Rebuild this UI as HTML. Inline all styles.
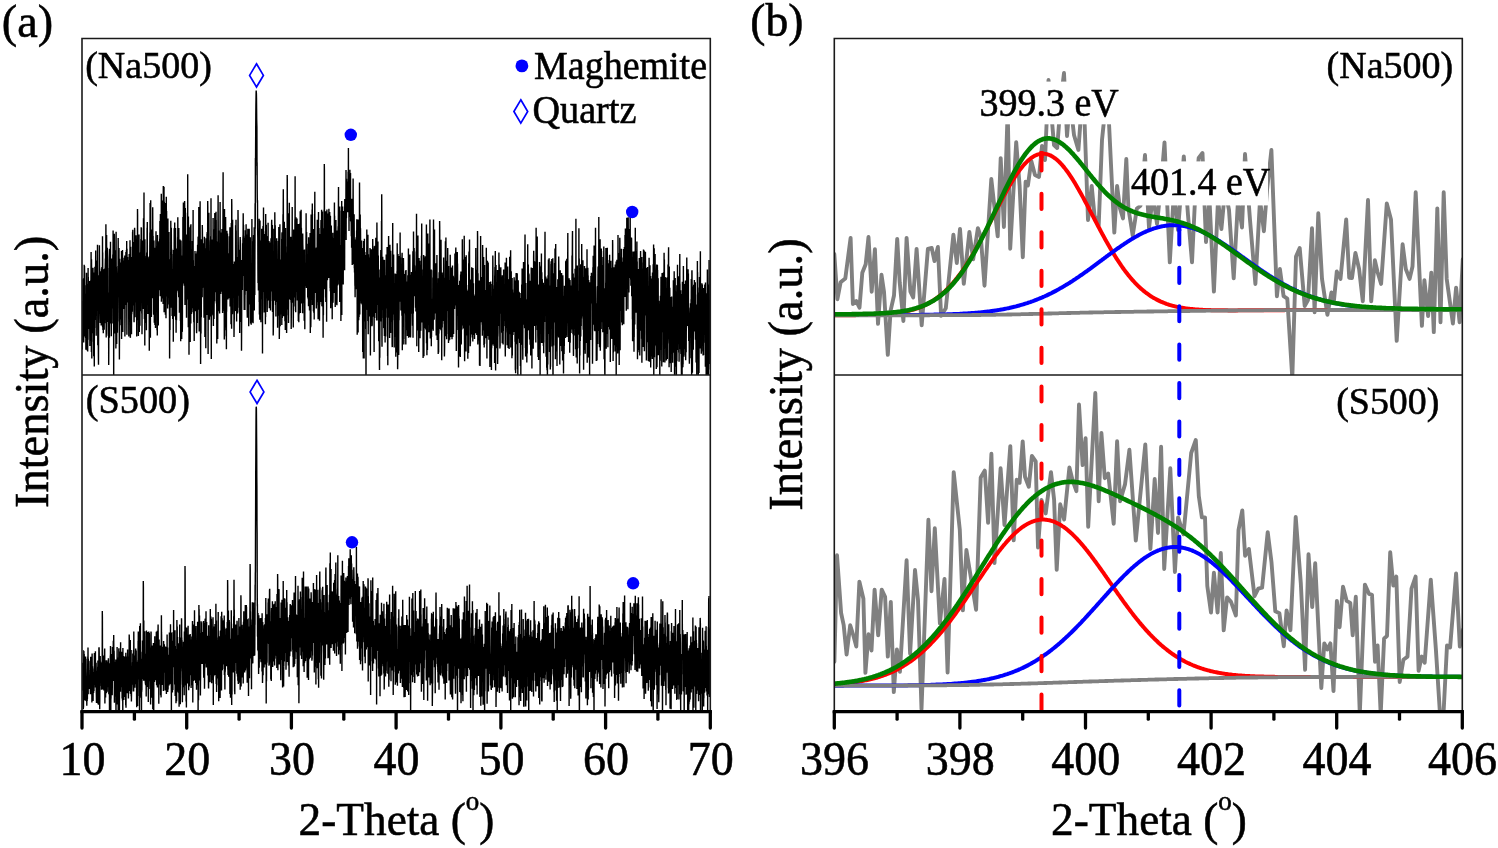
<!DOCTYPE html><html><head><meta charset="utf-8"><title>XRD and XPS</title><style>html,body{margin:0;padding:0;background:#fff;overflow:hidden}svg{display:block;will-change:transform}text{font-family:"Liberation Serif",serif;fill:#000;stroke:#000;stroke-width:0.55px}</style></head><body>
<svg width="1498" height="848" viewBox="0 0 1498 848">
<defs>
<clipPath id="ca1"><rect x="82.0" y="38.5" width="628.3" height="336.5"/></clipPath>
<clipPath id="ca2"><rect x="82.0" y="375.0" width="628.3" height="336.6"/></clipPath>
<clipPath id="cb1"><rect x="834.3" y="38.5" width="628.0" height="336.5"/></clipPath>
<clipPath id="cb2"><rect x="834.3" y="375.0" width="628.0" height="336.6"/></clipPath>
</defs>
<rect width="1498" height="848" fill="#fff"/>
<path clip-path="url(#ca1)" d="M82 301.8l0.1 46.8 0.1 1 0.1-18.1 0.1-5 0.1-25.4 0.1 3.4 0.1 8.8 0.1 0.1 0.1-34.2 0.1 63 0.2-18 0.1-3.4 0.1-20.3 0.1-22.2 0.1 54.8 0.1 9.5 0.1-27.6 0.1 6.1 0.1-16 0.1-2 0.1-38.3 0.1 56.9 0.1-32.4 0.1-23.3 0.1 7.1 0.1 13.6 0.1 11.4 0.1-3.9 0.1-8.9 0.1 51.2 0.1-6.6 0.2-36.1 0.1 21.3 0.1 22.8 0.1-24.2 0.1 5.1 0.1 31 0.1-37.1 0.1-6.4 0.1 23.5 0.1-27 0.1 43.2 0.1-73.3 0.1 17.5 0.1 2.2 0.1-8.1 0.1 2.9 0.1 49.9 0.1-30.6 0.1 43.9 0.1-34.2 0.1 10.9 0.1-10.4 0.2 34.8 0.1-49.2 0.1-7.8 0.1 45.2 0.1-71.7 0.1 33.5 0.1-24.6 0.1 42.2 0.1 2 0.1-19.8 0.1-14.2 0.1 20 0.1 3.1 0.1-25.9 0.1 39.9 0.1-43.1 0.1 47.9 0.1-11.3 0.1-24.6 0.1 20.5 0.1 8.6 0.2 23.8 0.1-55.4 0.1 25.4 0.1-22.3 0.1 15.6 0.1-1.9 0.1 33.2 0.1-60.1 0.1 42.3 0.1-9.3 0.1-22.7 0.1-17.1 0.1-21.8 0.1 55.4 0.1 16.8 0.1 28 0.1-92.9 0.1 12 0.1 18.2 0.1 69 0.1-57.3 0.2 13.9 0.1-31.8 0.1 4.3 0.1 21.8 0.1-15.9 0.1-11.6 0.1 18.5 0.1-17.3 0.1 6.1 0.1-21.4 0.1 18.4 0.1 47.1 0.1-54.1 0.1 3.6 0.1 59.1 0.1-33.1 0.1 47.6 0.1-42.6 0.1-27.8 0.1-13.3 0.1 22.7 0.2 71.3 0.1-63.2 0.1-27.6 0.1 8.5 0.1 24.7 0.1-10 0.1-32.2 0.1 49.6 0.1-14.4 0.1 3.1 0.1-4.3 0.1 19.1 0.1-6.6 0.1-44.6 0.1-18.3 0.1 43.8 0.1-28.1 0.1 61.9 0.1-34.3 0.1 42.1 0.1-26.3 0.2-3.5 0.1-24.4 0.1-3.6 0.1-17.4 0.1 41.1 0.1-24.2 0.1-14.5 0.1 3.3 0.1 33.7 0.1 10.9 0.1-66.2 0.1 44.4 0.1-3.8 0.1 60 0.1-42 0.1-28 0.1 12.1 0.1 35.1 0.1 20.8 0.1 13.6 0.1 7.8 0.1-42.3 0.2-20.4 0.1-17 0.1 17.6 0.1-2.8 0.1-10.8 0.1 9.2 0.1-52.9 0.1 13.5 0.1 21 0.1-4.5 0.1 28.6 0.1-18.2 0.1 9.1 0.1 18.8 0.1 9.5 0.1-6.5 0.1-8.3 0.1-19.4 0.1-17.7 0.1 4.1 0.1 46.3 0.2-8.3 0.1-16.9 0.1 29 0.1-33 0.1-1 0.1-22.9 0.1 34.4 0.1 13.4 0.1-33.2 0.1-16.2 0.1 3.3 0.1 48.4 0.1-34.5 0.1 13.4 0.1-16.7 0.1-44.6 0.1 90.8 0.1-74.6 0.1 72.3 0.1 5.4 0.1-47.8 0.2-12.7 0.1 63.6 0.1-40.1 0.1 18.6 0.1-12.4 0.1 16.8 0.1-0.7 0.1-29.1 0.1 6.9 0.1 3.9 0.1 32.6 0.1-60.7 0.1 27 0.1 1.6 0.1 21.6 0.1 4 0.1-54.8 0.1 39.6 0.1-14.3 0.1-3.6 0.1-21.7 0.2-10 0.1 23.8 0.1-31.6 0.1 38.7 0.1-26.9 0.1-38.1 0.1 32.6 0.1 57.6 0.1 23.1 0.1-40.8 0.1 37.8 0.1-41.3 0.1-58.2 0.1 29.1 0.1 56.6 0.1-48.3 0.1 28.9 0.1-9.6 0.1-23.2 0.1-20.8 0.1 2.9 0.2 5.9 0.1 3.1 0.1 62.3 0.1-0.9 0.1-28.6 0.1 21.6 0.1 2.7 0.1 18.7 0.1 0.1 0.1-22.6 0.1-16.4 0.1 68.5 0.1-17.9 0.1-50.5 0.1 23 0.1-15.7 0.1 30 0.1-66.1 0.1 69.8 0.1-88.9 0.1 62.7 0.1-14.9 0.2-35.2 0.1 35.3 0.1 5.7 0.1-43.3 0.1 30.8 0.1 21 0.1-69.1 0.1 42.5 0.1 1.2 0.1 38 0.1-14 0.1 4.1 0.1 0.2 0.1-17.7 0.1 40.2 0.1-26.1 0.1 7.9 0.1-3.8 0.1-43.9 0.1-12 0.1 48.3 0.2 16.9 0.1-48 0.1 9.8 0.1 23 0.1-5.2 0.1-35 0.1 34.5 0.1-48.3 0.1 29.9 0.1 22.7 0.1-76.6 0.1 68.8 0.1-26.4 0.1 18.9 0.1-26.9 0.1 23.9 0.1 96.5 0.1-108.6 0.1 45.9 0.1-33.3 0.1 21.2 0.2-76.7 0.1 3 0.1 41.3 0.1 30.8 0.1 9.5 0.1-17.1 0.1 0.3 0.1 32.1 0.1-42.2 0.1-41.2 0.1 32.9 0.1-15.4 0.1 47.6 0.1-20.9 0.1-14.1 0.1 6 0.1 62.3 0.1-20.7 0.1-96.1 0.1 65.3 0.1-30.4 0.2 8.5 0.1 3.3 0.1 65.6 0.1-21.3 0.1-7.1 0.1-10.8 0.1-1.3 0.1 19.3 0.1-24.7 0.1 34.5 0.1-48 0.1 36.7 0.1-25.5 0.1-8.2 0.1-21.8 0.1 19.9 0.1-17.3 0.1-30.4 0.1 29.8 0.1 6.1 0.1-1.5 0.2 22.3 0.1-4.9 0.1 7.2 0.1-49.1 0.1 42.4 0.1 29.8 0.1 11.2 0.1 28.1 0.1-25.9 0.1-43.7 0.1-31.1 0.1 36.2 0.1-13.4 0.1 43.6 0.1-19.5 0.1 13.7 0.1-44.9 0.1 17.6 0.1-29.6 0.1 1.6 0.1 18.9 0.1 16.2 0.2-25 0.1 25.8 0.1-9.9 0.1-6.5 0.1 16.3 0.1-48.9 0.1 88.1 0.1-39 0.1-3.3 0.1-9.8 0.1-3.2 0.1-29.2 0.1 34.4 0.1 8.3 0.1-23.2 0.1-24.1 0.1 29.5 0.1-21.7 0.1 74.1 0.1-71.4 0.1 40.4 0.2-5.9 0.1-11.4 0.1 18.4 0.1-36.7 0.1 30.7 0.1 12.9 0.1-33.2 0.1 23.5 0.1-36.8 0.1 41.4 0.1-24.3 0.1-21.8 0.1 30.3 0.1 16.9 0.1-20.5 0.1-20.2 0.1-8.6 0.1 81 0.1-8.8 0.1-34.6 0.1-0.6 0.2 12.3 0.1-47.7 0.1 18.6 0.1 9.4 0.1-4.9 0.1-28.2 0.1 21.8 0.1-2.2 0.1 5.5 0.1 5 0.1-32.3 0.1 24.4 0.1-5.9 0.1-27.5 0.1 75.2 0.1 18.6 0.1-85.9 0.1 48.6 0.1-10 0.1-12.7 0.1 2.2 0.2-19.8 0.1 20.8 0.1-2.6 0.1-15.3 0.1 2 0.1-1.7 0.1 26.3 0.1 16 0.1-35.2 0.1 13.7 0.1-5.9 0.1 34.2 0.1 27.2 0.1-26.7 0.1-24.8 0.1-1.5 0.1-29.6 0.1 6.3 0.1 45.5 0.1 3.8 0.1 5.8 0.2-44.1 0.1 21 0.1-52 0.1 58.8 0.1-47.2 0.1 85 0.1 0.9 0.1-29.2 0.1-14 0.1-47.8 0.1 29.6 0.1 26.7 0.1-41.1 0.1 11.3 0.1 5 0.1-2.5 0.1 43 0.1 15.5 0.1-52.5 0.1-22.4 0.1 54.8 0.1-57.1 0.2 23.8 0.1 16.9 0.1-30.6 0.1 44.5 0.1-34.7 0.1-45.2 0.1 30.7 0.1-32.7 0.1 44.2 0.1-24.2 0.1 33.4 0.1-1.5 0.1 22 0.1-39.3 0.1 20.5 0.1 20.7 0.1-23.1 0.1-32.7 0.1-7.7 0.1 78.5 0.1 1.6 0.2-15.8 0.1-3 0.1-34.7 0.1-41 0.1 2.8 0.1 70.4 0.1-33.7 0.1-21.5 0.1 71.5 0.1-19.8 0.1-29.5 0.1 23.6 0.1-23.7 0.1 11.1 0.1-12 0.1 17.3 0.1 4.8 0.1-53.8 0.1 67.3 0.1-25.9 0.1-13.1 0.2-24.3 0.1 36 0.1 61.2 0.1-1.9 0.1-35.6 0.1-30 0.1 7.1 0.1-2.7 0.1-6.8 0.1 7.1 0.1-64.6 0.1 6 0.1 105.2 0.1-74.1 0.1-6.7 0.1 12.3 0.1 25.2 0.1-9.8 0.1 9.4 0.1 59.4 0.1-93.9 0.2-7.3 0.1 32.8 0.1-19 0.1-13.9 0.1 72.4 0.1 0.9 0.1 24 0.1-55.8 0.1-23.6 0.1 54.1 0.1 1.2 0.1-47.4 0.1 65.3 0.1-47.8 0.1 1.1 0.1-11.5 0.1 43.8 0.1-13.7 0.1-20.3 0.1 7.5 0.1-27.2 0.2-18.7 0.1 25.2 0.1 19.1 0.1-56 0.1 25.7 0.1-24.8 0.1 20.4 0.1 15.5 0.1 5.8 0.1 43.8 0.1-42 0.1 62.7 0.1-26.6 0.1-63.2 0.1 14.9 0.1-19 0.1 65.3 0.1-42.3 0.1 28.1 0.1 9.5 0.1-45 0.1 14 0.2 39.1 0.1-42.2 0.1 35.4 0.1-84 0.1 46.2 0.1-41 0.1 33.4 0.1-27.2 0.1-37.3 0.1 83.3 0.1 27.2 0.1-4 0.1 20.1 0.1-5.9 0.1-62 0.1 14.6 0.1 79.9 0.1-106.3 0.1 25.2 0.1 6.5 0.1-14.9 0.2 67 0.1-18.3 0.1-40.6 0.1 44.2 0.1 8.3 0.1-31.6 0.1 24.4 0.1-23.3 0.1-4.7 0.1 19.7 0.1 29.1 0.1-40.2 0.1-31.1 0.1-6.5 0.1 38.7 0.1-33.7 0.1 26.4 0.1-56.1 0.1 14.1 0.1-20 0.1 70.4 0.2-34.9 0.1 2.2 0.1 2.6 0.1 51.9 0.1-43.3 0.1 12.1 0.1-0.5 0.1-21.8 0.1 20.6 0.1-16 0.1 22.9 0.1-22.1 0.1 25.1 0.1 3.3 0.1-27.4 0.1-10.5 0.1 51.4 0.1 42.8 0.1-70.1 0.1 19.2 0.1-12.8 0.2-40.1 0.1-14.3 0.1 28.2 0.1-57.8 0.1 6 0.1 91.3 0.1 37.4 0.1-77.2 0.1-28.2 0.1-32 0.1 73.6 0.1 31.9 0.1-37.6 0.1 16.4 0.1-27.6 0.1 22.6 0.1 37.5 0.1-65.4 0.1 14.5 0.1-0.4 0.1-36.4 0.2 31.3 0.1 11.6 0.1 26 0.1-7.3 0.1 1.1 0.1-26.9 0.1-18.1 0.1-39.9 0.1 22.8 0.1 7.6 0.1 25.7 0.1-27.3 0.1 59.7 0.1-14.9 0.1-32.6 0.1 64.7 0.1 1.8 0.1-1.4 0.1-42.6 0.1-30.1 0.1 12.4 0.1-2.2 0.2 71.9 0.1-55.7 0.1 38.6 0.1-13.6 0.1 6.5 0.1-14.5 0.1 41 0.1-77.3 0.1 41.6 0.1 16.9 0.1 17.8 0.1-57.8 0.1 61.8 0.1-51.5 0.1-15 0.1 18.5 0.1-38.9 0.1-9.8 0.1 68.9 0.1-31.2 0.1-22.8 0.2 24.5 0.1-4.9 0.1 46.4 0.1-34.5 0.1 1.1 0.1 51.4 0.1-50.5 0.1 42.1 0.1 13.8 0.1-75.5 0.1-25.1 0.1 35.1 0.1 27 0.1-16.8 0.1 2.8 0.1 10.2 0.1-3 0.1-49.1 0.1 84.2 0.1-60.1 0.1-22.2 0.2 7.6 0.1 32.6 0.1 7 0.1-28.6 0.1-7.7 0.1 11.5 0.1-3.4 0.1 11.4 0.1-31.1 0.1 43.3 0.1-46.9 0.1 13.3 0.1-31.2 0.1 0.8 0.1 55.9 0.1 18.7 0.1-49.1 0.1-33.2 0.1 45.6 0.1 12.1 0.1-9.7 0.2 33.7 0.1-35.7 0.1 22.5 0.1 12.7 0.1-101.5 0.1 108 0.1-47.7 0.1-34.7 0.1 79.2 0.1-29.6 0.1 5.8 0.1-48 0.1-26.2 0.1 64.7 0.1 24.7 0.1-63 0.1 68.6 0.1-42 0.1-11.9 0.1 36.3 0.1-38.1 0.2 64.1 0.1-76.3 0.1-41.6 0.1 6 0.1 45.3 0.1 6.8 0.1-30.7 0.1 34.1 0.1 7.9 0.1-68.6 0.1 125.4 0.1-86 0.1-24.5 0.1 83.4 0.1 12.3 0.1-59.7 0.1-30.1 0.1 39.3 0.1 38 0.1-39.6 0.1-24.1 0.1 45.8 0.2 47.8 0.1-59.9 0.1-25.5 0.1-26.4 0.1 105.1 0.1-16.6 0.1 26.7 0.1-71.3 0.1 22.7 0.1-72.8 0.1 32.5 0.1-13.6 0.1-4.8 0.1 38.5 0.1-1.2 0.1 48.3 0.1-19.3 0.1 0 0.1-20.3 0.1 18.6 0.1-16.3 0.2 49.3 0.1-36.4 0.1-50.2 0.1-3.3 0.1 86 0.1-17.5 0.1 2.5 0.1-16.2 0.1-1.6 0.1 25.8 0.1-14.7 0.1 5.1 0.1-40.7 0.1 6.2 0.1-21.5 0.1 49 0.1 6.2 0.1-12.7 0.1-15.3 0.1 55.3 0.1 44 0.2-58.2 0.1 12 0.1 17.6 0.1-48.7 0.1-9.4 0.1 28.6 0.1 7.4 0.1-9.9 0.1-11.3 0.1-10.4 0.1-55.4 0.1 86.9 0.1-20.6 0.1-33.2 0.1-14.1 0.1-12.1 0.1 17.6 0.1 32 0.1-28.5 0.1 40.4 0.1-14 0.2-6.3 0.1 47.2 0.1-5.2 0.1-17.5 0.1-10.8 0.1 14 0.1-20.3 0.1 42.6 0.1-35.3 0.1 3.8 0.1 5.4 0.1-24.8 0.1-13.9 0.1 87.6 0.1-91.8 0.1 6.2 0.1 4.5 0.1 25.5 0.1-18.2 0.1 4.2 0.1 44.3 0.2-88.1 0.1 38.6 0.1-15.6 0.1 48.8 0.1-61.6 0.1-15.9 0.1 62.7 0.1 2.2 0.1 28.5 0.1-46.8 0.1 15.4 0.1 4 0.1-53.1 0.1-7.6 0.1 21 0.1 70.9 0.1-9.1 0.1-23.6 0.1 20.4 0.1 25.2 0.1-38.9 0.1 6.1 0.2 20.4 0.1-45.2 0.1-10.2 0.1 27.6 0.1-44.1 0.1 34.5 0.1-6.2 0.1 12.7 0.1-22.5 0.1-13.3 0.1 23.5 0.1-39.5 0.1 39.9 0.1-60.3 0.1 38.8 0.1-3.2 0.1-8.5 0.1 46.4 0.1-44.9 0.1 3.7 0.1 3 0.2 44.8 0.1-69.3 0.1 21.6 0.1 3.9 0.1 2.9 0.1-0.2 0.1-9.3 0.1 65.8 0.1-0.4 0.1-32.8 0.1-40.1 0.1 54.5 0.1-33.4 0.1-21 0.1 55.7 0.1-24.3 0.1 13.2 0.1 37 0.1-41.7 0.1 32.4 0.1 29.4 0.2-25.2 0.1-75.6 0.1 8.8 0.1 70 0.1-35.9 0.1-22 0.1 25.9 0.1 17.8 0.1 34.1 0.1-53.6 0.1-30.1 0.1 76.7 0.1-50.8 0.1-17 0.1 67.5 0.1-7.9 0.1-50.7 0.1 12.3 0.1-20.7 0.1 9 0.1-56.9 0.2 22.9 0.1 10.4 0.1 3.1 0.1-50.7 0.1 80.8 0.1-17.2 0.1-4.1 0.1 19.2 0.1-11.9 0.1 8.4 0.1-50.6 0.1 24.2 0.1-12.1 0.1 46.4 0.1-26.7 0.1-58 0.1 6 0.1 14.3 0.1 45.7 0.1 37.9 0.1-10.4 0.2-86.5 0.1 21.5 0.1-16.7 0.1 50.3 0.1-22.5 0.1 56.4 0.1-43.2 0.1-1.8 0.1-4 0.1 20.2 0.1 8.6 0.1-3.1 0.1 44.1 0.1-31.7 0.1-23.7 0.1-27.9 0.1 33.7 0.1 16.3 0.1 15 0.1-18 0.1 13.1 0.1-25.6 0.2-3.4 0.1-91.3 0.1 116.5 0.1 2 0.1-35.6 0.1 13.1 0.1-11.6 0.1 68.5 0.1-110.7 0.1 57.1 0.1 36.1 0.1-41.3 0.1 32.8 0.1-46.5 0.1 100.1 0.1-92.1 0.1 2.4 0.1 17.2 0.1 33.1 0.1-41.9 0.1 50.2 0.2-66.8 0.1-29.7 0.1 64.7 0.1 41.9 0.1 8.3 0.1-84.4 0.1 21.4 0.1-53.7 0.1 61.3 0.1 4.6 0.1 32.2 0.1-99.3 0.1 56 0.1-3.1 0.1-15.2 0.1 32.6 0.1-22 0.1 41.6 0.1-7.4 0.1-36.6 0.1-15.5 0.2 14.7 0.1 23.6 0.1-43.4 0.1 44.3 0.1-52.7 0.1 64.2 0.1-52.8 0.1 55.3 0.1 0.2 0.1-36.2 0.1-12 0.1-49.9 0.1 102.3 0.1-52 0.1 16.8 0.1-9.3 0.1 26.7 0.1 14.3 0.1 13.5 0.1-35.9 0.1 10.2 0.2 44.4 0.1-60.3 0.1 6.1 0.1-20.8 0.1 26.9 0.1-3 0.1 13.4 0.1-2.7 0.1-49.4 0.1 57.4 0.1 2.6 0.1-3 0.1 1.6 0.1-29.2 0.1 24.5 0.1-25.3 0.1 20.6 0.1-46.8 0.1 32.9 0.1-30.5 0.1 8.6 0.2 22.6 0.1 41.5 0.1 4.6 0.1-6.1 0.1-42.2 0.1-20.2 0.1-13.4 0.1 7.7 0.1 18.6 0.1 1 0.1 44.5 0.1-45.4 0.1-32.9 0.1 45.3 0.1-31.8 0.1 18.7 0.1-16.1 0.1-24.2 0.1 36.1 0.1 37 0.1-73.3 0.1 49.1 0.2 17.1 0.1-95.7 0.1 6 0.1 57.9 0.1-10.8 0.1 71.3 0.1-49 0.1-10.9 0.1 46.8 0.1-42.6 0.1-17.8 0.1 45.7 0.1 2.9 0.1-42.1 0.1-63.2 0.1 66.7 0.1 0.8 0.1 51 0.1-33.9 0.1 78.3 0.1-48.8 0.2 2.4 0.1 15.8 0.1-94.2 0.1 51.2 0.1 26.8 0.1-35.8 0.1-16 0.1 3 0.1 21.1 0.1-42.6 0.1 3.6 0.1 5 0.1-4.2 0.1 45.8 0.1-72.2 0.1 5.7 0.1 12.6 0.1 16.3 0.1 27.4 0.1 0.7 0.1-1.9 0.2-24.3 0.1 25.3 0.1-28.9 0.1 8 0.1-22.6 0.1 36 0.1-26.5 0.1 17.1 0.1 14.8 0.1 33 0.1-60.1 0.1 24.3 0.1 2.1 0.1-47.3 0.1 5 0.1 39.5 0.1 20.8 0.1-53.8 0.1 88.7 0.1-51.7 0.1 31.4 0.2 3.7 0.1-24.5 0.1 17.7 0.1 17.6 0.1-40.1 0.1 57.3 0.1-35.5 0.1-40.9 0.1-33.7 0.1 5.3 0.1 27.9 0.1 10.2 0.1-25.6 0.1 25.6 0.1-43 0.1 50.7 0.1 25.7 0.1-81.2 0.1 65.6 0.1-67.4 0.1 63.5 0.2-9.9 0.1-11.3 0.1-73.3 0.1 6 0.1 84.6 0.1-74.8 0.1 137.1 0.1-72 0.1 12.8 0.1-40.5 0.1-16.6 0.1-18.6 0.1 47.4 0.1 16.2 0.1-69.8 0.1 34.2 0.1-6.8 0.1 16.5 0.1 36 0.1 27.1 0.1-19.8 0.1-29.7 0.2-2.7 0.1-8 0.1 43.9 0.1 13.1 0.1-61.5 0.1 3.8 0.1 46.1 0.1-25.7 0.1-32.7 0.1-10.3 0.1 24 0.1 3 0.1-65.1 0.1 83 0.1 28.4 0.1 49.5 0.1-98.2 0.1-8.3 0.1 63.1 0.1-6.5 0.1-17 0.2-29 0.1-2.8 0.1 8.1 0.1-28.9 0.1 17.1 0.1 22.1 0.1 13.1 0.1 3.4 0.1 3.6 0.1 15.8 0.1-31.3 0.1-65.3 0.1 64.4 0.1 21 0.1 22.5 0.1-51.2 0.1 18.8 0.1 1.4 0.1 3.6 0.1 9.6 0.1 10.9 0.2-27.8 0.1-21.2 0.1-40.9 0.1 41.3 0.1 30.8 0.1-54.1 0.1-34.2 0.1 52.4 0.1 18.2 0.1-2.8 0.1 0.1 0.1-18.3 0.1 29.7 0.1-7.9 0.1-13 0.1 11.2 0.1-13.9 0.1-0.2 0.1-56.8 0.1 47.3 0.1-38.9 0.2 83.5 0.1-41.7 0.1-0.5 0.1 29.8 0.1 52.2 0.1-90.5 0.1 19.6 0.1-31.1 0.1 9.4 0.1 20.4 0.1 57.1 0.1-53.1 0.1 16.8 0.1 46.9 0.1-42.3 0.1-47.2 0.1-26.4 0.1-27.7 0.1 29.6 0.1 55.2 0.1-28.6 0.2-21.1 0.1 65 0.1-8.5 0.1 24.4 0.1-9 0.1-2.3 0.1-3.7 0.1-31.2 0.1-2.8 0.1 12.4 0.1 38.7 0.1-14.2 0.1-27.9 0.1-6.5 0.1 8.9 0.1-71.7 0.1 68 0.1-15.5 0.1 2.2 0.1 32.3 0.1-28.1 0.1 33 0.2-54.9 0.1-6.4 0.1 59.1 0.1-15.3 0.1-15.5 0.1-10.4 0.1-13.7 0.1 36 0.1-4.7 0.1-19.1 0.1 3.8 0.1-23.7 0.1 57.3 0.1-21.5 0.1 11.1 0.1-43.4 0.1 62.4 0.1 17.9 0.1-41.2 0.1 39.2 0.1-70.6 0.2-68 0.1 80.1 0.1 28.1 0.1 11.7 0.1-22.6 0.1 25.7 0.1 13.9 0.1-76.4 0.1-2.7 0.1 24.1 0.1 41.6 0.1-6.3 0.1 49.9 0.1-83.8 0.1-46.5 0.1 121.1 0.1-36.4 0.1-21.8 0.1 55.5 0.1-82.3 0.1 15.8 0.2 30.2 0.1 20.4 0.1-36.4 0.1-58.3 0.1 19.9 0.1 63 0.1-48.8 0.1 45.7 0.1 39.5 0.1-15.6 0.1-1.7 0.1 30.4 0.1-76.6 0.1 39 0.1-13.1 0.1-43.4 0.1-24.5 0.1 7.4 0.1 11.3 0.1 1.9 0.1-5.8 0.2-12 0.1 41.2 0.1 7.3 0.1-25.3 0.1 33.6 0.1 9.1 0.1-7.6 0.1-18.4 0.1-14 0.1 9.2 0.1-10 0.1 31.9 0.1-9.7 0.1-27.5 0.1 3.6 0.1 17 0.1-3.7 0.1 2.6 0.1-36.5 0.1 61.9 0.1-29.7 0.2 2.3 0.1 6 0.1-49.5 0.1 50.5 0.1 28.8 0.1-27.1 0.1-27 0.1-20.2 0.1 11.6 0.1-6.3 0.1 26 0.1 31.2 0.1-3.1 0.1 32.5 0.1-15.9 0.1-44.7 0.1-40.7 0.1 49.6 0.1 38.1 0.1 18.2 0.1-129.8 0.1 6 0.2 98.2 0.1-11.4 0.1-21.9 0.1 16.4 0.1 28 0.1-2.7 0.1-91.9 0.1 72.6 0.1-8.7 0.1 7.3 0.1-20.9 0.1 24.9 0.1-6.9 0.1-12.2 0.1-11.8 0.1 33.6 0.1-25 0.1 11.7 0.1-1.1 0.1-15.1 0.1 68.8 0.2-16 0.1-2.4 0.1-56.9 0.1 20.3 0.1-11.4 0.1-5.5 0.1 8.9 0.1 31.6 0.1-34.8 0.1-4.1 0.1-1.2 0.1 12.3 0.1 24 0.1 9.4 0.1-85.8 0.1 72.2 0.1-8.3 0.1 17.4 0.1-86.8 0.1 48.6 0.1-37.8 0.2 80.8 0.1-16.8 0.1 27 0.1-41.6 0.1-20.7 0.1 7.9 0.1 20.4 0.1-30.6 0.1 4.3 0.1 45.2 0.1-38.3 0.1 16.7 0.1 28.5 0.1-13.4 0.1 11.9 0.1-61.3 0.1-40.5 0.1 9.5 0.1 17.9 0.1 9.5 0.1 42.5 0.2-11.9 0.1-16 0.1-11.9 0.1 16.9 0.1 23.9 0.1 5.3 0.1-36 0.1 22.7 0.1 24.4 0.1 1.1 0.1-40.8 0.1 65.8 0.1-33.6 0.1-27.5 0.1-18.2 0.1-13.5 0.1-3.2 0.1 25.5 0.1-22.8 0.1 33.5 0.1-9.3 0.2 57.3 0.1-56.1 0.1 57 0.1-9.7 0.1-16.4 0.1-36 0.1 16.3 0.1 74.4 0.1-19.7 0.1-17 0.1-43.3 0.1-2.2 0.1 4.5 0.1-7.8 0.1 0.4 0.1 13.6 0.1 10.8 0.1-29.7 0.1-17 0.1 31.3 0.1-2 0.1-33.2 0.2-5.4 0.1-20.8 0.1 15 0.1 47.7 0.1-50.8 0.1 32.2 0.1-21.6 0.1 20.8 0.1 12.7 0.1-31.5 0.1 53.1 0.1 19.3 0.1-66.2 0.1 20.6 0.1 6.7 0.1-21.1 0.1 32.1 0.1 16.4 0.1 11.5 0.1-28.7 0.1 13.3 0.2-64.4 0.1 43.8 0.1 16.4 0.1-26.5 0.1 19.3 0.1-4.2 0.1 0.7 0.1 11.1 0.1-66.6 0.1 40.1 0.1-29 0.1 19.3 0.1 29.7 0.1-17.1 0.1-32.7 0.1 25.2 0.1-5.7 0.1 33.7 0.1-3.1 0.1 25.9 0.1 7.1 0.2-12.5 0.1-46.8 0.1 7.7 0.1-37.3 0.1 19.4 0.1 25.1 0.1 23.7 0.1-23.7 0.1-9.3 0.1 32 0.1-30.2 0.1-33.5 0.1 93.9 0.1-7.6 0.1-84.4 0.1 45.5 0.1-21.7 0.1-29.3 0.1 43.8 0.1 17.2 0.1 14.9 0.2-14.8 0.1-15.9 0.1 11.3 0.1-5.6 0.1-40.3 0.1 55.5 0.1-57.5 0.1 26.1 0.1 20.1 0.1 39.9 0.1-53.9 0.1 6.1 0.1 39.3 0.1-28 0.1-6.7 0.1 44.5 0.1-57.1 0.1-2.4 0.1 17.2 0.1 15.8 0.1 24.2 0.2-103.4 0.1 32.1 0.1 63.7 0.1-2.7 0.1-46.9 0.1 32.8 0.1-9 0.1-47.7 0.1 26.6 0.1-6.9 0.1-16.4 0.1 51.6 0.1 27.1 0.1-46.1 0.1-16.4 0.1 17.9 0.1-39.3 0.1-4.3 0.1 15.9 0.1 35.6 0.1-27.5 0.1 30 0.2-61.8 0.1 83.2 0.1-31.1 0.1-11.3 0.1-32.1 0.1 4.7 0.1 54.4 0.1-40.4 0.1-20.1 0.1-31.3 0.1 25.5 0.1-13.2 0.1-57.7 0.1 17.3 0.1-25.1 0.1-19.7 0.1-15.5 0.1-9.6 0.1-6.2 0.1-7.1 0.1-1.4 0.2 3.2 0.1 4.4 0.1 10.2 0.1 11.1 0.1 4.2 0.1 3.1 0.1 37.5 0.1-0.1 0.1 25.8 0.1 11 0.1 1.9 0.1-2.7 0.1 27.4 0.1 6.4 0.1 4.4 0.1 30.1 0.1 14.6 0.1-8.9 0.1 5.1 0.1 0.4 0.1 10.8 0.2-4.4 0.1-6.8 0.1 7.6 0.1-35.7 0.1 1.2 0.1-33.7 0.1 83.3 0.1-41.8 0.1 54.3 0.1-14.6 0.1-64.4 0.1 47 0.1 37.2 0.1-48.3 0.1-50.8 0.1 53.9 0.1 30.7 0.1-21.7 0.1-18.1 0.1 10.8 0.1-11 0.2 21.2 0.1 35.9 0.1-56.3 0.1 28.5 0.1-25.3 0.1 3 0.1-31.6 0.1 6.1 0.1 38.2 0.1-56.2 0.1 48.1 0.1-24.3 0.1 24.7 0.1-29.6 0.1-4.4 0.1 55.5 0.1 0.7 0.1 54 0.1-103.4 0.1 0.7 0.1-3.8 0.2-20.9 0.1 39.2 0.1-26.3 0.1 53 0.1-20.3 0.1-64.1 0.1 35.9 0.1 9.4 0.1 0.9 0.1 19.6 0.1-2 0.1 23.5 0.1 17.6 0.1-78.3 0.1 23.4 0.1 35 0.1-23.2 0.1-31.8 0.1 44.2 0.1 12.4 0.1-33.4 0.1 12.6 0.2-24.5 0.1 75.5 0.1-93.1 0.1 85.8 0.1-102.9 0.1 66.2 0.1-12.6 0.1 20.5 0.1-3.5 0.1-45.6 0.1-14.4 0.1 73.7 0.1-23.9 0.1-38.6 0.1 31 0.1-19.3 0.1 28.7 0.1-39.9 0.1 63.8 0.1 11.7 0.1-26.8 0.2-0.2 0.1-3.5 0.1 19.3 0.1-48.9 0.1-5.6 0.1 53.8 0.1-77.2 0.1 68.2 0.1-2.3 0.1-17.1 0.1-9.5 0.1 26.7 0.1-45.9 0.1 22.4 0.1-4.6 0.1-19.6 0.1 24.8 0.1 17.2 0.1 25.2 0.1-24.8 0.1-30 0.2 32.4 0.1 3.1 0.1-14.3 0.1 7.1 0.1-10.6 0.1 1 0.1 22.6 0.1-52.2 0.1 68 0.1-23.8 0.1-16.3 0.1-18.3 0.1-8.6 0.1-5.4 0.1 38.3 0.1 15.1 0.1-4.9 0.1 3 0.1-23.9 0.1-41.8 0.1-4.3 0.2 16 0.1 12 0.1 13.3 0.1 18.8 0.1 21.1 0.1-75.8 0.1 86.8 0.1-9.8 0.1-42.2 0.1 7.4 0.1-7 0.1 31.6 0.1-18.2 0.1 61.7 0.1-4.6 0.1-8.8 0.1-28.1 0.1-22 0.1 21.8 0.1-19.1 0.1-45.9 0.2 29.1 0.1-3.8 0.1 34.6 0.1-23.4 0.1-7.9 0.1 3.6 0.1 39.8 0.1-88.4 0.1 17.7 0.1 17.7 0.1-11.9 0.1-10.6 0.1 30.7 0.1 5.6 0.1 8.5 0.1 35 0.1-63.8 0.1 29.4 0.1 46 0.1-48.9 0.1 13.9 0.1 4 0.2-11.1 0.1 7.3 0.1 19.6 0.1-63.2 0.1 15.3 0.1 18.7 0.1 4.9 0.1-11.7 0.1 31.9 0.1 4.6 0.1-33.7 0.1 12.7 0.1 46.8 0.1-50.4 0.1-14.5 0.1 20.2 0.1 32.8 0.1-10.8 0.1-21.3 0.1-42.7 0.1 39.9 0.2 4.1 0.1-6.4 0.1-51.6 0.1 2.9 0.1 61.1 0.1-17.5 0.1 12.7 0.1 52.9 0.1-9 0.1-33.4 0.1-11 0.1 2.7 0.1 4.3 0.1-68.4 0.1 55.2 0.1-4.2 0.1 51 0.1-66.8 0.1 53.5 0.1-37 0.1 38.6 0.2-25.4 0.1 5.1 0.1-18.6 0.1 24.4 0.1 3.5 0.1-26.3 0.1 4.3 0.1 6.8 0.1-10 0.1-39.3 0.1 85.9 0.1-89.9 0.1-2.7 0.1 52.2 0.1 5.7 0.1 27.7 0.1-14.4 0.1-10.1 0.1-3.5 0.1 2 0.1-55 0.2-22.7 0.1 44.9 0.1-46.4 0.1-23.6 0.1 35.9 0.1 58 0.1 33.2 0.1-6.2 0.1 5 0.1-72 0.1-1.6 0.1 3.9 0.1 63.9 0.1-87.5 0.1 11.8 0.1 32 0.1 7.5 0.1-1.5 0.1-8.5 0.1 58.1 0.1-17.3 0.2-25.7 0.1 51.8 0.1-74.9 0.1-27.1 0.1 76.1 0.1 16.9 0.1-55 0.1 34.1 0.1-39.4 0.1 63.6 0.1-71.8 0.1 33 0.1-9.1 0.1-13.5 0.1 70.2 0.1-11.4 0.1-25.7 0.1 19.3 0.1-68.7 0.1 45.1 0.1-116.7 0.1 6 0.2 128.4 0.1-49.7 0.1 41.4 0.1-18.6 0.1-15.9 0.1-22.1 0.1 14.1 0.1 32 0.1-29.1 0.1-48.3 0.1 109.7 0.1-20.4 0.1-76.5 0.1 42.5 0.1 5.9 0.1-13.6 0.1 2.1 0.1 16.2 0.1-76.4 0.1 28 0.1 29.5 0.2 26.1 0.1-26.9 0.1 31.9 0.1 8.2 0.1-54.7 0.1 34.7 0.1-4.5 0.1-38.2 0.1 41.1 0.1-8.7 0.1 30.7 0.1-63.2 0.1 43.4 0.1 22.3 0.1-13.4 0.1 40 0.1-16.3 0.1-29.6 0.1 17.7 0.1-36.1 0.1 24 0.2-21 0.1 22.6 0.1-13.9 0.1-69.4 0.1 95.8 0.1-15.5 0.1-29.5 0.1-16.1 0.1 20.6 0.1 34.2 0.1-31.1 0.1 27.6 0.1 5.5 0.1 12.8 0.1 16.2 0.1-29.6 0.1-33.1 0.1-15.3 0.1-20.1 0.1 77.1 0.1-47.1 0.2-0.8 0.1 2.9 0.1 22.2 0.1-13 0.1 2.9 0.1 9.7 0.1-37.3 0.1 51.4 0.1-77.9 0.1 17.3 0.1-60.5 0.1 82.2 0.1 6 0.1-5.1 0.1 51.5 0.1-54.1 0.1 55.4 0.1-45.1 0.1 17.7 0.1-67.6 0.1 33.8 0.2 27.9 0.1-7 0.1-5.3 0.1-12.9 0.1-3 0.1 28.3 0.1-34 0.1-26.6 0.1 73.5 0.1-1 0.1 9.7 0.1-50.1 0.1 12.3 0.1 3.4 0.1-14.7 0.1-1.4 0.1-26 0.1 5.9 0.1 24.2 0.1 1.4 0.1 65.3 0.1-69 0.2 6.3 0.1 20.7 0.1 43.3 0.1-33.1 0.1-65 0.1 90.2 0.1-72.3 0.1-5.7 0.1 72.7 0.1-26.6 0.1-32.7 0.1 6.1 0.1-2 0.1 46.1 0.1-77 0.1 49 0.1-60.6 0.1 20.5 0.1 81.3 0.1-21.3 0.1-27.6 0.2-37.5 0.1 34.7 0.1 15.1 0.1-66.8 0.1 52.4 0.1 16.4 0.1-50.8 0.1 30.2 0.1 1.6 0.1 9.4 0.1 34.5 0.1-24.7 0.1-14.9 0.1-3.9 0.1-12.8 0.1 54 0.1-26 0.1-14.8 0.1 53 0.1-79.7 0.1 10.8 0.2 6.9 0.1-1.3 0.1 40.8 0.1-31.3 0.1 22.3 0.1-16.5 0.1-13.1 0.1 45.8 0.1-8.3 0.1 13.5 0.1-11.4 0.1-8.7 0.1 37.7 0.1-34 0.1-27.6 0.1-9.6 0.1 45 0.1 3 0.1 31.7 0.1-50.3 0.1 3.1 0.2-13.5 0.1 11.8 0.1-16.5 0.1 22.1 0.1-20.2 0.1-3 0.1 17 0.1 0.4 0.1-27.9 0.1-39 0.1 60.5 0.1 5.7 0.1 7.6 0.1 0.8 0.1-55.8 0.1 55.6 0.1-30.6 0.1-3.6 0.1-8.5 0.1-1.2 0.1 17.9 0.2 9.9 0.1-5 0.1 4.2 0.1 26.6 0.1-26.5 0.1-6.4 0.1 23.3 0.1 7.2 0.1 4.2 0.1-11.1 0.1-23.8 0.1 41.9 0.1-69 0.1 9.6 0.1 23.8 0.1-16.1 0.1-1.2 0.1 26.4 0.1-13.2 0.1 33.4 0.1-11.6 0.1 22.1 0.2-50.7 0.1 13.7 0.1-28.9 0.1 53.5 0.1-64.9 0.1 18 0.1 81.9 0.1-83.8 0.1 54.7 0.1-43.2 0.1 10.8 0.1 55.8 0.1-9.8 0.1-53.3 0.1-49.7 0.1 21.4 0.1 64.1 0.1-57.7 0.1 40.6 0.1-4.7 0.1-26 0.2 13.9 0.1 6.8 0.1-63.3 0.1 54.5 0.1-60.7 0.1 101.5 0.1-63.4 0.1 44.8 0.1-53.5 0.1 14.4 0.1 36.2 0.1-31.1 0.1 8.2 0.1 20.1 0.1-19.8 0.1 50.5 0.1-24.7 0.1-57.7 0.1 44.8 0.1 39 0.1-73.6 0.2-5.1 0.1 85.4 0.1-58.8 0.1-2 0.1 11.4 0.1-56.1 0.1 11.2 0.1-33.3 0.1 84.9 0.1 0.4 0.1-2.9 0.1-11.4 0.1 2.5 0.1 27.7 0.1-20.6 0.1 13.3 0.1-19.7 0.1 23.8 0.1-14.3 0.1-0.5 0.1-26.7 0.2 60.3 0.1-61 0.1 32.3 0.1-5.6 0.1-7.6 0.1 23.7 0.1-14.1 0.1 26 0.1-16.5 0.1-45.2 0.1-20.9 0.1 28.3 0.1-21.2 0.1 16 0.1-21 0.1 45.6 0.1 37.8 0.1-17.5 0.1 31.6 0.1-64 0.1-9.8 0.2-33.4 0.1 87.6 0.1-29.8 0.1-29.5 0.1 33.9 0.1-46.3 0.1 46.6 0.1 17.2 0.1 24.1 0.1-6.2 0.1 11.1 0.1-40.1 0.1-46.8 0.1 70.5 0.1-54.4 0.1-3.9 0.1 30.6 0.1 12.6 0.1-45.7 0.1 28.9 0.1-19.8 0.1-15.9 0.2 57.2 0.1-65.9 0.1-8 0.1 81.6 0.1-31.9 0.1 32.1 0.1-71.7 0.1 44.6 0.1-65 0.1 12.7 0.1 12.4 0.1 71.3 0.1-70 0.1 6.4 0.1 20.5 0.1 0.2 0.1-51.8 0.1 82.6 0.1 12.4 0.1-52.8 0.1 4.5 0.2 51.3 0.1 28.2 0.1-49.1 0.1-6.2 0.1 32.9 0.1-87.1 0.1 34.8 0.1 7 0.1-8.5 0.1 9.8 0.1-31 0.1-30.6 0.1 79.6 0.1-125.3 0.1 6 0.1 95.6 0.1 21.9 0.1-32.4 0.1 19 0.1-2.2 0.1-22.2 0.2-9 0.1 7.6 0.1 35.5 0.1-4 0.1 17.7 0.1-86.2 0.1 90.6 0.1-57 0.1-29.4 0.1 45.8 0.1-18.5 0.1-1.7 0.1 44.8 0.1-25.4 0.1 61.2 0.1-51.7 0.1 2.7 0.1-63.1 0.1 32.1 0.1-10.2 0.1 19 0.2 29.7 0.1-1.7 0.1-65.1 0.1 34.4 0.1-33.3 0.1 38.2 0.1-30.7 0.1 24.8 0.1 24.2 0.1-39.4 0.1 37.6 0.1 8.4 0.1-16.1 0.1 16.6 0.1-63.7 0.1-5.7 0.1 57.1 0.1-24.9 0.1 30.6 0.1-5.1 0.1-2 0.2-38 0.1-14.3 0.1 23.4 0.1 26.3 0.1-30.3 0.1 56.6 0.1-44.9 0.1 48.1 0.1-75.5 0.1 49.9 0.1-12.7 0.1 55.2 0.1-22.4 0.1-29.3 0.1 7.1 0.1-13.8 0.1 17.9 0.1-42.3 0.1 18.2 0.1 37.2 0.1-28.6 0.1-14.9 0.2 10.6 0.1 21.6 0.1 16.1 0.1 33.6 0.1-47.4 0.1 2 0.1 19.9 0.1 7 0.1-13.3 0.1-54.6 0.1 24.4 0.1 45.6 0.1-5.4 0.1-59.4 0.1 51.8 0.1-25.8 0.1-5.3 0.1 30.8 0.1-47.4 0.1 51 0.1-14.7 0.2-5.5 0.1-29.3 0.1 6 0.1-47.2 0.1 62.8 0.1-49.5 0.1 31.9 0.1 44 0.1-38.1 0.1 38.1 0.1-69.4 0.1 84.8 0.1-19.4 0.1-63.7 0.1 31.4 0.1-15 0.1 22 0.1 16.9 0.1-59.1 0.1 63.2 0.1-12.4 0.2-13.8 0.1-4.2 0.1-22.4 0.1 74 0.1-30.9 0.1 3.3 0.1 28.3 0.1-8.9 0.1-45.1 0.1-19.3 0.1 6.1 0.1 39.1 0.1-46.7 0.1 55.1 0.1-8.2 0.1-2.9 0.1-15 0.1-27.7 0.1-5.5 0.1 37.4 0.1-39.1 0.2-37.4 0.1 57.1 0.1-18.7 0.1 37.3 0.1-31.6 0.1-4 0.1 57.2 0.1-4.2 0.1-58.5 0.1 40.4 0.1 12.1 0.1-33.3 0.1 61 0.1-95.3 0.1 42 0.1-37.9 0.1 41 0.1 3.4 0.1 4.1 0.1 24.7 0.1-10.6 0.2-28.2 0.1 33.9 0.1 42.1 0.1-48.3 0.1-4.7 0.1-3.3 0.1-16.6 0.1 33.7 0.1-17.9 0.1-14.6 0.1-48.5 0.1 114.1 0.1-87.4 0.1 33.1 0.1-14 0.1-26.8 0.1 22.8 0.1-33.2 0.1 8.2 0.1-11.2 0.1 32 0.1 32.2 0.2-26.4 0.1 10.6 0.1 29.6 0.1-38.2 0.1-15.7 0.1 14 0.1-8.6 0.1 0.2 0.1 31.3 0.1-56.5 0.1 27.5 0.1-9.3 0.1 1 0.1 7.3 0.1-13.2 0.1 36.6 0.1 9.4 0.1-60.3 0.1-11 0.1 34.4 0.1 0.6 0.2-8.5 0.1-20.2 0.1 19.1 0.1-17.3 0.1 13.2 0.1-13.1 0.1 1.8 0.1-5.9 0.1-33.2 0.1 70.2 0.1-41.6 0.1-4.9 0.1 24.6 0.1-39.4 0.1 15.4 0.1 10.1 0.1-17.4 0.1 24 0.1-18 0.1-6.7 0.1 2.4 0.2 1.2 0.1-8.3 0.1 12.9 0.1 17.8 0.1-19.1 0.1 10.8 0.1 8.3 0.1-40.4 0.1 6.1 0.1 15.9 0.1-45.9 0.1 50.5 0.1-23.8 0.1 10.8 0.1-1.3 0.1 14.9 0.1 32 0.1-31.1 0.1 15.4 0.1-14.7 0.1 2.8 0.2-18.6 0.1-9.4 0.1 14.6 0.1-20.3 0.1 26.6 0.1 15.2 0.1-20.4 0.1 4.3 0.1 21.7 0.1-44.2 0.1 48 0.1-6.7 0.1-11.5 0.1 19.1 0.1-11 0.1 9.5 0.1 3.3 0.1 12.6 0.1-37.4 0.1 0.6 0.1 48.3 0.2-25.6 0.1 0.5 0.1-16.1 0.1 33.9 0.1 24.5 0.1-23.5 0.1-38.9 0.1 15.8 0.1-19.6 0.1 14.7 0.1 29.1 0.1-31.7 0.1-0.2 0.1-32.2 0.1 30.1 0.1 26.1 0.1 29.6 0.1-14.9 0.1-27.2 0.1 18.5 0.1-7.1 0.1 24.1 0.2-43.3 0.1 18.6 0.1 35.3 0.1-18.4 0.1 22.6 0.1-4.7 0.1-17.9 0.1 27.2 0.1 8.7 0.1-1.6 0.1 13.1 0.1-19.1 0.1-38 0.1 26 0.1-26.5 0.1 7.5 0.1-7.2 0.1 5.4 0.1 43.9 0.1-37.4 0.1-14.6 0.2 10.1 0.1 6.1 0.1 0.6 0.1-23.4 0.1 17.6 0.1-29 0.1 47.5 0.1 17.9 0.1-6.5 0.1 56.7 0.1-51.7 0.1-25.5 0.1-26.3 0.1 17 0.1 51.3 0.1-55.1 0.1 30 0.1-9.8 0.1 67.7 0.1-112.9 0.1 52.1 0.2 8.6 0.1 12.2 0.1 27.9 0.1-31.8 0.1-31.9 0.1 32.5 0.1 27.8 0.1-22.2 0.1-9.9 0.1-46 0.1-56.2 0.1 18.8 0.1 42.7 0.1 70.5 0.1-62.1 0.1-38.1 0.1 63.3 0.1-63.1 0.1 26.7 0.1 34 0.1-47.1 0.2 28.4 0.1-0.7 0.1 45.3 0.1-22.2 0.1-20.7 0.1-9.8 0.1 55 0.1-10.5 0.1-17.7 0.1-34.9 0.1 27.4 0.1 32.9 0.1-2.4 0.1-32.6 0.1 38.9 0.1-56.7 0.1 29.8 0.1-9.5 0.1 5.8 0.1 49.6 0.1 28.5 0.2-88.6 0.1 10.2 0.1-5.2 0.1 22.9 0.1 67.1 0.1-41.6 0.1-19.3 0.1-56.5 0.1 16.5 0.1 31.2 0.1 22.5 0.1-41 0.1 88.2 0.1-56.6 0.1-48 0.1-15.2 0.1 51.5 0.1 23.4 0.1-20.2 0.1-34 0.1-7.3 0.1 67.3 0.2-34.8 0.1 29.1 0.1 7.7 0.1-66.4 0.1 16 0.1 58.1 0.1-70.6 0.1 50.6 0.1 90 0.1-121.3 0.1 11.3 0.1-1.8 0.1-10.1 0.1 17.5 0.1 9.7 0.1-10.7 0.1-64.1 0.1 45.5 0.1 22.7 0.1-23.1 0.1-8.5 0.2 5.4 0.1 38.4 0.1-49.9 0.1 13 0.1 47.8 0.1-86.1 0.1 54.3 0.1-32.6 0.1 77.8 0.1-19.7 0.1-60.4 0.1 8.5 0.1 10.3 0.1-15.6 0.1 17.7 0.1 23.6 0.1 0.1 0.1-16.7 0.1 0.1 0.1 34.4 0.1-34.3 0.2-1.2 0.1 22.7 0.1-19.1 0.1 14 0.1-50.6 0.1 23.6 0.1 12.2 0.1 46.5 0.1 25.1 0.1-76.1 0.1 29.4 0.1-20.4 0.1-8.9 0.1 15.7 0.1-17.2 0.1 17.7 0.1 6.2 0.1-52.7 0.1 65.5 0.1-33.2 0.1 4 0.2 31.3 0.1 9.4 0.1-31.4 0.1-6 0.1 36.6 0.1-54.8 0.1 11.3 0.1-8.3 0.1 7 0.1-41.5 0.1 7.2 0.1 27.9 0.1 42.6 0.1-59.9 0.1 24.3 0.1-13.9 0.1-2.4 0.1 11.7 0.1-9.2 0.1 13.7 0.1-32.6 0.2 47.3 0.1 56.1 0.1-53.4 0.1-15.2 0.1-37 0.1 30.2 0.1-10 0.1 51.6 0.1-35.1 0.1-22.8 0.1-14.5 0.1 7.5 0.1 13.4 0.1 37.8 0.1-6.4 0.1-12.5 0.1-34 0.1 61.5 0.1-75.3 0.1 20.4 0.1 36.4 0.1-30.7 0.2 21.1 0.1-16.8 0.1 25.8 0.1 26.5 0.1-58.5 0.1 1.6 0.1-40.9 0.1 20.1 0.1 62.3 0.1-4.5 0.1-55 0.1 25.5 0.1 9.7 0.1-37 0.1 23.2 0.1 0.3 0.1-25.6 0.1 63 0.1-48.2 0.1 64.2 0.1-65 0.2 50.2 0.1 15.1 0.1 20.4 0.1-28.2 0.1-22.9 0.1 38.9 0.1-33.4 0.1 2.5 0.1-20.7 0.1 85.2 0.1 7.3 0.1-74.3 0.1 19.4 0.1 42.6 0.1-40.6 0.1-47.5 0.1 1.8 0.1 38.1 0.1-18.2 0.1-4.3 0.1 20.4 0.2-49.6 0.1-7.9 0.1 67.1 0.1-12.2 0.1-6.8 0.1-8.2 0.1 31.6 0.1-23.7 0.1-76.8 0.1 44.8 0.1-71.5 0.1 25.8 0.1 115.3 0.1 11.4 0.1-61.6 0.1 33 0.1-40.2 0.1 31.5 0.1-3.8 0.1-35.9 0.1-12.9 0.2 39.8 0.1-17.4 0.1 10.4 0.1 10.3 0.1-39.9 0.1 5.1 0.1 13 0.1 0.4 0.1 49.4 0.1-53.1 0.1-15.1 0.1 11.7 0.1 9.1 0.1 48.1 0.1-4.3 0.1 11.6 0.1-75.8 0.1 21.5 0.1 46 0.1-12 0.1-18.7 0.2 45.6 0.1-67.2 0.1 52.6 0.1 2.8 0.1-30.5 0.1 36 0.1 0.2 0.1-39.4 0.1-15.1 0.1 35.7 0.1-30.2 0.1-32.9 0.1 43.6 0.1 10.4 0.1-15.8 0.1-14.8 0.1 24.7 0.1-20 0.1 12.2 0.1-9.7 0.1-38.2 0.1 46.1 0.2-18.4 0.1-25.1 0.1 106.5 0.1-45.8 0.1 55 0.1-82.8 0.1 7.5 0.1-2.7 0.1 4.5 0.1-0.5 0.1-36.2 0.1-6.8 0.1-12.1 0.1 74.9 0.1-44.8 0.1 49 0.1 2.4 0.1-47.2 0.1 26.3 0.1-25.6 0.1-3 0.2 70 0.1-75.9 0.1 29.4 0.1-46.9 0.1 8.5 0.1 35.9 0.1 0 0.1-34.8 0.1 61.7 0.1-22.2 0.1 39.3 0.1-82.3 0.1 41.9 0.1-10.8 0.1 7.9 0.1 4.2 0.1 0.5 0.1-27.5 0.1 25.1 0.1-1.6 0.1 31.3 0.2-7.4 0.1-9.4 0.1-30.1 0.1 69.1 0.1 2.8 0.1 0.2 0.1-36.6 0.1-55.6 0.1-1.7 0.1-30.2 0.1 55.2 0.1-22.8 0.1 9.8 0.1 39.6 0.1-24.5 0.1 8.9 0.1 20.2 0.1-25.8 0.1-29.1 0.1 60.2 0.1-22.9 0.2 28.5 0.1-29 0.1 56.3 0.1-40.4 0.1 15 0.1-20.8 0.1-17.9 0.1 0.3 0.1 13.9 0.1 4.8 0.1 21.9 0.1-50.7 0.1 25.9 0.1-17.3 0.1 47.8 0.1 7 0.1-36.7 0.1 1.3 0.1 55.1 0.1-28.3 0.1-28.6 0.1-14 0.2-7.7 0.1-4.1 0.1 25.5 0.1-14.3 0.1 67.2 0.1-26.7 0.1-34.9 0.1-19.5 0.1 43.2 0.1-71.2 0.1 69.4 0.1-25.5 0.1 3.6 0.1 78.4 0.1-4.5 0.1-39.3 0.1-35.5 0.1-35.8 0.1 53.6 0.1-12.1 0.1 0.8 0.2-26.9 0.1 8 0.1 77.6 0.1-68.8 0.1 29.4 0.1 4.6 0.1-13.3 0.1-51.1 0.1 5.4 0.1 11 0.1 9.1 0.1 8 0.1-32.7 0.1 17.3 0.1 27.7 0.1-25.1 0.1-44.2 0.1 47.3 0.1 4.3 0.1-13 0.1-13.5 0.2 20 0.1 3.2 0.1 29.8 0.1-20.6 0.1 5.7 0.1-20.8 0.1 2.1 0.1 9.6 0.1 17.2 0.1-14.1 0.1-16.2 0.1 30.3 0.1 12.1 0.1-59.8 0.1-3.2 0.1 53.1 0.1 44.4 0.1-60.9 0.1 18.7 0.1-3.5 0.1-4.5 0.2-40.1 0.1-0.2 0.1 49.1 0.1 0.2 0.1 13.1 0.1-64.2 0.1 5.8 0.1 37.4 0.1 5 0.1 38.4 0.1-6.9 0.1 1.4 0.1-64.2 0.1 35.9 0.1-16.8 0.1 10.2 0.1-29.6 0.1 17.8 0.1 5.9 0.1-21 0.1-3.3 0.2 34.8 0.1-11.7 0.1 16.3 0.1-2.9 0.1-36.7 0.1-3.1 0.1 37.5 0.1 36.3 0.1-44.5 0.1-30.1 0.1 36.4 0.1-2.3 0.1 12 0.1 14.3 0.1-3.7 0.1-44.2 0.1 18 0.1-12.4 0.1-4.2 0.1 1.6 0.1 43.5 0.1-47.3 0.2 54.4 0.1-37.9 0.1 7.1 0.1-5.8 0.1-24.2 0.1 6.7 0.1 23.1 0.1-28.9 0.1 8.3 0.1-0.6 0.1-35.4 0.1 24.4 0.1 65 0.1-37.4 0.1 29.6 0.1-27 0.1 4.1 0.1 29.9 0.1-1.4 0.1-4.2 0.1-7.7 0.2-3 0.1 15.2 0.1-81.4 0.1 24.1 0.1 47.1 0.1-16.3 0.1 9.2 0.1-19.4 0.1 17 0.1 21.2 0.1-1.9 0.1-15.1 0.1-25.9 0.1 10 0.1 0.2 0.1 1.6 0.1-31.5 0.1 35.2 0.1-23.7 0.1-14.3 0.1 41.7 0.2-2.4 0.1-9.5 0.1-22.5 0.1 25.9 0.1-4.8 0.1-15.2 0.1 31.8 0.1 8.8 0.1-44.2 0.1-8.3 0.1-10 0.1-12.1 0.1 86.5 0.1-54.8 0.1-4.1 0.1 34.6 0.1-8.6 0.1-73.3 0.1 62.6 0.1 1.9 0.1-38.8 0.2 16.4 0.1-25.7 0.1 7.6 0.1 32.3 0.1 8.4 0.1-2.6 0.1-28 0.1 5.8 0.1 12.9 0.1-3.2 0.1-4.1 0.1 2 0.1 0.3 0.1 6.2 0.1 13.8 0.1 8.4 0.1-27 0.1 23.1 0.1-24.1 0.1 31.7 0.1-17.4 0.2-42.5 0.1 23.6 0.1-7 0.1-54.3 0.1 57 0.1-6.2 0.1 81.6 0.1-52.2 0.1 2.6 0.1-21.8 0.1 54.5 0.1-16.6 0.1 17.8 0.1-45.4 0.1 1.4 0.1 8.1 0.1-28.5 0.1-30.5 0.1 69.4 0.1-1.2 0.1-13.8 0.1-5 0.2 18.1 0.1-15.1 0.1 64.1 0.1-27.9 0.1-39.4 0.1-26.9 0.1 76.3 0.1-3.5 0.1-46.6 0.1 51.8 0.1-51.6 0.1 8.8 0.1 15.1 0.1-47.4 0.1 20 0.1 57.4 0.1-15.6 0.1-31.3 0.1 16.7 0.1-41.5 0.1-1.4 0.2 42 0.1 23.6 0.1-25.6 0.1 4.8 0.1-43.9 0.1 36.6 0.1-46.9 0.1 49.9 0.1-3.2 0.1-52.2 0.1-26.6 0.1 48.6 0.1 20.9 0.1 29.5 0.1-53.2 0.1 19.3 0.1-7.3 0.1 17.7 0.1-18.8 0.1 1.1 0.1-0.9 0.2 29.5 0.1 17.5 0.1 30.5 0.1-30.9 0.1 15.7 0.1-62.9 0.1 15.9 0.1-40.8 0.1 67.7 0.1-8.5 0.1 42 0.1-78.1 0.1 15.5 0.1-0.6 0.1-19.5 0.1-8.7 0.1-6.6 0.1 53.1 0.1 17 0.1-44.7 0.1 4.6 0.2-32 0.1 8.6 0.1-4.6 0.1 35.6 0.1 7.7 0.1-16.8 0.1 4.9 0.1 37.8 0.1-35.9 0.1-21.5 0.1 6.2 0.1 16 0.1-6.4 0.1-63.4 0.1 118.8 0.1-20.3 0.1-48.8 0.1 55.2 0.1 26 0.1-59.4 0.1-14.1 0.2 10.6 0.1 57.6 0.1-52.9 0.1-5.2 0.1 18.4 0.1-76.8 0.1 33.2 0.1 18.8 0.1 15.7 0.1-20.2 0.1 40.1 0.1-17.2 0.1-23.7 0.1 25.1 0.1-5.4 0.1-2.6 0.1 34.9 0.1-88.8 0.1 46 0.1 12.9 0.1-43 0.1 7.6 0.2 44.1 0.1-27.1 0.1-25.6 0.1-38.8 0.1 54.9 0.1 31.7 0.1 12.5 0.1 19.9 0.1-18.3 0.1-27.1 0.1-8 0.1 0.6 0.1-11.1 0.1 31.5 0.1 28.5 0.1-34.9 0.1-30.1 0.1 76.7 0.1-47.6 0.1 38.4 0.1-16 0.2 8.2 0.1-6.5 0.1-16.5 0.1 6.5 0.1 8.8 0.1-4.8 0.1-15.4 0.1 9.2 0.1 11.6 0.1-11.8 0.1-33 0.1 30.8 0.1 2.7 0.1-40.7 0.1 60.5 0.1-38.3 0.1 9.3 0.1-82.2 0.1 24.2 0.1 44.5 0.1 5.3 0.2-1.9 0.1 27.5 0.1-0.1 0.1-37.2 0.1-18.5 0.1-33.8 0.1 62.2 0.1 11.3 0.1 4.9 0.1-25.1 0.1 6.2 0.1 11.1 0.1-18 0.1-7 0.1 38.4 0.1-1.2 0.1-49.1 0.1 8.6 0.1 0 0.1 37.7 0.1-11.9 0.2 37.8 0.1-47.8 0.1 26.3 0.1 3.1 0.1-2.5 0.1-49.4 0.1 17.4 0.1-27.4 0.1 41.9 0.1 25.9 0.1 17 0.1-35.1 0.1 13 0.1-6.7 0.1-22.7 0.1 26.9 0.1-10.8 0.1 26.2 0.1-14.3 0.1-8.7 0.1 46.3 0.2-75.7 0.1 23.5 0.1 50.8 0.1-67.1 0.1 48.3 0.1-1.5 0.1-29.7 0.1-30.4 0.1 22.6 0.1 10.2 0.1-26.7 0.1 48.1 0.1-105.4 0.1 6 0.1 26.7 0.1 39.6 0.1 35.8 0.1-19.4 0.1-43.3 0.1 62.4 0.1-40.1 0.1 32.8 0.2-38.1 0.1 30.6 0.1 16.2 0.1-90.5 0.1 23.4 0.1 13.5 0.1 41.2 0.1 5.8 0.1-50.1 0.1 18.9 0.1 67.9 0.1-31.8 0.1-28.6 0.1-9.1 0.1-18.4 0.1 55.1 0.1-27 0.1-0.9 0.1 10.1 0.1-22.4 0.1 6.1 0.2-18.5 0.1 28.6 0.1-10 0.1 20.3 0.1 7.2 0.1-43.6 0.1 26.1 0.1-45.9 0.1 8.5 0.1 31.2 0.1 9.6 0.1 4.9 0.1 12.2 0.1-3 0.1 11.9 0.1 23.7 0.1-4.6 0.1-5.2 0.1-48.8 0.1 28.1 0.1-16.6 0.2-31.8 0.1 43.4 0.1-61.9 0.1-18 0.1 95.1 0.1-1.3 0.1-11.7 0.1-8.7 0.1-77.1 0.1 45.6 0.1 15.5 0.1 8.3 0.1-34.2 0.1-6 0.1-5.9 0.1 78.4 0.1-41.3 0.1-6.3 0.1-18.7 0.1 38.2 0.1-16.3 0.2 1.1 0.1 1.4 0.1-1.1 0.1-13.3 0.1-35 0.1 49.8 0.1-24.2 0.1 13.7 0.1 11.2 0.1 1.3 0.1 34.4 0.1-31.6 0.1 40.5 0.1-77.1 0.1 17.8 0.1 0.3 0.1 56.8 0.1-46.8 0.1 1.6 0.1 6.8 0.1 13.5 0.2 5.5 0.1 4.7 0.1 13.7 0.1-22.9 0.1 18 0.1-54.9 0.1 25.3 0.1-50.5 0.1 68.1 0.1 9 0.1-20.4 0.1 24 0.1 1.5 0.1-27.8 0.1 13.8 0.1-29.4 0.1 0.2 0.1-26.3 0.1 23.7 0.1-20.2 0.1 52.1 0.1-10.9 0.2-17.3 0.1-16.3 0.1 60.7 0.1-38.7 0.1 17.4 0.1 18.3 0.1-65 0.1-5.8 0.1 61.3 0.1 10.2 0.1-42.2 0.1 27 0.1-17.9 0.1-1 0.1-27.1 0.1 17.9 0.1-16.5 0.1 11.8 0.1 45 0.1-40.7 0.1-0.1 0.2-2.4 0.1 12.9 0.1-22.7 0.1 9.3 0.1-0.7 0.1 19.3 0.1-4.8 0.1-19.4 0.1 1.3 0.1-32.5 0.1 15.7 0.1 1.8 0.1 11.8 0.1 2.5 0.1 10.3 0.1-25.1 0.1 29.3 0.1-46.5 0.1-5.9 0.1 13.6 0.1 44.5 0.2-7.1 0.1 52.6 0.1-35.6 0.1 3.6 0.1-18.5 0.1 14.5 0.1 15.1 0.1-44.1 0.1 16.4 0.1-10.9 0.1-39.5 0.1 1.1 0.1 41 0.1-30.6 0.1 7.9 0.1 20.1 0.1 24.1 0.1-19.6 0.1 5 0.1-1.6 0.1 1 0.2 37.3 0.1 29.8 0.1-58.6 0.1-6.3 0.1 4.4 0.1-22 0.1 12 0.1 4.6 0.1 5.5 0.1 8.5 0.1 40.7 0.1-31.7 0.1-4 0.1-39.8 0.1 58.5 0.1-16.6 0.1-28.2 0.1 21.9 0.1 5.8 0.1 34.9 0.1-67.4 0.2-15.2 0.1 8.4 0.1 15.2 0.1-26.7 0.1 26.9 0.1 10 0.1 36.2 0.1-2.6 0.1-33 0.1 0.5 0.1-0.1 0.1 17.5 0.1-6.9 0.1 9.7 0.1-23.9 0.1 4.7 0.1 15.1 0.1-86.2 0.1 34.6 0.1 23.4 0.1-14.2 0.1 0.9 0.2 20.2 0.1-26.8 0.1-8.1 0.1 48.4 0.1-40.8 0.1 3.1 0.1 41 0.1 7.5 0.1-69 0.1 40.7 0.1-27.9 0.1 44.8 0.1-46.5 0.1-34.9 0.1 91.1 0.1-31.9 0.1 47.4 0.1 18.9 0.1-17.5 0.1-21.4 0.1-13.5 0.2-20.1 0.1-31.7 0.1 39.1 0.1 26.7 0.1-20.3 0.1 37.3 0.1 11.3 0.1-32.3 0.1 20.7 0.1 12 0.1-55.9 0.1-40.3 0.1 33 0.1 18.3 0.1 25.2 0.1-30.7 0.1 20.5 0.1-29.2 0.1 38.2 0.1 4.8 0.1-43.9 0.2 9.4 0.1-2.1 0.1-3.2 0.1 6.7 0.1-11.3 0.1 67.8 0.1-66.5 0.1-2.4 0.1 35.7 0.1-35.4 0.1 62.9 0.1-68.2 0.1 68.2 0.1-33.7 0.1-56.2 0.1 62.2 0.1-70 0.1-3.8 0.1 29.5 0.1 31.1 0.1-16.3 0.2-56.5 0.1 46.9 0.1 8.5 0.1-0.8 0.1-12.3 0.1 42.9 0.1-13.3 0.1 35 0.1-30.8 0.1 27.9 0.1-57.2 0.1 36 0.1-6.4 0.1-20.7 0.1-15.5 0.1 12.4 0.1 37.2 0.1-47.8 0.1 8.8 0.1 32.4 0.1 12 0.2-67.3 0.1 13.7 0.1 11.9 0.1 16.2 0.1 16.8 0.1-11 0.1 22.6 0.1-64 0.1 56.8 0.1-20.6 0.1 19.5 0.1 12.2 0.1-73.3 0.1 45.6 0.1-21.4 0.1 15.2 0.1 24.9 0.1-42.8 0.1-6.4 0.1 51.9 0.1-6.2 0.1-12.3 0.2-22.1 0.1 6.5 0.1 31.5 0.1-12.1 0.1-10.9 0.1 29.4 0.1-15.4 0.1-2.2 0.1-20.7 0.1 15.2 0.1 10 0.1-17 0.1 0.7 0.1-13.5 0.1 11.9 0.1 3 0.1 22.4 0.1-60.4 0.1-25 0.1 54.5 0.1 25.4 0.2-50.3 0.1 20.8 0.1 28 0.1-56.6 0.1 24.4 0.1 18.8 0.1 22.1 0.1-1.7 0.1-29.1 0.1 20 0.1-36.1 0.1 15.1 0.1-20.7 0.1-51.5 0.1 6 0.1 71.1 0.1 36.3 0.1-2.1 0.1-69.1 0.1 48.7 0.1-21.6 0.2 30.9 0.1-5.4 0.1-15.8 0.1-17.2 0.1 47.8 0.1-4.8 0.1-15.6 0.1-39.8 0.1 45.8 0.1 10.1 0.1-6.9 0.1 36 0.1-70.6 0.1 31.3 0.1-31.5 0.1 3.7 0.1 67.7 0.1-23 0.1-61.9 0.1 12 0.1 11.1 0.2-68.2 0.1 60.8 0.1-11.5 0.1 36.9 0.1-21.1 0.1-21.3 0.1 9.2 0.1 9 0.1 17.3 0.1-8 0.1-30.2 0.1 20.5 0.1 18.8 0.1-17.8 0.1-3.5 0.1 29.6 0.1-16.3 0.1 27.4 0.1-42.6 0.1 14.2 0.1-62.5 0.2 28.2 0.1 18.6 0.1 15.9 0.1-11.8 0.1-17.1 0.1 21.6 0.1-32.2 0.1 62.4 0.1-73.6 0.1 27.5 0.1-9.1 0.1 69.7 0.1-21.7 0.1 0.1 0.1 24.1 0.1-61.7 0.1 33.8 0.1-54.7 0.1 78.9 0.1-31 0.1-10.3 0.1 32.1 0.2-25.5 0.1 10.3 0.1 17.6 0.1-7.1 0.1-6.1 0.1-33.7 0.1 17.4 0.1-5.1 0.1 35.9 0.1-12.2 0.1-27.2 0.1 23.5 0.1-74.6 0.1 48.8 0.1-28.8 0.1-7.7 0.1 47.9 0.1 7.1 0.1 43.4 0.1-69.4 0.1 43.3 0.2-30.1 0.1-41.4 0.1 10.6 0.1 13.8 0.1 15.6 0.1-38.7 0.1 3.7 0.1 70.1 0.1-21.8 0.1-51.5 0.1 49.1 0.1-5.5 0.1 23 0.1-7.4 0.1-10.6 0.1-2.8 0.1 31.2 0.1-49.5 0.1 49.4 0.1-57.7 0.1 48.5 0.2-26.2 0.1-11.5 0.1 4.4 0.1 23.7 0.1 46.3 0.1-54.5 0.1 13.8 0.1-41.2 0.1 39.4 0.1 0.3 0.1 0.6 0.1-29 0.1-14.9 0.1 41.1 0.1 10.4 0.1-16.4 0.1 4.9 0.1 3.3 0.1 25.5 0.1 19.5 0.1-61.4 0.2 39.8 0.1-28.6 0.1 26.1 0.1-6.9 0.1-30.4 0.1-24.6 0.1 54.6 0.1-11.7 0.1-35.6 0.1 19.2 0.1-24.6 0.1-30.3 0.1 9.4 0.1 23.1 0.1 24.2 0.1 32.4 0.1-4.5 0.1-10.8 0.1 1.9 0.1-20 0.1-22.3 0.2 6 0.1 5.7 0.1 45.4 0.1-3.3 0.1-13.2 0.1-4.7 0.1-39.6 0.1 77.8 0.1-86.6 0.1-2.1 0.1-7.2 0.1 59 0.1-22.8 0.1-41 0.1-11.2 0.1 64.8 0.1 38.4 0.1 16.1 0.1-63.6 0.1 10.1 0.1-42.1 0.1-9.7 0.2 81.8 0.1 1.2 0.1-22.6 0.1-3.7 0.1 5.5 0.1-14.8 0.1-30.4 0.1 46.9 0.1-7.3 0.1-2.5 0.1-18.9 0.1 48 0.1-21.7 0.1-56.7 0.1 94.1 0.1-9 0.1-22.9 0.1 4.4 0.1-4.2 0.1-42.3 0.1 16.9 0.2 15 0.1-9.1 0.1-17.5 0.1 0.2 0.1 30.5 0.1-73.5 0.1 31.8 0.1 29.8 0.1-49.6 0.1 5 0.1 28.6 0.1-22 0.1 26.9 0.1 21.6 0.1 9.2 0.1 14.8 0.1-66.7 0.1 64.7 0.1-78.9 0.1 23.2 0.1-1.5 0.2 24.4 0.1-13.5 0.1-33 0.1 27.7 0.1-5 0.1 5.1 0.1 1.9 0.1-1.3 0.1 13.3 0.1-13.3 0.1-18.4 0.1 55.5 0.1-16.5 0.1 14.5 0.1-17.3 0.1-4.1 0.1 33.8 0.1-67.9 0.1 34.3 0.1-9.6 0.1-17.5 0.2 35.6 0.1-10.6 0.1-6.9 0.1 43.9 0.1-33.9 0.1 20.5 0.1-38.2 0.1 33.3 0.1-56.8 0.1 33.9 0.1-6.4 0.1 3.4 0.1-2.9 0.1 7.6 0.1 15.5 0.1-11.3 0.1 4.4 0.1 6 0.1-8.4 0.1 9.6 0.1-31.8 0.2 37.1 0.1-63.5 0.1 85.5 0.1 8.5 0.1-38.5 0.1 14.3 0.1-2.7 0.1-14.1 0.1-50.4 0.1 37.8 0.1-3.2 0.1 19.2 0.1-14 0.1 12.8 0.1-60.1 0.1 38.9 0.1-8.2 0.1 29.8 0.1-35.2 0.1 44.9 0.1-28.4 0.1 45.7 0.2-34.8 0.1 20.7 0.1 9.2 0.1-70.9 0.1-2.9 0.1 57.6 0.1-45.1 0.1 44 0.1 25 0.1-56.6 0.1-8.3 0.1 22.9 0.1-3.7 0.1 21.7 0.1-11.3 0.1 2.5 0.1 15.9 0.1-51.9 0.1 69.7 0.1-45.9 0.1 4.6 0.2-23.6 0.1 34.7 0.1-62 0.1 63.4 0.1 4.6 0.1-11.7 0.1 12.2 0.1 2 0.1 7.1 0.1-63.3 0.1 6.7 0.1-27.4 0.1 48.9 0.1 48.4 0.1-48.1 0.1 4.6 0.1 19.5 0.1-52.3 0.1 17.6 0.1-9.3 0.1 64 0.2-39 0.1 9.6 0.1 44 0.1-17.3 0.1-62.8 0.1 68.5 0.1 9 0.1-66.2 0.1 39.8 0.1-32.3 0.1 24.6 0.1-27.2 0.1-1.7 0.1 42.4 0.1-35.5 0.1 25.9 0.1-17.6 0.1 9.3 0.1-16.3 0.1 11.9 0.1 19.4 0.2-9.4 0.1-29.8 0.1-15.7 0.1 3.6 0.1-0.2 0.1 7.4 0.1 23.7 0.1 13.2 0.1-44.3 0.1 41.5 0.1-14.4 0.1 34 0.1-30.5 0.1 6.6 0.1 52.4 0.1-20.1 0.1-53.2 0.1 76.4 0.1-47.6 0.1-7.1 0.1-0.1 0.2-44.9 0.1-0.6 0.1 38.6 0.1-16.4 0.1-12.1 0.1 61.2 0.1-50.8 0.1 18.2 0.1 10 0.1-12.5 0.1 5.6 0.1-41.6 0.1 36.1 0.1-9.6 0.1 69.6 0.1-59.9 0.1 1.3 0.1 67.5 0.1-62.5 0.1-29.6 0.1 13.5 0.1-19.3 0.2 42.8 0.1 7.9 0.1-6.4 0.1-0.3 0.1-19.1 0.1 33.5 0.1-12.2 0.1-34.7 0.1 26.1 0.1 3.3 0.1-10.6 0.1-10.5 0.1 42.9 0.1-21.4 0.1-15.8 0.1-1.2 0.1-11.5 0.1 38.4 0.1-20.5 0.1 9 0.1 45.9 0.2-47.7 0.1-6.4 0.1 65.5 0.1-43.4 0.1-24.4 0.1-11.6 0.1 14.6 0.1-6.7 0.1 29 0.1-18.9 0.1 28.9 0.1-60.3 0.1 34.2 0.1 8.9 0.1-14.5 0.1-44.7 0.1 19.8 0.1-17.5 0.1 19 0.1 55.2 0.1-11.2 0.2 26 0.1-41.6 0.1-17.7 0.1-9.3 0.1 25.1 0.1-2 0.1-25.8 0.1-26.4 0.1 60.6 0.1 2.2 0.1-16.3 0.1-33.9 0.1 21 0.1 10.6 0.1-2.9 0.1 8 0.1 6.4 0.1-3.6 0.1 14.1 0.1-9.9 0.1-51.8 0.2-31.9 0.1 46 0.1 24.8 0.1 4.4 0.1 38.1 0.1-53.3 0.1 62 0.1-13.4 0.1-60.2 0.1 17.2 0.1 34.5 0.1-27.7 0.1-4.1 0.1-2.9 0.1 32.4 0.1-14.8 0.1 1.2 0.1 6.7 0.1 37 0.1-21.9 0.1-33.8 0.2 46.7 0.1-54.3 0.1 31.8 0.1-15.2 0.1-19.5 0.1-52 0.1 61.9 0.1-24.3 0.1-6.1 0.1 54.5 0.1-56.2 0.1-9.7 0.1 25 0.1 36.5 0.1-36.6 0.1 19 0.1-34.8 0.1 39.2 0.1-38.1 0.1 20.3 0.1 6.5 0.1-18.4 0.2 52.1 0.1 4.4 0.1-36.3 0.1 28.8 0.1-1.2 0.1 0.8 0.1 13.2 0.1-40.1 0.1-23.9 0.1 38.2 0.1-4.2 0.1 17.9 0.1 22.7 0.1-41.9 0.1-5.2 0.1-25.2 0.1 19.8 0.1-35.5 0.1 39.1 0.1 22.3 0.1-12.6 0.2 10.2 0.1-27.3 0.1 69.4 0.1-39.7 0.1 11.4 0.1-19.8 0.1-21.2 0.1 25.6 0.1-17.3 0.1-39.6 0.1 61.2 0.1-59.4 0.1 27.9 0.1 32.1 0.1-40.3 0.1 59.4 0.1-41.1 0.1 32.5 0.1-31 0.1-51.8 0.1-6.7 0.2 27.1 0.1-9.4 0.1-7.4 0.1 57.1 0.1-34.4 0.1 39.9 0.1 2.3 0.1-48.8 0.1 10.1 0.1 37 0.1 1.4 0.1-17.3 0.1 8.4 0.1-40.5 0.1 41.7 0.1-56.3 0.1 33.6 0.1 24.4 0.1-43.8 0.1 66.6 0.1-43.6 0.2-71 0.1 52.2 0.1 45.4 0.1-16.8 0.1-29.6 0.1-19.3 0.1 47.2 0.1-9.3 0.1-10.5 0.1-5.4 0.1 18.2 0.1-63.3 0.1 33.9 0.1 59.5 0.1-28.7 0.1-2.3 0.1 3.1 0.1 33.3 0.1 4.3 0.1 17.3 0.1-30.8 0.2 0.5 0.1 7.3 0.1-49.5 0.1 75.5 0.1-46.5 0.1-18.2 0.1 41.9 0.1-14 0.1 2.5 0.1 2.6 0.1-9.1 0.1-24.8 0.1-32.5 0.1 24.2 0.1-20.7 0.1 13.4 0.1 40.6 0.1 3.2 0.1 55.4 0.1-93.6 0.1-6.4 0.1-11.5 0.2 33.1 0.1 11.5 0.1-8.8 0.1 10.2 0.1-17.5 0.1 7.9 0.1-6.1 0.1-15.8 0.1-27.4 0.1 63.5 0.1 26 0.1-17.5 0.1-53.4 0.1 30.2 0.1 11.5 0.1 29.2 0.1-64.1 0.1 3.5 0.1 39.3 0.1-15.5 0.1-11.7 0.2 13.2 0.1 10.7 0.1 21.9 0.1-21.5 0.1 8.8 0.1-44.9 0.1 63.1 0.1-1.8 0.1-12.5 0.1 21.6 0.1-39 0.1 28.4 0.1-18.9 0.1-35.8 0.1 19.8 0.1-5.5 0.1-10.3 0.1 30.2 0.1-36.8 0.1 16.3 0.1-31.9 0.2-37.9 0.1 70.7 0.1-4.4 0.1 12.5 0.1-32.1 0.1 33.3 0.1-35.3 0.1 27.5 0.1-27.2 0.1 26.6 0.1 43.4 0.1 9.9 0.1-68.7 0.1 23.9 0.1-20.6 0.1 3.2 0.1 16.3 0.1 56.9 0.1-51.9 0.1 19 0.1 35.5 0.2-91.9 0.1 57.4 0.1 43.6 0.1-24.5 0.1-12.3 0.1 2.6 0.1 19.2 0.1-40.9 0.1-48.2 0.1 21.7 0.1 36.9 0.1-18.4 0.1-56 0.1 45.4 0.1-41.8 0.1 48.5 0.1-29.6 0.1 4.7 0.1 3.8 0.1-32.3 0.1 43.6 0.2-16.3 0.1 66.5 0.1-56.5 0.1-4.4 0.1 43 0.1-25.9 0.1 18.9 0.1-25.9 0.1 14.5 0.1 53.7 0.1-59.1 0.1 56.5 0.1-66.4 0.1 1.3 0.1-26.6 0.1-11.2 0.1 26 0.1-28.7 0.1 53 0.1-2.5 0.1 12.3 0.1-23.8 0.2-21.4 0.1-19.9 0.1 15 0.1 65.4 0.1 7.3 0.1-72.4 0.1 67.5 0.1 3.5 0.1-48.9 0.1-8.9 0.1-20.9 0.1-8.3 0.1 89.7 0.1 49.1 0.1-77.1 0.1-46.6 0.1 38.3 0.1 9.9 0.1-15.4 0.1 39.4 0.1-31.6 0.2-16.5 0.1 9.5 0.1-12.4 0.1 27.9 0.1-2.3 0.1 1.3 0.1-14.3 0.1-44.2 0.1 52.8 0.1-38.4 0.1 14.9 0.1-43.7 0.1 53.7 0.1-10.9 0.1-7.9 0.1 75.9 0.1-37.6 0.1 8.6 0.1-86.3 0.1 43 0.1 37.5 0.2-2.1 0.1 12.1 0.1-27.8 0.1-19.8 0.1 46.5 0.1-22.5 0.1-4.8 0.1 45.5 0.1-29.5 0.1 43.8 0.1-30.3 0.1-27.7 0.1 15.1 0.1 5.6 0.1-1.9 0.1 9.6 0.1-24.3 0.1-32.7 0.1 26 0.1-20.9 0.1-0.6 0.2-1.4 0.1 37.5 0.1-0.5 0.1 18.2 0.1-81 0.1 9 0.1 38.5 0.1 26.7 0.1-7.1 0.1-15.1 0.1 11 0.1-17.1 0.1 33.5 0.1-55.1 0.1 0.5 0.1 83.2 0.1-43.6 0.1 23.8 0.1-44 0.1-30.5 0.1 16.6 0.2-5.2 0.1 64.3 0.1-19.2 0.1-6.1 0.1-10.1 0.1 26.2 0.1-42.9 0.1 24.6 0.1 20.1 0.1-4.3 0.1-7.1 0.1-54.1 0.1 24.2 0.1 54 0.1-53.3 0.1 16.2 0.1 11 0.1-49.2 0.1 33.3 0.1 10.4 0.1 24.4 0.1 16.4 0.2-85.3 0.1 7.7 0.1 17.7 0.1 3.2 0.1 41.8 0.1 10.7 0.1-38 0.1 55.1 0.1-29.1 0.1-48.4 0.1 10 0.1 0.4 0.1 18.8 0.1 28.9 0.1-29.2 0.1 21.3 0.1-36.6 0.1-23.7 0.1 2.4 0.1 39.7 0.1-38.8 0.2 43.6 0.1-45.6 0.1 19.6 0.1 17 0.1-24.3 0.1 38.6 0.1-30.5 0.1-46.3 0.1 72.7 0.1-20.8 0.1-45.8 0.1-6.7 0.1 74.7 0.1-13.6 0.1-21 0.1-5.6 0.1 8.7 0.1-22.3 0.1-22.7 0.1 25.1 0.1 53 0.2-24.3 0.1-4.9 0.1-10.7 0.1-12.7 0.1 34.2 0.1-59.7 0.1-25.8 0.1 90 0.1-0.4 0.1-8.4 0.1 0.2 0.1-16.4 0.1-3.4 0.1-8.9 0.1 56.4 0.1-7.7 0.1-37.1 0.1-1.2 0.1-15.8 0.1-2 0.1 19.2 0.2 25.8 0.1 2 0.1-1.3 0.1 28.8 0.1-36.1 0.1-17.7 0.1-19 0.1 2.3 0.1 60.4 0.1-14.2 0.1-10.8 0.1-17 0.1 7.8 0.1 12.3 0.1-35.3 0.1 23 0.1 24.4 0.1-36.2 0.1-6 0.1 4.2 0.1 5.3 0.2 16.2 0.1 8.7 0.1-28.7 0.1 14.4 0.1-55.4 0.1 74.1 0.1-26.9 0.1-44.2 0.1-20.7 0.1-6.6 0.1 61.2 0.1 28.6 0.1 9 0.1 4.4 0.1-5.7 0.1-54 0.1-1.1 0.1 43.2 0.1 36.8 0.1 2.4 0.1-31.4 0.1-17.9 0.2-29 0.1 55.1 0.1 2.9 0.1-32.3 0.1 10.7 0.1-13.3 0.1-22.7 0.1 50.7 0.1-4.2 0.1-17.9 0.1 14.9 0.1-22.1 0.1-30.7 0.1 21.3 0.1 16.1 0.1-20.4 0.1 12.3 0.1 51.2 0.1-33.4 0.1-18.1 0.1-78.9 0.2 100.1 0.1 38.7 0.1-23.3 0.1-24.8 0.1 14.1 0.1-18.8 0.1 32.3 0.1-13.4 0.1 5.1 0.1 24.2 0.1-17.7 0.1 28.2 0.1-98.1 0.1 83.7 0.1-13.2 0.1 6.8 0.1 5.2 0.1-57.1 0.1 34.7 0.1-16.6 0.1 11.7 0.2-23 0.1 29.3 0.1 6.7 0.1 1.1 0.1-25.2 0.1-20.6 0.1-60.6 0.1 92.5 0.1 12.2 0.1-74.5 0.1 42.9 0.1 3.5 0.1-16.3 0.1 84.9 0.1-65.7 0.1 13.2 0.1 34.6 0.1-57.7 0.1-29.9 0.1 27.1 0.1 46 0.2-23.3 0.1-22.5 0.1-31.1 0.1 72.4 0.1-66 0.1 5 0.1 0.4 0.1 50 0.1-34.2 0.1 23.6 0.1 3.2 0.1-32.2 0.1-42.4 0.1 20.1 0.1 20.5 0.1 3.8 0.1 16.7 0.1-3.3 0.1-10.9 0.1-8.7 0.1 13.9 0.2 0.9 0.1 19.6 0.1-56.4 0.1 40.5 0.1 19.8 0.1 9.3 0.1-18.5 0.1-10.9 0.1-3 0.1 72.3 0.1-37.1 0.1-45.2 0.1-10.2 0.1 7.3 0.1 0.1 0.1-5 0.1 7.8 0.1 2.9 0.1-24.4 0.1 21.4 0.1 33.7 0.1-30.6 0.2 59.7 0.1-44.1 0.1 47.8 0.1-40.5 0.1-16.9 0.1 1.6 0.1 27.6 0.1 12.1 0.1-69.5 0.1 74.7 0.1-39.3 0.1 10.5 0.1 23 0.1-30.6 0.1 4.5 0.1-1.5 0.1-4.8 0.1-20.4 0.1 43.9 0.1-30.8 0.1-48.2 0.2 113.6 0.1-80.7 0.1 4.7 0.1 36.5 0.1-17.2 0.1 17.1 0.1-55.5 0.1 7.1 0.1 37.1 0.1-36.4 0.1 82.1 0.1-41.2 0.1-32.3 0.1 3.2 0.1 43.9 0.1-51.2 0.1 57.4 0.1-34.3 0.1 2.3 0.1 24.4 0.1-1.1 0.2 4.8 0.1-1.2 0.1 44.4 0.1-54.3 0.1-40.2 0.1 16 0.1 38.4 0.1-39.3 0.1 35.9 0.1-22.1 0.1-19.6 0.1 34.8 0.1-14.2 0.1 28 0.1-43.2 0.1-20.8 0.1 15.1 0.1 8.6 0.1 3.6 0.1-11.2 0.1-19.4 0.2 30.6 0.1-17.9 0.1 13.4 0.1-16.8 0.1 21.4 0.1-7.6 0.1-10.1 0.1 1.3 0.1 22.8 0.1 53.9 0.1-25.7 0.1-60.6 0.1 5.2 0.1-15.4 0.1 48.1 0.1-25.6 0.1-34.1 0.1 69 0.1-10.9 0.1 10.4 0.1-15.9 0.2-33.7 0.1 1.2 0.1 9.9 0.1-40.3 0.1 56.8 0.1-39.1 0.1 40.7 0.1 26.7 0.1-24.3 0.1 23.4 0.1-1.2 0.1 2.7 0.1-14.4 0.1-1.6 0.1-50.3 0.1-7.6 0.1 21.6 0.1-51 0.1 71.3 0.1 16.1 0.1 15.6 0.1-20 0.2 20.5 0.1-4.5 0.1 34.3 0.1-57.9 0.1 34.6 0.1-11.2 0.1 1.7 0.1-19.8 0.1 25.1 0.1 26.8 0.1-40.5 0.1-18.3 0.1-9.8 0.1-4.9 0.1-0.1 0.1 36.1 0.1 15.2 0.1 5.8 0.1-30.1 0.1-41.4 0.1-5.8 0.2 64.3 0.1-15.3 0.1-0.4 0.1-3.4 0.1 2.3 0.1-97.2 0.1 67.7 0.1 39.3 0.1-10.2 0.1-21.3 0.1 34 0.1-38 0.1 58.8 0.1-11.2 0.1-24.9 0.1-17.7 0.1-38.2 0.1 17.9 0.1-33.8 0.1 63.4 0.1 48 0.2-18.3 0.1-15.7 0.1-9.6 0.1 13.1 0.1-27.6 0.1-9.9 0.1 35.2 0.1 11 0.1-80.5 0.1 50.3 0.1-47.7 0.1 51.3 0.1 3.5 0.1-27.3 0.1 43.8 0.1-32.5 0.1 21.8 0.1-44 0.1 25.8 0.1 28.2 0.1-56.6 0.2 26.8 0.1 40.4 0.1-53.4 0.1 34 0.1-55.7 0.1 14.2 0.1 21.6 0.1-29.8 0.1 16.2 0.1-3.2 0.1-5.2 0.1-24.5 0.1 19.2 0.1 59.7 0.1 33.9 0.1-54.2 0.1 28.9 0.1-28.8 0.1-9.4 0.1 23.8 0.1 47.2 0.2 11.4 0.1-40.2 0.1-26.7 0.1 12 0.1-35 0.1 14.6 0.1 7.5 0.1 20 0.1-47.5 0.1 4.4 0.1-39.1 0.1 96.9 0.1-9.8 0.1 13.6 0.1-40.7 0.1 22.6 0.1-1.6 0.1-22 0.1-6.8 0.1-6.7 0.1 26.2 0.1 8.1 0.2 6 0.1-86.2 0.1 65 0.1-35.4 0.1 0.7 0.1-1.9 0.1 42.8 0.1 28.4 0.1-81.2 0.1-2.8 0.1 52.9 0.1 5 0.1 3 0.1-7.9 0.1 10.7 0.1-31.2 0.1 15.9 0.1-5.5 0.1 10.9 0.1-13.4 0.1-43.6 0.2 12.8 0.1 8.4 0.1-26.6 0.1 74.7 0.1-44.7 0.1 22 0.1 5.5 0.1-1.6 0.1-24.3 0.1 75.6 0.1-34.5 0.1-59.2 0.1 60.6 0.1-58.7 0.1 21.5 0.1-30.8 0.1 58.4 0.1-6.1 0.1-44.4 0.1 11.1 0.1 44.1 0.2-5.4 0.1 12.2 0.1 7.6 0.1 0.7 0.1-33.6 0.1-0.9 0.1-34.4 0.1-2.3 0.1 16.5 0.1 19.8 0.1-64.1 0.1 4.2 0.1 75 0.1-13.6 0.1 17.1 0.1 38.4 0.1-48.6 0.1 39.9 0.1-64.2 0.1 6.5 0.1-20.2 0.2 9.1 0.1 45.8 0.1-3.1 0.1-59.1 0.1 38.9 0.1-21.1 0.1-16.3 0.1 76.6 0.1-54.3 0.1-5.5 0.1 53.3 0.1 0.9 0.1 11.8 0.1-29.7 0.1-57.4 0.1 37.7 0.1-23.7 0.1-13.1 0.1 34.6 0.1 1 0.1 0.1 0.2-7.5 0.1-31.9 0.1 129.7 0.1-103.7 0.1 59.3 0.1-51.1 0.1-6.5 0.1 40.3 0.1-48.6 0.1-21.3 0.1 50.6 0.1-30.5 0.1-10.2 0.1 25.6 0.1 19.1 0.1-29.1 0.1 27 0.1 41.3 0.1-4.5 0.1-38 0.1-76 0.1 40 0.2 53.6 0.1-31 0.1-19.2 0.1 10.8 0.1 19.3 0.1-24.8 0.1-17.3 0.1-13.5 0.1 31.6 0.1 80.6 0.1-61.3 0.1-12.7 0.1-14.4 0.1 18.4 0.1-11 0.1-46.4 0.1 3.3 0.1 37.8 0.1 71.4 0.1-60.8 0.1-0.5 0.2-21.2 0.1 3.2 0.1-6.4 0.1 8.4 0.1 37.9 0.1-16.3 0.1 14.1 0.1-38.6 0.1 14.7 0.1-36 0.1 42.7 0.1-6.1 0.1 37.1 0.1-60.1 0.1 4.6 0.1 21.1 0.1 14.1 0.1-5.3 0.1 28.5 0.1-21.3 0.1-40.9 0.2-1.3 0.1 46.1 0.1-9.7 0.1 5.9 0.1-46.7 0.1 52.5 0.1-25.2 0.1 25.9 0.1-61.6 0.1 28.9 0.1 44.1 0.1 2.2 0.1-67.6 0.1 12.3 0.1 4 0.1 11.1 0.1-28.8 0.1-8.3 0.1 21.6 0.1-6.2 0.1 5.5 0.2 23.5 0.1-56.4 0.1 24.7 0.1 37.5 0.1-41.3 0.1-27.2 0.1 1.5 0.1 53.4 0.1-32.1 0.1-12.8 0.1 38.8 0.1-15.7 0.1-19.8 0.1 31.2 0.1 37.7 0.1-42 0.1-20 0.1 1.5 0.1 13.9 0.1-46.4 0.1 32.2 0.2 7.7 0.1-23.5 0.1 9.3 0.1 42.9 0.1-13.9 0.1-17.3 0.1 31.5 0.1 2.8 0.1 19.7 0.1-37.2 0.1-43.4 0.1-11.4 0.1 23.1 0.1 22.4 0.1-0.1 0.1-4 0.1 25.5 0.1-4.5 0.1 13 0.1-18 0.1-24.9 0.1 17.2 0.2-13.3 0.1-24.6 0.1 14.1 0.1 3.5 0.1 13 0.1 16.1 0.1 2.3 0.1-61.7 0.1-0.2 0.1 58.8 0.1-19.6 0.1 6.6 0.1 9.9 0.1 7.7 0.1-30.1 0.1 35.6 0.1-20.2 0.1 21.1 0.1-24.3 0.1-15.1 0.1-9 0.2 1.3 0.1 57.5 0.1-18.1 0.1-4.1 0.1 8.2 0.1-3.6 0.1 10.3 0.1-1.5 0.1 31.7 0.1-34.1 0.1 56.2 0.1-6.9 0.1-36.4 0.1-40.9 0.1 13.1 0.1-18.6 0.1 6.5 0.1 7.6 0.1 28.3 0.1-7.1 0.1 35 0.2-13.7 0.1 27.2 0.1 16.4 0.1-30.6 0.1 15.8 0.1-32.4 0.1-11 0.1-42 0.1 33.7 0.1 21.8 0.1 17.5 0.1-23.6 0.1 6.1 0.1-56.3 0.1 30.5 0.1-53.6 0.1 48.3 0.1 17.2 0.1 8 0.1-29.6 0.1-0.3 0.2 41.4 0.1-60.1 0.1-1.3 0.1 17.1 0.1 14.8 0.1-30.8 0.1 20.6 0.1 14.4 0.1-33.5 0.1-12.4 0.1 35.7 0.1 4.9 0.1-20.5 0.1 67.5 0.1-29.8 0.1 59.9 0.1-51.2 0.1-24.5 0.1 3.5 0.1 48 0.1 17.3 0.2-22.4 0.1-47.7 0.1-3.2 0.1 17.4 0.1-27.4 0.1 0.6 0.1 53.5 0.1 26.8 0.1-25.8 0.1-0.2 0.1 9.7 0.1-75.5 0.1 17.3 0.1 25.9 0.1 3.4 0.1 38.6 0.1 12.1 0.1-95.6 0.1 37.8 0.1 19.6 0.1 7.4 0.1 6.2 0.2-74.1 0.1-5.7 0.1 19.3 0.1-8 0.1 21.3 0.1 32.8 0.1-4.8 0.1-4 0.1-21.2 0.1-12.9 0.1 39 0.1 26.3 0.1-38.3 0.1-43.5 0.1 105.7 0.1-28.1 0.1-17.9 0.1 23.2 0.1-71.4 0.1 25.9 0.1-16.4 0.2 8.8 0.1 1 0.1 40.2 0.1-3.9 0.1 22.8 0.1-5.8 0.1-78.5 0.1 16.2 0.1-29.3 0.1 70.5 0.1 9.3 0.1 16.2 0.1-39.3 0.1-23.2 0.1 35.6 0.1-68.2 0.1 90.4 0.1 10.5 0.1-6.2 0.1-14 0.1-44.7 0.2 14.7 0.1-19.2 0.1 14 0.1-14.8 0.1 8.7 0.1-38 0.1 8.8 0.1 54.8 0.1-27.3 0.1-3.6 0.1 17.4 0.1 9 0.1-1.4 0.1 1.1 0.1 8.6 0.1 41.2 0.1-15.8 0.1-3.4 0.1-73.3 0.1 59.5 0.1-25.6 0.2-18 0.1 16.8 0.1-6.2 0.1 17.8 0.1-45.2 0.1 22.8 0.1 38.9 0.1-27.5 0.1-6.3 0.1 47.4 0.1-18.2 0.1-21.1 0.1 58 0.1-52.2 0.1 9.5 0.1 0.7 0.1 17.4 0.1-24.9 0.1 20.8 0.1-42.1 0.1-32.5 0.2 104.1 0.1-21 0.1-11 0.1 5.9 0.1-15.7 0.1-50 0.1 17.6 0.1-22.4 0.1 51 0.1 39.4 0.1-47.1 0.1-4.1 0.1 8.1 0.1-36.6 0.1 91.5 0.1-17.3 0.1-13.4 0.1-25.6 0.1 16.5 0.1 12.2 0.1 7.1 0.1-28.5 0.2 8.2 0.1 15.8 0.1 0.4 0.1 13.8 0.1-78.2 0.1 55.9 0.1-28.7 0.1 53.3 0.1-76.5 0.1-10 0.1 14.6 0.1 1.7 0.1 49.5 0.1-19 0.1 37.9 0.1-74.5 0.1-18.4 0.1 23.4 0.1 25.9 0.1-11.1 0.1-57.8 0.2 139.8 0.1-70 0.1-3 0.1-62.1 0.1-1.1 0.1 50.6 0.1 4.5 0.1 54 0.1-39.7 0.1 28.6 0.1-21.4 0.1-0.5 0.1 12 0.1-82.3 0.1 18.3 0.1 5.1 0.1 56 0.1-50.5 0.1 58.8 0.1-34.3 0.1 21.8 0.2-22.8 0.1 38.9 0.1-71.5 0.1 95.2 0.1-35.6 0.1-34.2 0.1-28.4 0.1-6.3 0.1 64.1 0.1-1.9 0.1 40.6 0.1-17.8 0.1-53.3 0.1-0.3 0.1-31.2 0.1 68.3 0.1-62.9 0.1 25.8 0.1 51.4 0.1-47.3 0.1-21.9 0.2 1 0.1 60.3 0.1 15.9 0.1-49.5 0.1 6.9 0.1-3.4 0.1 41.1 0.1-49.7 0.1 5.2 0.1 33.7 0.1 11.6 0.1 2 0.1-28 0.1 9.9 0.1 1.1 0.1 10.1 0.1 30.9 0.1-29.6 0.1 12 0.1-26.1 0.1 27.3 0.2-65 0.1 15.6 0.1 20.8 0.1 7 0.1 5.5 0.1-44.3 0.1-23.6 0.1 16.4 0.1 31.1 0.1 25.5 0.1-25.6 0.1-26.3 0.1-15 0.1 33.9 0.1 49.8 0.1-54.3 0.1-11.4 0.1-27.8 0.1 20.4 0.1 23.3 0.1 9.8 0.1-39.9 0.2 35.3 0.1-26 0.1 19 0.1-11.7 0.1 15.9 0.1 13.1 0.1-42 0.1 71.9 0.1-90 0.1 56.7 0.1-40.4 0.1 56.3 0.1-22.6 0.1-27.3 0.1-42.2 0.1 72.8 0.1 17.2 0.1-83.1 0.1 63.9 0.1 8.3 0.1-19.5 0.2 50.1 0.1-58 0.1 42.5 0.1-69.8 0.1 47.9 0.1-8.9 0.1-2.5 0.1 34 0.1-69.6 0.1 55.8 0.1-20.3 0.1-1.8 0.1-23.6 0.1 3.9 0.1 47.5 0.1 21.1 0.1-44.7 0.1 23.4 0.1-44.8 0.1 44.9 0.1-0.4 0.2-30.1 0.1-31.6 0.1 81.6 0.1-73.8 0.1 58.4 0.1-3.7 0.1-2.2 0.1-19.8 0.1-18.3 0.1-35 0.1 31 0.1-0.2 0.1 33 0.1-47.2 0.1-25.5 0.1-8.4 0.1 66.1 0.1 6 0.1 15.5 0.1-45.7 0.1 78.2 0.2-100.8 0.1 60.8 0.1-18.5 0.1 32.1 0.1-5 0.1-48.2 0.1 14.7 0.1 60.9 0.1-1.7 0.1-41.5 0.1-12.1 0.1 25.4 0.1-30.8 0.1-5.7 0.1 18.5 0.1 11.9 0.1-12.3 0.1-2.1 0.1 38.2 0.1 20.8 0.1-30.8 0.2-10.8 0.1 9.3 0.1-43.2 0.1 40 0.1 6.6 0.1-7.1 0.1 15.5 0.1-15.6 0.1-29.1 0.1 36.2 0.1-30.4 0.1 3.1 0.1 47.2 0.1-30.4 0.1 0.6 0.1 2 0.1 15.8 0.1-10.6 0.1-26.3 0.1-33.7 0.1 26.4 0.1 0.5 0.2 45.6 0.1-28.9 0.1-3.8 0.1-9.6 0.1-39.1 0.1 60.1 0.1-17.1 0.1 34.1 0.1 44 0.1-29.5 0.1-35.7 0.1-12.3 0.1 41.4 0.1-59 0.1-19.2 0.1 15.3 0.1 50.2 0.1-10.1 0.1-13.2 0.1 46.5 0.1-17.6 0.2 7.1 0.1-49.5 0.1 8.3 0.1 56.3 0.1 19.5 0.1-99.3 0.1 33.2 0.1 7.6 0.1-47.2 0.1 76.1 0.1-23.7 0.1 1.6 0.1-13.7 0.1 24.4 0.1-9.7 0.1-75.4 0.1 33.4 0.1 15.3 0.1 2.1 0.1-6.1 0.1 13.2 0.2-33.9 0.1-3 0.1 34.7 0.1-2.2 0.1-42 0.1 3.8 0.1 72.5 0.1-52 0.1 20.6 0.1 40.5 0.1-25.4 0.1-34.5 0.1-8.2 0.1-0.1 0.1 24.7 0.1-23.2 0.1-41.1 0.1 42.9 0.1-13.1 0.1 31.8 0.1-7.9 0.2 3 0.1 38.5 0.1-54.2 0.1-4.6 0.1 59.8 0.1 4 0.1-51 0.1 3.1 0.1 38.7 0.1 19.1 0.1 2.8 0.1 13.8 0.1-64.3 0.1 24.9 0.1 13.5 0.1-60.6 0.1 53.3 0.1 31.8 0.1-71.6 0.1 57.3 0.1-83.1 0.2 85.7 0.1-6.1 0.1-15.1 0.1 20.7 0.1-47.4 0.1 44.7 0.1-62 0.1 17.9 0.1-54.1 0.1 33.4 0.1 22 0.1 5.1 0.1 18.4 0.1 11.8 0.1-15.5 0.1 14 0.1-24.5 0.1-46.7 0.1 38.8 0.1 26 0.1-58.6 0.1-0.5 0.2 20 0.1 7.5 0.1-19.2 0.1-4.6 0.1 5.5 0.1-0.3 0.1-18.1 0.1 37.7 0.1 42 0.1-12.7 0.1-22.3 0.1-9 0.1 14.7 0.1 21.3 0.1-23.3 0.1-1 0.1-2 0.1-37.2 0.1-7.1 0.1-24.2 0.1 52.2 0.2-39 0.1 24.8 0.1 4.1 0.1 21.1 0.1 5.3 0.1-27.4 0.1-8.4 0.1 23.5 0.1-23.2 0.1 27.2 0.1-48.4 0.1 46.4 0.1-15.9 0.1-26.2 0.1 38.5 0.1-4.1 0.1 32.9 0.1-33.3 0.1 1.2 0.1 3.5 0.1 2 0.2 42.2 0.1 7.3 0.1-41.5 0.1 15 0.1-1.3 0.1-16.4 0.1-1.8 0.1-4.2 0.1 1.7 0.1 0.5 0.1 21.3 0.1-15.3 0.1-18.6 0.1 29 0.1 5.2 0.1-23.2 0.1 30.1 0.1 13.9 0.1-58.9 0.1 50.5 0.1-70.9 0.2 37.3 0.1 42.9 0.1 25.1 0.1-31.8 0.1-81.4 0.1-0.7 0.1 12.5 0.1 45.8 0.1 2.6 0.1 41.5 0.1-19.1 0.1-9.7 0.1-32.9 0.1-24.6 0.1 59.6 0.1-46.5 0.1 33.6 0.1-26.6 0.1 43.3 0.1-8.9 0.1-34.8 0.2-21.4 0.1 39.6 0.1 0.7 0.1 3.2 0.1-26.5 0.1-10.3 0.1 35.3 0.1-46.6 0.1 51.4 0.1-36.7 0.1 15 0.1 11.6 0.1 8.3 0.1-34.2 0.1 27.9 0.1-16.3 0.1-24.9 0.1 51.3 0.1 6.3 0.1-5.2 0.1-17.3 0.1-5.3 0.2 34.5 0.1 16 0.1-38.9 0.1-19.1 0.1 39.1 0.1 15.8 0.1-14.8 0.1 5.7 0.1 24.8 0.1-47.1 0.1 31.3 0.1-6.4 0.1-58.5 0.1 46 0.1-79.5 0.1 48.8 0.1-37.5 0.1 55.8 0.1-24.9 0.1-15.6 0.1 44.9 0.2-9.7 0.1 59.9 0.1-22.3 0.1-19.2 0.1-48.5 0.1 10.4 0.1 20.2 0.1 19.8 0.1 30.1 0.1-35.8 0.1-2.3 0.1-3.8 0.1-4.3 0.1-50 0.1 14 0.1 8.1 0.1 3.1 0.1-3 0.1 49.3 0.1-4.2 0.1-35.2 0.2-57.7 0.1 71.8 0.1-10.3 0.1 27.9 0.1 1.3 0.1-9.6 0.1-31.3 0.1 8.8 0.1 38.5 0.1 5.4 0.1-13.8 0.1 6.6 0.1 4.8 0.1-13.4 0.1-27.7 0.1-27.1 0.1 38 0.1-9.7 0.1 3.9 0.1-1 0.1-30 0.2 46.2 0.1-25.3 0.1 6.2 0.1-8.7 0.1 31.6 0.1 21.2 0.1-40.8 0.1-1.3 0.1 10.6 0.1-23.8 0.1 54.6 0.1-37.3 0.1-29.5 0.1 54.6 0.1-22.6 0.1-23.1 0.1 4.6 0.1 9 0.1 15.8 0.1 4.1 0.1-29.5 0.2-16.4 0.1 49.8 0.1 0.4 0.1-16.7 0.1 8.2 0.1-37.4 0.1 77.9 0.1-84.2 0.1 20.6 0.1 32.2 0.1-20 0.1-4.8 0.1-12.9 0.1-4.5 0.1 86.5 0.1 30.2 0.1-88.2 0.1 0.7 0.1-20.5 0.1 42.6 0.1 22.2 0.1-39.2 0.2 40.4 0.1 17.4 0.1-61.3 0.1-54.4 0.1 39.3 0.1 45.6 0.1-25.2 0.1-44.2 0.1 15.2 0.1 75.3 0.1-12.3 0.1-27.8 0.1 27.5 0.1 20.5 0.1-99.1 0.1 18.9 0.1 66.3 0.1-19.7 0.1 3.7 0.1-36.3 0.1-57.4 0.2 39.3 0.1 20.9 0.1-0.7 0.1 32.7 0.1-17.1 0.1-11.9 0.1 41 0.1-40.1 0.1 21.5 0.1-36.7 0.1 52.6" fill="none" stroke="#000" stroke-width="1.4"/>
<path clip-path="url(#ca2)" d="M82 673.6l0.1-10.3 0.1-0.5 0.1 0.6 0.1 27 0.1-19.5 0.1 18.6 0.1-4.7 0.1-11.3 0.1-0.5 0.1-5.3 0.2 12.3 0.1 29.2 0.1-25.6 0.1 23.8 0.1-24.9 0.1-19.4 0.1-11.6 0.1 0.1 0.1 28.2 0.1-8.2 0.1-17.6 0.1 22.5 0.1-5.7 0.1-5.2 0.1-7.5 0.1 42.1 0.1-15.5 0.1-13.3 0.1-10.9 0.1 24.4 0.1-17.3 0.2 17.4 0.1 15.8 0.1-44.3 0.1 41.4 0.1-18.2 0.1-4.2 0.1-16.8 0.1 10.4 0.1 20.9 0.1-2.1 0.1-6 0.1 1.3 0.1 18.2 0.1-8.2 0.1 12.5 0.1-8.2 0.1-1.7 0.1-7.5 0.1 12.7 0.1-20.7 0.1 18.7 0.1-20.7 0.2-10.3 0.1-11.6 0.1 27.2 0.1-36.2 0.1 18.2 0.1 28.6 0.1-35.4 0.1 8.5 0.1 6.1 0.1-9.8 0.1 11.5 0.1 1.3 0.1-15.5 0.1 1.3 0.1 26.4 0.1-0.5 0.1-13.3 0.1 12.5 0.1 1 0.1 0.6 0.1-10.4 0.2-3.3 0.1 9.8 0.1-1.8 0.1-3.4 0.1 2.5 0.1 11.9 0.1-24.3 0.1 3.6 0.1-16.7 0.1 23.9 0.1 9.9 0.1-32 0.1 27.8 0.1-21.5 0.1 29.4 0.1-28.6 0.1 10.2 0.1 8.6 0.1-14.8 0.1 1.1 0.1 31.8 0.2-49.2 0.1 25.5 0.1 12.5 0.1-11.7 0.1-13.4 0.1 10.3 0.1-2 0.1-1.2 0.1 13.1 0.1-14.4 0.1 28.8 0.1-17.9 0.1 1.9 0.1 3.9 0.1-10.8 0.1 15.1 0.1-8.5 0.1-10.8 0.1 13.2 0.1 4.1 0.1-22.5 0.2 10.8 0.1-26.5 0.1 5.3 0.1-2.2 0.1 14.3 0.1 5.1 0.1 0.4 0.1-12.4 0.1-3 0.1 24.2 0.1-1 0.1-32.3 0.1 36.2 0.1-25.4 0.1 5.2 0.1-4.1 0.1 19.3 0.1-18.9 0.1 0 0.1 8.3 0.1 20.4 0.2 10.6 0.1-21.2 0.1-0.9 0.1-3.9 0.1 20.8 0.1-10.6 0.1-7.4 0.1 9.1 0.1-17.6 0.1 14.2 0.1 12.7 0.1-19.3 0.1-12 0.1 36.7 0.1-43.1 0.1 5.6 0.1-1.1 0.1 6.1 0.1 17.2 0.1 16.6 0.1-10.3 0.1-30.2 0.2 17.6 0.1-34.3 0.1 19.7 0.1-20 0.1 5.5 0.1 32.5 0.1 1.2 0.1-10.2 0.1 3.4 0.1 29.5 0.1-8.6 0.1-34.6 0.1-0.4 0.1-1.4 0.1-8.3 0.1 15.7 0.1 8.6 0.1-18.7 0.1 6.9 0.1 5.2 0.1-9.2 0.2 2.9 0.1 1.9 0.1 8.7 0.1 8.1 0.1-23.5 0.1 27.2 0.1-13.2 0.1-6.4 0.1-7.6 0.1 3.4 0.1 1.6 0.1 6 0.1-8.7 0.1-53.8 0.1 6 0.1 36.3 0.1 14.1 0.1 22.2 0.1-17.1 0.1 3.2 0.1 10.5 0.2-7.7 0.1-23 0.1 28.6 0.1-18.3 0.1-3.6 0.1 9 0.1-2.1 0.1 21.4 0.1-1.7 0.1-3.2 0.1-24.2 0.1 29.2 0.1-33.3 0.1 26.6 0.1-33 0.1-2.4 0.1 28.6 0.1 26.4 0.1-28.7 0.1 4.2 0.1 9.8 0.2-4.9 0.1 4.7 0.1 8.8 0.1-27.1 0.1 11.4 0.1 11.7 0.1-20.3 0.1-2 0.1-10.8 0.1 9.8 0.1 16.2 0.1 6.8 0.1-15.4 0.1-17.4 0.1 3.1 0.1 20.8 0.1 7.8 0.1-0.6 0.1 0.4 0.1-13.1 0.1 8.5 0.2-21.6 0.1 1.9 0.1 8.7 0.1 8.3 0.1-2.1 0.1-15.7 0.1-4.9 0.1 2.9 0.1-6.5 0.1 10.9 0.1 7.1 0.1 1.6 0.1 16.4 0.1-9 0.1-20.2 0.1 15.7 0.1 5.6 0.1-8.5 0.1-14.6 0.1 53.1 0.1-27.2 0.1-20.4 0.2 10.5 0.1 5.8 0.1 3.2 0.1 1.1 0.1-33.9 0.1 14.2 0.1-23.7 0.1 45.4 0.1 1.9 0.1 22.7 0.1-36.5 0.1 19.2 0.1-25.3 0.1-1.6 0.1-8.5 0.1 29 0.1-30 0.1-8.3 0.1 5.8 0.1 20.1 0.1-13.1 0.2-0.6 0.1 29.2 0.1-8.5 0.1-39.7 0.1 28.3 0.1 2.8 0.1-1.8 0.1-8.2 0.1-13.6 0.1 26.3 0.1-11.4 0.1-2.1 0.1-26.6 0.1 18.7 0.1-8.4 0.1 14.7 0.1-30.7 0.1 10.4 0.1 34.9 0.1-13 0.1-16.6 0.2 15 0.1 37 0.1-32.8 0.1 8.8 0.1 0.9 0.1-9.7 0.1 9.2 0.1-15.7 0.1-1.1 0.1 0.4 0.1 14.3 0.1 2.8 0.1 16.7 0.1-34.2 0.1 23.2 0.1-26 0.1 41.7 0.1 15.5 0.1-41 0.1-4.6 0.1 15.9 0.2 10.6 0.1 4.8 0.1-26.5 0.1 10.7 0.1 14.2 0.1 3.7 0.1-57.5 0.1 13.1 0.1 8.2 0.1 6.2 0.1 5 0.1-2.5 0.1 1.2 0.1 14.4 0.1-35.1 0.1 32.9 0.1-1.6 0.1 24.1 0.1 3.4 0.1-1.9 0.1-18.8 0.2-20.9 0.1-25.4 0.1-1.1 0.1 38.1 0.1 14.2 0.1-21.1 0.1-1.6 0.1 43.4 0.1-40.9 0.1 2.2 0.1-20.4 0.1-10.7 0.1 37 0.1-0.6 0.1-20.1 0.1 11.1 0.1 11.7 0.1-31.5 0.1 32.6 0.1-49.5 0.1 38.6 0.1-8.3 0.2 11.4 0.1-23.8 0.1 19.3 0.1-4 0.1 2.2 0.1-19.3 0.1 7.6 0.1-14.2 0.1 35.5 0.1-11.2 0.1-3.7 0.1 26.1 0.1-16.3 0.1-19.4 0.1 9.8 0.1 28.2 0.1-21.4 0.1 5.5 0.1 32.4 0.1-69.3 0.1 41.8 0.2-16.2 0.1 17.2 0.1-18.2 0.1-16.6 0.1 11.8 0.1 27 0.1 5.4 0.1-36.2 0.1 4.5 0.1-11.8 0.1 12.4 0.1-6 0.1 34 0.1-18.6 0.1-13 0.1 26.9 0.1-28.5 0.1-7.2 0.1 4.3 0.1 26.2 0.1 2.3 0.2-15.3 0.1 1.5 0.1-13.7 0.1 43.4 0.1-52.5 0.1 11.9 0.1 43.1 0.1-31.3 0.1 16.1 0.1-10.6 0.1-4.4 0.1 4.9 0.1 6.9 0.1 2.9 0.1-18.2 0.1-17.7 0.1 18.7 0.1-2.8 0.1-15.7 0.1 23.4 0.1 13.2 0.2-43.6 0.1 26.1 0.1-0.7 0.1 12.3 0.1-7.2 0.1-13.5 0.1-7.7 0.1 21.8 0.1 17.9 0.1-13.5 0.1-10.4 0.1-18.2 0.1 22.7 0.1-22 0.1 10.9 0.1-6.4 0.1-27.3 0.1 4.2 0.1 24.3 0.1 28.2 0.1-48.8 0.2 24.2 0.1-13.2 0.1 15.7 0.1-13.4 0.1 1.5 0.1-17 0.1 53.6 0.1-4 0.1-15.7 0.1-10.4 0.1 2 0.1 28.3 0.1-18.8 0.1-25.2 0.1 46.4 0.1-20.4 0.1 25.6 0.1-6.8 0.1-21.5 0.1-0.6 0.1 4.3 0.1 14.5 0.2-16.1 0.1-3.8 0.1-4.9 0.1 3.6 0.1 2.6 0.1-10.6 0.1 22.6 0.1-31.3 0.1 1.6 0.1 12.8 0.1-3.7 0.1 17.2 0.1-1.7 0.1-8.6 0.1-21.1 0.1 36.2 0.1 5.4 0.1-60.2 0.1 16.3 0.1 26.3 0.1-2.8 0.2-10.5 0.1 16.4 0.1-8.2 0.1 8.3 0.1-4.1 0.1 5 0.1 9.7 0.1-13.3 0.1-19.1 0.1 18.2 0.1-14.2 0.1 0.7 0.1 2.3 0.1-11.1 0.1-2.8 0.1 13.4 0.1 19.1 0.1-15.2 0.1 18.5 0.1-33.8 0.1 28.8 0.2-13.6 0.1 34.1 0.1 7.5 0.1-34.9 0.1-10.7 0.1 18 0.1-13 0.1 21.5 0.1 4.9 0.1-13.7 0.1-2.7 0.1 29.4 0.1-37.7 0.1 3.8 0.1-12.2 0.1 7.8 0.1-26.9 0.1 16 0.1-25.5 0.1 36.1 0.1-26.9 0.2 38.9 0.1-41.3 0.1 31.9 0.1-8.4 0.1-24.2 0.1 58.6 0.1-22.9 0.1-0.7 0.1 37.6 0.1-19.6 0.1-64.6 0.1 27 0.1 18.1 0.1 3.5 0.1-12.5 0.1-13 0.1 29.1 0.1-54.9 0.1 37.3 0.1 26.1 0.1-5.1 0.2 1.9 0.1 14.4 0.1-15.6 0.1-20.8 0.1-2.6 0.1 20.1 0.1 32.3 0.1-44 0.1 24.9 0.1-4.3 0.1 2.5 0.1-23.5 0.1-15.1 0.1 15.3 0.1 11.9 0.1-20.9 0.1-17.4 0.1 20.2 0.1 13.9 0.1-16.4 0.1-11 0.1 23.2 0.2-29.6 0.1-59.9 0.1 6 0.1 74.5 0.1 19.2 0.1-37.3 0.1-23 0.1 49.3 0.1-32 0.1 33.7 0.1 9.3 0.1-31.8 0.1-9.7 0.1 12.8 0.1-16.4 0.1 19.8 0.1-24.2 0.1 26.2 0.1 4.7 0.1-1.8 0.1 20.1 0.2 3.4 0.1-30 0.1 31.5 0.1-19.2 0.1 8.8 0.1 1.7 0.1-19.7 0.1 8.2 0.1 31.3 0.1-19.2 0.1-7.7 0.1-39.1 0.1 17.1 0.1 11 0.1 17.8 0.1-1.8 0.1 6.7 0.1-20.9 0.1-2.2 0.1-5 0.1-5.7 0.2 39.6 0.1-15.1 0.1-0.8 0.1-39 0.1 6.6 0.1 40.6 0.1-21.5 0.1 44.3 0.1-31.5 0.1 8.7 0.1-13.6 0.1 8.4 0.1-42.7 0.1 57.5 0.1-4.1 0.1-15.9 0.1-10.7 0.1-25.2 0.1 1.8 0.1 25.4 0.1 3.4 0.2-13.6 0.1-2.5 0.1 24.1 0.1 9.5 0.1-32.8 0.1 32.9 0.1-4.4 0.1-14.4 0.1 42 0.1-38.7 0.1-12.3 0.1 3.2 0.1-25 0.1 1 0.1 49 0.1-25.7 0.1 21.8 0.1 20 0.1-30.4 0.1 6.9 0.1 4.7 0.2-10 0.1-2.1 0.1 30.1 0.1-45.9 0.1-4.5 0.1-1.1 0.1 11.6 0.1 26.1 0.1 26.1 0.1-53.8 0.1 13.5 0.1-2.2 0.1-12.4 0.1 53 0.1-64.3 0.1 45.5 0.1 12.1 0.1 28.1 0.1-44.3 0.1-28.6 0.1 2.3 0.1-12.2 0.2 24.4 0.1-18.1 0.1 29.7 0.1-31.3 0.1 9.9 0.1-24.2 0.1 19.5 0.1 6.7 0.1-18.3 0.1 13.9 0.1 17.1 0.1-14.2 0.1 19.2 0.1-13.2 0.1-9.3 0.1 17.1 0.1-28.4 0.1 25.3 0.1-6.8 0.1 15.3 0.1-48.5 0.2 40.7 0.1 12.9 0.1-5.6 0.1-26 0.1-3.2 0.1 20.5 0.1-0.5 0.1-39.8 0.1 7.9 0.1 48.8 0.1-48.5 0.1 1.5 0.1 18.6 0.1-10 0.1-5.4 0.1-11.3 0.1-7.7 0.1 13.5 0.1 22.8 0.1 4.9 0.1-23.3 0.2-2.1 0.1 63.3 0.1-46.8 0.1-7.8 0.1-9.7 0.1 26.8 0.1-15.6 0.1 33.6 0.1-19.7 0.1 9.6 0.1-11.2 0.1 16 0.1-22.7 0.1 20 0.1 8.2 0.1-12.9 0.1-26 0.1 4.8 0.1-2 0.1 47 0.1-23.4 0.2 9.1 0.1 14 0.1 2.4 0.1-33.9 0.1-10 0.1-38.2 0.1 17.6 0.1 2.2 0.1 26.7 0.1-1.8 0.1-13.3 0.1 3.6 0.1 4.1 0.1 24.3 0.1 6.2 0.1-17.7 0.1-3.2 0.1 11.3 0.1 6.7 0.1-6.2 0.1 3.4 0.2-29.6 0.1 32.1 0.1-35 0.1 44.2 0.1-40.4 0.1-9.6 0.1 11.1 0.1 15.9 0.1-14 0.1 4.9 0.1 9.2 0.1-1.5 0.1-22.2 0.1 27.7 0.1 0.5 0.1-16.7 0.1-9.4 0.1 3.9 0.1 3.8 0.1 25.5 0.1 10.9 0.1-43.9 0.2 2.6 0.1 3.3 0.1-0.8 0.1 29.7 0.1-33.1 0.1 29.5 0.1-31 0.1 10.1 0.1-3.7 0.1 7.9 0.1 33 0.1-7.3 0.1-27 0.1 5.7 0.1 25.4 0.1-40.9 0.1 20.3 0.1-35.7 0.1 29 0.1 23.3 0.1-4 0.2-35.5 0.1 44.6 0.1-17.4 0.1 3.2 0.1-3.2 0.1 14.9 0.1-21.2 0.1 0.3 0.1-0.2 0.1-12.2 0.1 10 0.1 17.9 0.1-29.3 0.1 6.9 0.1 23.7 0.1-30.3 0.1 12.9 0.1 15 0.1-50.5 0.1 46.8 0.1-11 0.2-10.8 0.1 26.7 0.1-41.4 0.1 4.5 0.1 11.6 0.1-6.6 0.1 16.8 0.1-44.9 0.1 40.3 0.1-23.7 0.1 1.9 0.1-1.3 0.1 6.4 0.1 16.3 0.1-19.8 0.1 36.6 0.1 32.9 0.1-81.4 0.1 40 0.1-28 0.1 31.7 0.2-35.4 0.1 2.2 0.1 0.2 0.1 23.1 0.1 26.3 0.1-26.7 0.1-17.6 0.1 8.8 0.1 22 0.1 11 0.1-47.5 0.1 9.7 0.1-20.2 0.1 18.9 0.1 16.2 0.1-0.3 0.1-56.9 0.1 36.5 0.1-10.1 0.1-2 0.1 13.4 0.2-10.3 0.1 22.2 0.1-4.5 0.1-8.2 0.1 12.8 0.1 24.8 0.1-16.6 0.1 13.8 0.1-51.4 0.1 47.9 0.1 17.9 0.1-50.1 0.1 27.6 0.1-24.5 0.1 7.7 0.1 35.3 0.1-37.3 0.1 29.7 0.1 18.7 0.1-33.6 0.1 19.6 0.1-6.8 0.2-9.8 0.1 28.7 0.1-43.4 0.1 6.9 0.1-44.9 0.1 35.7 0.1-5 0.1-24 0.1 35.6 0.1-16.2 0.1 11.6 0.1-20.5 0.1 54.6 0.1-23.8 0.1 18.1 0.1-27.8 0.1-3.2 0.1 23.5 0.1-19.9 0.1 34.1 0.1-15 0.2-10.2 0.1-24.3 0.1 39.8 0.1 11.1 0.1 12.6 0.1-42.9 0.1-5.4 0.1 12.8 0.1 0.2 0.1 10.3 0.1-57.1 0.1 40.4 0.1-15.2 0.1 5.5 0.1 21.3 0.1 21.2 0.1 6.5 0.1-21 0.1 1.4 0.1-8.8 0.1-35 0.2 27.6 0.1-2.9 0.1-28.2 0.1 16.6 0.1 12.1 0.1-5.4 0.1-42.5 0.1 1.9 0.1 30.1 0.1-12.6 0.1 16 0.1-13.6 0.1 31.2 0.1-4.7 0.1 17.3 0.1 18.4 0.1-27.9 0.1-24.2 0.1 31.6 0.1-16.3 0.1 8.3 0.2-14.6 0.1-8.4 0.1 12.3 0.1-12.8 0.1-8.4 0.1 32.9 0.1 12.5 0.1-39.2 0.1 22.5 0.1 2.9 0.1-3.7 0.1 25.6 0.1-43.4 0.1-20.3 0.1 26.6 0.1 27.3 0.1-29.4 0.1 19.5 0.1-7.4 0.1-102.2 0.1 6 0.2 74.7 0.1 35.5 0.1-26.2 0.1-10.2 0.1-5.6 0.1 29.5 0.1-15.9 0.1 29.1 0.1 18.6 0.1-18.7 0.1-11.7 0.1 36.4 0.1-59.6 0.1-20.4 0.1 28.3 0.1-16.1 0.1 21.8 0.1 0.3 0.1-3.7 0.1 8.4 0.1 15.2 0.1 1.7 0.2-7.4 0.1-14 0.1-27.5 0.1 27.8 0.1 3.2 0.1-39.7 0.1 29.6 0.1 14.5 0.1 1.6 0.1-35.8 0.1 21.6 0.1 32.9 0.1-50.6 0.1 46.7 0.1-14.3 0.1-6.2 0.1 12.5 0.1 8.1 0.1-22.3 0.1-29.4 0.1 17.2 0.2-13.1 0.1 30.9 0.1-8.5 0.1-18.4 0.1-8.8 0.1 32.5 0.1-17.2 0.1 25.9 0.1-2.9 0.1-13.1 0.1-4.3 0.1-1.8 0.1-7.4 0.1 42.2 0.1-48.5 0.1 1.5 0.1 24.3 0.1 20.1 0.1-17.6 0.1 3.2 0.1-34.5 0.2 29.8 0.1-17.2 0.1 17.5 0.1-16.3 0.1-22.2 0.1-6.9 0.1 39.8 0.1 7.4 0.1 34.1 0.1-31.6 0.1-26.6 0.1 5.1 0.1 3.2 0.1 28.4 0.1-5.9 0.1 4 0.1-25.8 0.1 23.1 0.1-16.3 0.1-35.5 0.1 25.5 0.2 6.6 0.1-28.4 0.1 22.4 0.1-40.3 0.1 42.2 0.1 28.1 0.1-20.5 0.1 18.1 0.1-17.4 0.1-28.4 0.1 33.7 0.1-38 0.1 20.7 0.1 5.8 0.1-3.8 0.1 32.2 0.1-19.4 0.1-22.5 0.1-15.2 0.1 17.2 0.1 21.3 0.2-5.8 0.1 31.1 0.1-34.9 0.1-13.1 0.1 9.3 0.1 34.3 0.1-33.5 0.1 3.8 0.1 3 0.1 18 0.1-27.3 0.1-10.3 0.1-17.2 0.1 51 0.1-16.6 0.1-6.4 0.1 6 0.1 62.3 0.1-77.5 0.1 36.4 0.1-4.6 0.1 27.9 0.2-33.4 0.1 0 0.1-61.9 0.1 43.9 0.1-39.6 0.1 21.5 0.1 21.4 0.1-26.4 0.1-10.4 0.1 39.6 0.1-15.8 0.1 34.9 0.1 6.2 0.1-28.4 0.1-10.2 0.1 39.1 0.1-47.8 0.1 62.4 0.1-13 0.1-5.8 0.1-42.4 0.2 22 0.1-6.2 0.1-28.8 0.1 26.7 0.1-2.2 0.1-23.2 0.1 23.8 0.1 2.3 0.1-14.8 0.1 3.3 0.1 16.7 0.1 10.2 0.1-7.1 0.1-24.9 0.1 21.3 0.1-9.5 0.1 1.9 0.1 15.1 0.1-10.4 0.1 2.7 0.1-8.5 0.2-2.6 0.1 20.8 0.1-41.1 0.1 42.4 0.1-43.2 0.1 48.1 0.1 8.8 0.1-54.8 0.1 31 0.1-25.5 0.1-4.1 0.1 16.1 0.1 4 0.1 22.5 0.1 21.8 0.1-16.6 0.1-8.3 0.1-19 0.1 9.2 0.1 4.8 0.1-39.5 0.2-0.6 0.1 28.2 0.1 0.5 0.1-18.1 0.1 29.1 0.1-35.1 0.1 36.8 0.1-48.9 0.1 52.4 0.1-5.8 0.1 9.5 0.1-12.4 0.1-15.4 0.1-17.7 0.1 20 0.1 23.7 0.1-7.3 0.1-0.3 0.1-11.3 0.1 1.1 0.1 11.5 0.2-2.9 0.1 3.8 0.1 2.7 0.1 12.7 0.1-39.8 0.1 13.5 0.1 12.1 0.1-11.2 0.1 3.8 0.1 18.8 0.1 15.1 0.1 0.5 0.1-63.2 0.1 30.5 0.1-9.7 0.1 13.1 0.1-17.9 0.1 15.8 0.1 10.8 0.1-1.2 0.1 11.1 0.1-41.7 0.2 8.8 0.1 33.1 0.1 4.3 0.1-1.3 0.1-43.5 0.1-28.3 0.1 65.8 0.1-13.6 0.1-19.5 0.1 5.5 0.1-13.1 0.1-17.7 0.1 37.2 0.1 9.9 0.1-31.5 0.1 42.1 0.1-55.5 0.1 9.2 0.1 45.3 0.1 10.1 0.1-21.3 0.2-27.2 0.1 6.6 0.1-12.2 0.1 0.9 0.1 50.1 0.1-47.8 0.1 10 0.1-1 0.1 6.7 0.1-12.5 0.1-18.3 0.1 55.7 0.1-38.9 0.1 71 0.1-74.6 0.1 25.4 0.1-29.3 0.1 42.2 0.1 7.5 0.1-1.7 0.1-33.8 0.2 18.3 0.1-10.5 0.1 10.4 0.1-13.7 0.1 22.6 0.1-15.8 0.1 22.8 0.1-15.8 0.1-35.1 0.1 12.1 0.1 20.6 0.1-19.2 0.1 32.4 0.1-8 0.1-36.4 0.1-1.2 0.1 4.8 0.1-25.3 0.1 31.6 0.1 40.4 0.1 8.3 0.2-63.5 0.1 45.4 0.1 25.9 0.1-29.8 0.1 7.9 0.1 15.3 0.1-20.1 0.1-24.6 0.1 36.2 0.1-29.4 0.1 6.2 0.1 6 0.1 19 0.1-10.5 0.1-13.7 0.1-16.8 0.1 8.9 0.1 5.3 0.1-39.9 0.1 39.5 0.1-2.5 0.2-6.7 0.1 59.1 0.1-17.4 0.1 6.7 0.1-32.2 0.1 3.4 0.1-19 0.1-6.6 0.1 27.8 0.1-21.5 0.1 8.1 0.1-1.9 0.1 38.6 0.1 2.8 0.1-11.9 0.1 19.8 0.1-45.4 0.1-21.1 0.1-1 0.1 3.5 0.1 23.4 0.1-22.8 0.2 20.6 0.1-4.3 0.1-34.7 0.1 23.3 0.1 11.1 0.1-23.6 0.1 63.6 0.1-36.9 0.1-41.9 0.1 32.9 0.1 17 0.1-11.9 0.1-31.6 0.1 51.5 0.1-0.1 0.1-34.6 0.1 6.5 0.1 27.4 0.1-45 0.1-3.5 0.1 35.8 0.2-16 0.1-9.3 0.1-1.6 0.1 31.3 0.1 3.8 0.1-32.8 0.1-10.2 0.1 23.9 0.1-7.1 0.1-18.2 0.1 13.8 0.1-18.4 0.1 17 0.1 42.6 0.1-14.5 0.1-32.9 0.1 23.9 0.1 27.7 0.1 10.2 0.1-30 0.1 12.7 0.2-3.3 0.1-12 0.1-6.2 0.1-6.6 0.1-0.3 0.1 13.9 0.1 5.7 0.1-20.5 0.1-14 0.1 7.3 0.1 16.6 0.1 2.5 0.1 2.4 0.1-29.4 0.1 38 0.1-12.5 0.1-17 0.1 3.1 0.1 21 0.1-38.8 0.1 41.6 0.2-8.7 0.1-74.9 0.1 6 0.1 83.4 0.1-7 0.1 12.7 0.1-18.3 0.1-18.6 0.1 4 0.1-31.7 0.1 34.5 0.1-10 0.1 41.8 0.1-12.7 0.1-20.5 0.1 24.3 0.1-0.6 0.1-47.4 0.1 20.9 0.1-19 0.1 11.4 0.2 14.1 0.1 28.7 0.1 18.1 0.1-12.2 0.1-43.1 0.1 1.3 0.1 11 0.1-4.4 0.1 51.1 0.1-26.7 0.1-20.2 0.1 24.1 0.1-16 0.1-7.7 0.1 30 0.1-10.9 0.1-60.2 0.1 69.7 0.1-46.1 0.1 61.5 0.1 9.8 0.1-46.9 0.2 36.2 0.1-65.8 0.1 32.8 0.1-33.2 0.1 10.4 0.1-5.2 0.1 19.6 0.1 11 0.1-7.6 0.1-0.2 0.1-17 0.1 24.5 0.1 6.1 0.1 2.7 0.1-15 0.1-33.7 0.1 32.6 0.1-40.1 0.1 16.5 0.1-20.2 0.1-32.9 0.2 53.6 0.1-23.5 0.1 17.4 0.1 29.2 0.1 35.2 0.1-4.9 0.1 7.5 0.1-36.8 0.1-32.8 0.1 46.5 0.1-35.1 0.1 8.6 0.1-12.9 0.1 3.3 0.1 28.1 0.1-37.1 0.1 34 0.1-16.9 0.1 16.4 0.1-2.8 0.1-32.3 0.2 37.4 0.1-22.5 0.1 0 0.1 13.3 0.1 21.2 0.1-24.6 0.1-28.4 0.1 2.6 0.1 18.5 0.1 0.9 0.1 27.4 0.1 6.3 0.1-12.5 0.1-18 0.1 34.8 0.1-25 0.1-19.8 0.1 22.7 0.1 22.1 0.1 3.1 0.1-48.6 0.2 25.1 0.1 3.1 0.1-32.3 0.1-13.2 0.1 39.6 0.1 1 0.1-5.3 0.1 4.7 0.1 24.7 0.1-19.7 0.1-26 0.1 4.1 0.1-10.4 0.1 22.5 0.1-23.4 0.1-3.2 0.1 63.2 0.1-31.8 0.1 1.6 0.1-8.8 0.1 13.7 0.2-23.3 0.1-45.9 0.1 5.4 0.1 85.7 0.1-17.8 0.1-32.3 0.1 31.4 0.1-3.8 0.1-18 0.1 21.9 0.1-26.4 0.1-4.1 0.1-12.5 0.1 8.4 0.1 0.5 0.1 42.5 0.1-24 0.1 25.2 0.1-29.1 0.1-16.7 0.1 17.8 0.1-3.7 0.2-15.9 0.1 53.8 0.1-14.2 0.1-25.3 0.1-22.3 0.1 34.5 0.1-2.1 0.1-42.9 0.1 56 0.1 4.4 0.1-2.4 0.1-43.1 0.1 7.2 0.1 10.9 0.1 12.2 0.1 9.2 0.1 6.9 0.1-14.8 0.1-30.1 0.1 2.1 0.1 22.7 0.2-47.5 0.1 46.9 0.1 18.7 0.1-57 0.1 54.9 0.1-8.8 0.1-28.8 0.1 21.7 0.1-41.2 0.1 25.2 0.1-31.6 0.1 38.1 0.1-36.4 0.1 14.8 0.1-0.4 0.1 15.7 0.1-7.3 0.1-9 0.1 39.3 0.1 23 0.1-13.7 0.2-8.3 0.1-18.1 0.1 0.9 0.1 15.6 0.1-14 0.1-25.4 0.1-0.1 0.1 29.7 0.1 23.3 0.1-3.7 0.1 27 0.1-47.6 0.1-13.2 0.1-8.7 0.1 29.6 0.1-16.6 0.1-1.4 0.1-9.4 0.1 33.1 0.1-14.6 0.1 31.1 0.2-42.2 0.1 5 0.1-30.3 0.1-9.9 0.1-36.9 0.1 6 0.1 88.5 0.1-47 0.1 17.4 0.1 12.1 0.1-21.5 0.1 6.8 0.1 13.7 0.1 6.1 0.1-21.2 0.1 16.1 0.1 7 0.1-3.3 0.1 44.5 0.1-48.6 0.1 14.6 0.2-14 0.1-1.6 0.1-8.3 0.1 21.3 0.1-50.3 0.1 48.3 0.1 7.8 0.1-5.4 0.1 7.5 0.1 2.9 0.1-34.9 0.1-11.9 0.1 20.9 0.1-6 0.1 10 0.1 3.8 0.1-36.8 0.1-6.1 0.1 53.5 0.1-3.2 0.1 3.3 0.1-18.9 0.2-15.2 0.1 3.7 0.1 11.8 0.1-15.5 0.1-1.7 0.1 35.2 0.1-8.8 0.1-28.8 0.1 7 0.1-40 0.1 15.8 0.1-27.2 0.1-2.3 0.1-36.2 0.1-22.1 0.1-37.5 0.1-15 0.1-18.9 0.1-19.8 0.1-12.4 0.1-2.5 0.2 1.8 0.1 12.5 0.1 15.9 0.1 13.4 0.1 26.5 0.1 9.4 0.1 38.2 0.1 8.6 0.1 47.7 0.1 25.6 0.1-2.4 0.1 32.7 0.1-5 0.1-7.3 0.1 26 0.1-1.8 0.1-35.6 0.1 29.7 0.1 8.6 0.1-3.3 0.1-11.5 0.2 37.6 0.1-20.2 0.1-38.5 0.1 44.1 0.1-31 0.1-7.5 0.1 46.9 0.1-37 0.1 15.2 0.1 10.3 0.1-4.3 0.1-22.5 0.1 4.2 0.1 2.8 0.1-18.3 0.1 16.9 0.1 23.8 0.1-39.7 0.1 0.9 0.1 35 0.1-12.6 0.2-4.3 0.1 23.4 0.1-43.5 0.1 44.2 0.1-23.6 0.1-2.7 0.1 24.4 0.1-19 0.1-11.6 0.1-3.8 0.1 32 0.1-11 0.1 24.4 0.1-58.2 0.1 25.4 0.1 3.8 0.1 5.6 0.1 35.1 0.1-5 0.1-56.1 0.1 3 0.2 42.3 0.1 7.9 0.1-35.7 0.1-3.9 0.1-2.7 0.1 17.6 0.1-14.9 0.1 19.8 0.1-9.9 0.1-2.8 0.1 21.2 0.1 3.5 0.1-35.8 0.1-6.4 0.1 26.7 0.1-22.9 0.1 29 0.1-33.5 0.1 3.1 0.1 37 0.1-10.5 0.1-30.2 0.2 16 0.1-21.9 0.1 24.3 0.1-22.6 0.1 15.3 0.1-37.1 0.1 36.7 0.1 16.5 0.1 1.8 0.1 50.6 0.1-71 0.1 10 0.1 38.7 0.1-52.7 0.1 36.3 0.1-23.7 0.1 18.2 0.1 3.5 0.1-3.2 0.1-45.4 0.1 18.9 0.2-13.8 0.1-3 0.1 11.2 0.1 15.1 0.1-12.9 0.1-9.2 0.1-18.1 0.1 10.8 0.1-14.7 0.1 16.9 0.1 16.9 0.1 11.8 0.1-22 0.1 18.9 0.1-12.7 0.1 37.5 0.1-8.3 0.1-50.4 0.1 57.6 0.1-26.9 0.1-47.3 0.2-1.7 0.1 20.7 0.1 3 0.1 38.8 0.1 11.2 0.1-2.7 0.1 0.4 0.1-5.7 0.1-0.7 0.1-13.3 0.1-15.1 0.1 54.2 0.1-53.5 0.1 48.2 0.1-53 0.1 15 0.1 44.7 0.1-35.8 0.1-37.3 0.1 27.7 0.1-19.1 0.2 13.9 0.1 2.8 0.1 18.8 0.1-22.8 0.1-13.4 0.1-14.6 0.1 39.1 0.1 3 0.1 23.6 0.1-20.7 0.1-0.2 0.1-23.6 0.1-2.7 0.1 41.9 0.1-5.2 0.1-29.5 0.1 28.7 0.1-51.1 0.1 25.9 0.1 13.1 0.1-13.8 0.2 3.5 0.1-29.2 0.1 20.2 0.1-20.4 0.1 21.8 0.1 39.8 0.1-9.8 0.1 3.4 0.1-15.4 0.1-15.9 0.1 30.9 0.1-57.3 0.1 53.1 0.1-29 0.1-10.5 0.1 0 0.1-8 0.1 26.4 0.1 17.7 0.1-24.9 0.1 8.7 0.1 18.8 0.2-16.8 0.1 18.9 0.1-45 0.1 20.9 0.1 36.3 0.1-48.4 0.1-25.4 0.1 34.5 0.1-10.1 0.1-23.6 0.1 16 0.1 29 0.1-65.9 0.1 6 0.1 63.9 0.1 26.3 0.1-41.6 0.1 15.5 0.1 20.3 0.1-16.6 0.1-22.4 0.2-36.5 0.1 56.3 0.1-45.6 0.1-3 0.1-7.4 0.1 28.3 0.1 46.9 0.1-2.1 0.1-32.4 0.1 16.4 0.1-17.5 0.1 28.8 0.1-26.5 0.1 25.3 0.1-26.1 0.1 18.3 0.1 7.5 0.1-10.7 0.1-27.3 0.1 6.4 0.1 39.7 0.2 16 0.1-34.1 0.1-28.1 0.1-15.6 0.1 57.5 0.1-15.8 0.1-12.7 0.1 23 0.1-44.4 0.1 18.4 0.1-24.9 0.1 10.1 0.1-13.8 0.1 5.4 0.1 41.2 0.1-5.4 0.1 3.3 0.1 26.2 0.1 16.9 0.1-39.8 0.1-21.2 0.2 7.8 0.1 14.1 0.1-67.3 0.1 33 0.1 35.5 0.1 25.6 0.1 11.4 0.1-20.6 0.1 0.7 0.1-38.2 0.1-23.2 0.1 18 0.1-17.6 0.1 12.5 0.1 43.5 0.1-29 0.1-34.3 0.1 36.4 0.1 11.7 0.1-9 0.1-26.5 0.2 36.7 0.1 5.4 0.1-26.6 0.1 4 0.1-22.7 0.1 40.5 0.1-13 0.1-16.1 0.1 50.7 0.1-8.3 0.1-21.1 0.1-11.2 0.1-30.1 0.1 61.5 0.1-28.6 0.1-42.1 0.1 57.3 0.1-2.2 0.1-42.7 0.1 12.6 0.1 47 0.1-20.8 0.2 9.2 0.1 8.1 0.1-17.2 0.1-23.9 0.1 14.9 0.1 6.9 0.1 19.1 0.1 3.4 0.1-40.6 0.1 44.6 0.1-37.1 0.1-3.8 0.1 14 0.1 11 0.1-15.4 0.1 34.4 0.1 8.1 0.1-44.9 0.1 8.1 0.1 1.5 0.1 12.7 0.2-39.1 0.1 41.1 0.1-22.7 0.1 0 0.1-22.9 0.1-6.5 0.1 44.5 0.1-37 0.1 8.7 0.1 10.5 0.1-12.7 0.1 32.4 0.1-15.8 0.1 16.9 0.1-40.2 0.1-1.9 0.1 17.6 0.1-21.8 0.1 25.5 0.1-8.4 0.1 0.1 0.2 15.8 0.1-31.1 0.1 6.4 0.1 0 0.1-2.7 0.1 0.8 0.1-11.8 0.1 14.8 0.1 35 0.1-16.5 0.1 21.6 0.1 2.1 0.1-21.3 0.1 31.6 0.1-11.7 0.1-36.1 0.1-3.6 0.1 37 0.1-1.3 0.1-30 0.1-10.4 0.2-18.7 0.1 74.2 0.1-47.4 0.1 7.7 0.1 12.6 0.1 24.5 0.1-1.1 0.1-12.9 0.1-56.3 0.1 55.7 0.1 9.5 0.1-26 0.1-15.7 0.1-12 0.1-29.3 0.1 52.7 0.1 5.1 0.1-17.4 0.1 34.6 0.1-33.9 0.1 21.3 0.2-23.7 0.1 13.3 0.1 19.8 0.1 4.5 0.1-6.4 0.1-11.9 0.1-1.9 0.1 27.1 0.1-44.2 0.1 26.1 0.1 36.3 0.1-31.4 0.1 1.8 0.1-27.2 0.1 11.8 0.1 12.3 0.1-10.3 0.1-48.5 0.1 65.9 0.1 33.5 0.1-57.8 0.1 1.7 0.2 21.2 0.1 2.3 0.1-16.5 0.1 67.1 0.1-20.8 0.1-19.7 0.1-51.3 0.1-9.9 0.1 4.5 0.1-6.7 0.1 38.9 0.1-13.2 0.1 9.7 0.1 1.7 0.1 11 0.1-9.8 0.1-31.5 0.1 18.2 0.1-32.8 0.1 11.7 0.1-6.2 0.2 22.9 0.1 35.6 0.1-23.8 0.1-22.2 0.1 17.2 0.1 23.5 0.1-16.2 0.1-5.5 0.1 30.5 0.1-26 0.1 18.8 0.1-33.8 0.1 9 0.1 5.2 0.1-54.5 0.1 34.1 0.1 32.3 0.1-32.3 0.1-3.7 0.1 2.7 0.1 24.6 0.2-16.8 0.1 21.7 0.1 25.9 0.1-3 0.1-55.6 0.1-36.1 0.1 65.1 0.1 15.5 0.1-34.3 0.1 5.1 0.1 35.6 0.1 13.4 0.1-39.8 0.1 8.7 0.1-18.3 0.1 40.5 0.1-27.4 0.1 26.1 0.1-25 0.1-2.8 0.1 7.6 0.2-55 0.1 49.9 0.1 4.4 0.1 20.1 0.1-2.8 0.1-37.4 0.1 29.8 0.1-15.3 0.1-19.8 0.1-14 0.1 8.1 0.1 2.5 0.1 45.8 0.1-51.9 0.1-19.3 0.1 42.4 0.1 10 0.1 5.5 0.1-15 0.1-0.3 0.1 48.6 0.2-63.6 0.1 9.4 0.1 3.7 0.1 9.4 0.1 8.7 0.1 24.5 0.1-56.1 0.1-27.2 0.1 29.3 0.1 17.8 0.1 13.8 0.1 32.5 0.1-40.2 0.1-51.3 0.1 58.1 0.1-24.6 0.1 11.1 0.1 15.2 0.1 11 0.1-33.9 0.1 6.1 0.1 18 0.2-18.9 0.1 21.5 0.1-44.5 0.1 20.6 0.1-29.7 0.1 20 0.1 39.2 0.1-18.3 0.1 11.9 0.1-30.9 0.1 5.9 0.1 6.5 0.1-17.7 0.1 25.8 0.1-48.6 0.1 3.4 0.1 40 0.1 14.1 0.1-45.9 0.1 3.6 0.1 16.9 0.2 36.4 0.1-18.9 0.1 17.3 0.1-19.1 0.1-38.2 0.1 53.7 0.1-53.6 0.1 30.4 0.1-8.7 0.1-17 0.1 14.6 0.1-1.2 0.1-3.2 0.1-3.6 0.1 11.1 0.1-41.3 0.1 60 0.1-37.1 0.1 31.1 0.1 1.7 0.1-19.4 0.2-30.4 0.1 31.3 0.1 52.3 0.1-36.3 0.1-21.8 0.1 13.7 0.1-14.7 0.1 53.2 0.1-44.6 0.1 23.5 0.1-45.6 0.1 1.9 0.1 19.2 0.1-31.6 0.1 27.1 0.1 25 0.1-8.4 0.1-7.5 0.1 58.7 0.1-39.5 0.1-10.4 0.2 28.5 0.1-50.9 0.1 18.6 0.1-55.8 0.1 30.9 0.1 18.4 0.1 8.5 0.1 17 0.1-21.7 0.1-38.2 0.1 40.7 0.1 37.7 0.1-13 0.1-24.3 0.1 4.6 0.1-3.8 0.1 30.5 0.1-21.3 0.1-37.8 0.1 8.3 0.1 67.9 0.2-26 0.1 34.5 0.1-34 0.1-28.7 0.1-1.2 0.1-12.4 0.1-21.8 0.1 42.7 0.1 30.3 0.1-27.2 0.1 6 0.1-36.4 0.1-26.9 0.1-6.6 0.1 29.9 0.1-14.2 0.1 40.3 0.1 3.7 0.1-32 0.1 16.4 0.1-5.7 0.1 9 0.2 23.6 0.1 33.2 0.1-22.8 0.1-4.6 0.1-17.9 0.1 0.8 0.1-8.6 0.1 55.7 0.1-24.1 0.1-3.9 0.1-48.1 0.1 42.1 0.1-34.5 0.1-19.7 0.1 16.1 0.1-1 0.1-17 0.1 57.3 0.1-34.2 0.1-24.6 0.1 41.5 0.2-19.6 0.1 31 0.1-18.1 0.1 1.2 0.1 2 0.1-5.8 0.1 13.8 0.1 47 0.1-14.5 0.1-39.8 0.1-21.2 0.1-9.2 0.1 25.5 0.1-8.5 0.1 7 0.1 6.8 0.1 3.1 0.1 10.8 0.1-12.8 0.1 37.9 0.1-28.1 0.2-20.5 0.1 4.1 0.1 38.2 0.1-26.3 0.1 1.8 0.1 5.7 0.1-64.9 0.1-7.5 0.1 22.7 0.1 53 0.1-51.8 0.1 33 0.1 4.3 0.1 8.1 0.1 7.8 0.1-32 0.1 22.5 0.1-26.1 0.1 26.5 0.1-50.4 0.1 25.6 0.2 7.8 0.1 6.8 0.1-16.6 0.1-6.3 0.1 18.1 0.1 1.6 0.1 36.2 0.1-17.8 0.1-17 0.1-5.6 0.1 21.5 0.1-4.9 0.1-5.6 0.1-5.3 0.1 2.8 0.1-15.4 0.1-0.7 0.1 25.2 0.1 22.3 0.1-35.6 0.1-27.3 0.2 62.9 0.1 7 0.1-68 0.1-33.5 0.1 70.9 0.1-44.8 0.1 18.7 0.1-55.6 0.1 85.2 0.1 5.3 0.1-5.1 0.1-19.2 0.1 2 0.1-9 0.1-42.6 0.1 79.1 0.1-33.5 0.1 14.4 0.1-6.8 0.1 7.8 0.1-6.1 0.1-11.8 0.2 0.1 0.1-12.3 0.1-8.6 0.1 13.1 0.1 18.1 0.1 21.8 0.1-19 0.1-33.4 0.1 5.1 0.1 17.7 0.1 10.5 0.1-13.3 0.1 15.2 0.1 14.9 0.1-49.8 0.1 58.6 0.1-14.3 0.1-1.5 0.1-52.3 0.1 53.4 0.1-32 0.2 28 0.1 4.3 0.1-28.4 0.1 11 0.1-8.6 0.1-30.3 0.1 73.3 0.1-25.3 0.1-45 0.1 16.8 0.1-25.9 0.1 56.7 0.1-34.8 0.1-9.5 0.1 15.5 0.1 41.3 0.1-62 0.1-18.8 0.1 32.3 0.1-5.4 0.1 13 0.2-5.6 0.1 33.8 0.1 25.5 0.1-47.3 0.1-14.1 0.1 34 0.1 18 0.1-1.6 0.1-13.1 0.1-14.9 0.1 6.3 0.1-26.1 0.1 44.5 0.1-49 0.1 7.7 0.1-45.2 0.1 57.8 0.1-7.4 0.1-8.1 0.1 7.2 0.1-4.8 0.2 21.9 0.1 32.6 0.1-58.3 0.1 54.2 0.1-32.5 0.1 3.1 0.1 16.9 0.1 1.1 0.1-38.4 0.1 45 0.1-23 0.1-16.3 0.1 21.4 0.1-24.7 0.1 34.9 0.1-3.5 0.1 12.4 0.1 2.5 0.1 14.5 0.1-50 0.1-3.9 0.2 8.9 0.1 8.1 0.1 0.4 0.1-22.1 0.1-29.5 0.1 19.8 0.1 31.3 0.1 0.5 0.1 17.6 0.1-32.8 0.1 4.6 0.1 7.5 0.1 47 0.1-26.4 0.1-13.8 0.1 9.9 0.1-37.8 0.1-42.3 0.1 55.9 0.1 15.3 0.1-2.3 0.1-23.2 0.2-2.2 0.1 4 0.1 16 0.1-22.4 0.1 41.8 0.1-25.1 0.1-31.8 0.1-13.8 0.1 15.5 0.1 44.9 0.1-5.5 0.1-44.6 0.1 54.7 0.1-36.8 0.1-20.3 0.1 15.7 0.1 21.9 0.1 2.7 0.1-32.6 0.1 18.3 0.1 35.7 0.2-60.3 0.1 24.6 0.1 47.8 0.1-24.7 0.1-20.1 0.1 15.1 0.1-0.5 0.1-46.9 0.1 21.1 0.1-13.3 0.1 38.6 0.1-16.6 0.1-0.2 0.1-11.9 0.1-10.5 0.1 48.3 0.1-23.5 0.1-13.1 0.1 18.1 0.1 4.3 0.1-26.4 0.2-16.5 0.1 24.1 0.1 0 0.1-23.7 0.1 3 0.1 23.6 0.1 29.1 0.1-25.4 0.1-21.3 0.1 7.9 0.1 9.8 0.1-36.9 0.1 0.4 0.1 25.3 0.1-33.6 0.1 13.6 0.1 33.3 0.1-3.2 0.1-31.7 0.1 23.4 0.1-33.5 0.2 16.9 0.1-11.4 0.1 25.9 0.1-20 0.1 5.1 0.1-10.5 0.1-16.9 0.1 49.6 0.1-18.6 0.1-9.2 0.1 11.9 0.1-6.8 0.1 19.9 0.1 8.3 0.1-24.3 0.1 7.5 0.1-19.8 0.1-12.4 0.1 24 0.1-0.3 0.1-15.5 0.2 33.4 0.1-9.9 0.1-17.2 0.1 6.7 0.1 8.2 0.1 6.9 0.1-11.6 0.1 17.3 0.1 24.4 0.1-24.8 0.1-7.3 0.1 1.2 0.1 7.1 0.1 11.5 0.1-2.4 0.1-23.8 0.1-4.1 0.1 48.5 0.1-19.8 0.1-27.4 0.1-13.2 0.1 5.3 0.2 15.4 0.1 19 0.1-4.6 0.1 8.7 0.1-30.1 0.1 14.8 0.1 37.6 0.1-36.6 0.1-1 0.1 9.1 0.1-19.9 0.1 15.2 0.1 5 0.1 9.4 0.1-28.7 0.1-0.3 0.1 20.9 0.1-22.3 0.1 12.2 0.1 12.4 0.1-3 0.2 28.5 0.1-87.2 0.1 48.7 0.1 36.5 0.1-36.8 0.1 46.2 0.1-12.8 0.1-7 0.1-1.9 0.1-5.4 0.1-31.3 0.1-9.7 0.1 75.2 0.1-10.1 0.1-28 0.1-25.5 0.1-8.3 0.1 1.6 0.1 9.8 0.1 37.2 0.1-36.7 0.2 36 0.1 4.8 0.1-20.9 0.1 33.1 0.1-31 0.1 14.5 0.1-17.7 0.1 20.1 0.1 18.8 0.1-59.6 0.1-0.3 0.1 73.5 0.1-47.6 0.1 22.7 0.1-16 0.1 15.8 0.1 7.4 0.1 3.3 0.1-27.5 0.1 17.7 0.1 28.4 0.2-32.9 0.1 29.9 0.1-59.1 0.1 23.1 0.1-5.3 0.1-2.3 0.1 23.3 0.1-26 0.1 23.2 0.1-9 0.1 9.8 0.1-2.8 0.1-37.4 0.1-0.6 0.1 38.1 0.1 12.3 0.1-51.7 0.1 18.9 0.1 54.7 0.1-23.1 0.1-46.4 0.2 20.3 0.1-2.7 0.1 18.3 0.1-55.9 0.1 23 0.1-1.4 0.1 24.9 0.1-17.7 0.1 9.9 0.1 15.5 0.1-50.9 0.1 51.3 0.1 6.8 0.1-5.7 0.1 4.1 0.1-26.3 0.1 19.6 0.1 22.7 0.1-0.2 0.1-14.8 0.1-34 0.1 17.8 0.2 37.7 0.1-19.8 0.1-32.4 0.1-24.4 0.1 15.1 0.1 22.4 0.1-14.6 0.1-21.8 0.1 19.1 0.1-3.8 0.1 25.1 0.1 21.4 0.1-30.8 0.1-30.2 0.1 24.3 0.1 13.8 0.1-20.6 0.1 40.6 0.1-28 0.1 17.8 0.1-8 0.2-31.8 0.1 27.3 0.1 23.3 0.1-50.4 0.1 37.7 0.1 6.9 0.1-63.2 0.1 2.1 0.1 101.2 0.1-85.3 0.1 18 0.1 24.6 0.1-7 0.1-3.6 0.1 14.9 0.1-20.9 0.1-19 0.1 49.7 0.1-34.6 0.1 24.6 0.1-5 0.2 27.7 0.1-49.2 0.1 30.4 0.1-4.5 0.1-13.4 0.1-0.8 0.1 25.7 0.1-37 0.1 16.2 0.1 20.7 0.1 41.2 0.1-67.1 0.1-17.3 0.1-30.2 0.1 51.4 0.1-8.1 0.1 23.4 0.1-46.4 0.1-9.5 0.1 9.4 0.1 15.7 0.2-5.4 0.1-6 0.1-9.1 0.1 25.9 0.1-4 0.1 43.6 0.1-46.1 0.1 21.6 0.1 34.2 0.1-93.3 0.1 38 0.1 18.3 0.1-2.5 0.1 13.4 0.1 18.5 0.1-42.2 0.1 22.4 0.1 20 0.1-33 0.1 28.5 0.1-2.4 0.2-17.2 0.1-14 0.1 25.9 0.1-5.4 0.1-17.2 0.1 17.6 0.1-12.3 0.1 24.3 0.1-4.9 0.1-28.4 0.1 23.8 0.1-29.7 0.1 28.2 0.1 11.5 0.1-31 0.1 7.2 0.1 15.3 0.1-3.7 0.1-8.1 0.1-5 0.1 26.3 0.1-59.8 0.2 43.3 0.1 21 0.1-19.8 0.1 59.9 0.1-79.1 0.1-8.8 0.1-23.2 0.1 14.6 0.1 27.9 0.1-13.3 0.1 8.2 0.1 17.7 0.1-7.7 0.1-20.8 0.1 3.4 0.1-13.2 0.1-22 0.1 12.5 0.1 50.5 0.1-1.9 0.1-19.9 0.2 39.2 0.1-23.3 0.1-4.8 0.1 36.1 0.1-43.6 0.1-9.7 0.1 1.1 0.1 45.8 0.1-22.9 0.1-24 0.1 28.5 0.1 10.2 0.1-13.7 0.1-18.4 0.1 17.4 0.1 49 0.1-29.6 0.1-51.8 0.1 38 0.1-6.4 0.1 11.7 0.2-18 0.1 35.8 0.1-24.2 0.1 22.8 0.1-19.2 0.1-37.7 0.1 46.6 0.1-18.2 0.1-43.2 0.1 26.3 0.1 45.7 0.1-47.7 0.1 24 0.1-5.3 0.1-21.9 0.1 22.5 0.1 6.7 0.1-41.8 0.1 8.4 0.1 25 0.1-2.7 0.2 22.1 0.1-26.6 0.1-15.2 0.1 31.5 0.1 12.4 0.1-33.5 0.1-3.1 0.1 25.3 0.1 6.1 0.1 12.4 0.1-69.6 0.1 58.1 0.1-20 0.1 47.7 0.1-11.3 0.1-22.9 0.1-36.9 0.1 23.5 0.1 9.2 0.1-19.2 0.1 42.7 0.2-31.4 0.1 15.4 0.1 6.6 0.1-39.4 0.1 50.7 0.1-24.3 0.1-5.6 0.1-13.3 0.1 10 0.1 29.9 0.1-35.4 0.1 32.8 0.1-13.3 0.1-25.8 0.1-17.7 0.1 46.9 0.1-59.1 0.1 30 0.1 29.8 0.1-1.6 0.1-38.3 0.1 16.7 0.2 15.9 0.1-5.6 0.1-24.2 0.1-9.7 0.1 59 0.1-45.2 0.1 13.6 0.1-37.6 0.1 37.1 0.1-21.9 0.1 10.3 0.1 27.2 0.1-13.4 0.1 25.4 0.1 17.5 0.1-52.9 0.1 19.9 0.1 26 0.1-45.1 0.1 12.4 0.1-23.7 0.2-28.9 0.1 52.8 0.1-3.7 0.1 17.4 0.1-8.8 0.1-17.6 0.1 26.6 0.1 6.3 0.1-13.5 0.1 12 0.1-21.8 0.1-6.8 0.1 19.4 0.1 16.7 0.1 7.9 0.1-34.9 0.1-27.5 0.1 24.8 0.1-31.7 0.1 42.5 0.1-0.5 0.2-30 0.1 21.7 0.1 1.4 0.1 23.3 0.1-10.5 0.1-18.2 0.1-13.8 0.1 6.2 0.1-48.3 0.1 64 0.1 20.3 0.1-53.7 0.1 30.7 0.1-3.2 0.1 51 0.1-20.1 0.1-4.6 0.1-26 0.1 11.4 0.1-35 0.1 21 0.2 13.4 0.1 2.7 0.1-63.9 0.1 31.6 0.1 27 0.1 3.2 0.1 8 0.1-7.3 0.1 10 0.1-7.9 0.1 0.5 0.1 13 0.1-11.8 0.1 24.6 0.1-13.5 0.1-17.8 0.1-45.8 0.1-16.4 0.1 34.8 0.1 21.7 0.1-22.6 0.1 20.2 0.2-0.3 0.1-20.4 0.1 51.2 0.1 6.7 0.1-33.4 0.1 32.3 0.1-29.4 0.1 8.2 0.1-10.3 0.1 12.7 0.1 6.3 0.1 16.8 0.1-15.7 0.1-9.6 0.1 4.9 0.1-15.4 0.1 3.3 0.1-16.2 0.1-10.4 0.1 37.9 0.1 9.1 0.2-55.4 0.1 9.6 0.1 14.2 0.1-32.8 0.1 30 0.1 31.2 0.1-0.6 0.1 0.8 0.1-0.5 0.1-44.7 0.1 20.5 0.1-14.1 0.1-2.6 0.1 25.7 0.1-11.8 0.1 23.7 0.1-18.3 0.1 14.9 0.1 14.4 0.1 5.1 0.1-44.4 0.2 17.1 0.1 5.5 0.1-35.4 0.1 13.8 0.1 8 0.1 29.1 0.1-13.2 0.1 15.4 0.1-26.5 0.1 14.7 0.1 5.2 0.1-41.5 0.1-14.3 0.1 25.4 0.1-6.8 0.1 14.8 0.1 33.2 0.1 4 0.1-36.2 0.1 17.3 0.1-68.3 0.2 47.9 0.1 22.5 0.1-18.4 0.1 18.5 0.1-24.3 0.1 8.5 0.1-28.6 0.1 18 0.1 43.9 0.1-20.9 0.1-5.4 0.1 35.7 0.1-29.7 0.1-42.5 0.1 21.8 0.1 13.3 0.1-27.9 0.1 27.9 0.1 8.8 0.1 11.5 0.1 9.2 0.2 7.4 0.1-10.2 0.1-2.6 0.1 3.9 0.1-50.9 0.1-12.3 0.1 31.4 0.1 7.7 0.1 3.5 0.1-10.3 0.1 13.7 0.1 1.3 0.1-24.5 0.1-3.2 0.1 45.5 0.1-36 0.1-39.1 0.1 56.9 0.1-18.8 0.1 26.9 0.1-26.9 0.1-2.7 0.2-30.8 0.1 30.3 0.1 5.7 0.1 36 0.1-2.8 0.1-36.8 0.1-13 0.1-8.1 0.1-1.1 0.1-3.6 0.1-0.6 0.1 12.7 0.1-3.5 0.1 60.2 0.1-45.9 0.1-1.8 0.1 14.7 0.1-34 0.1 8.6 0.1 24.1 0.1-63.8 0.2 44.8 0.1-9.6 0.1 10.9 0.1 19.1 0.1-33.7 0.1 22 0.1 4.6 0.1 28.4 0.1-34.6 0.1-4.8 0.1 73.9 0.1-37.7 0.1-44.3 0.1 28.9 0.1-25 0.1 10.7 0.1 24.9 0.1-16.6 0.1-12.6 0.1 17.5 0.1-15 0.2-19.8 0.1-30.3 0.1 64.3 0.1-17.5 0.1 11.7 0.1-20.2 0.1-9.1 0.1 28.5 0.1 26 0.1-19.3 0.1-69.8 0.1 28.3 0.1 50.5 0.1-6.8 0.1-7 0.1 7.3 0.1 2.1 0.1-12.4 0.1-44.7 0.1 30.9 0.1 10.3 0.2-2 0.1-12 0.1 39.4 0.1-44.5 0.1 27.4 0.1-27.8 0.1 23.9 0.1 27 0.1-3.8 0.1-33.9 0.1 24.5 0.1-25.5 0.1 18.1 0.1-71.5 0.1 65.2 0.1 8.3 0.1-38.9 0.1 15.7 0.1 3.6 0.1-9.2 0.1-24.6 0.2 21.6 0.1 12.4 0.1 5.7 0.1-7.8 0.1-11.3 0.1 42.9 0.1-37.4 0.1-16 0.1 47.1 0.1-16.4 0.1-7.4 0.1-2.3 0.1 7.5 0.1 26.8 0.1-18.7 0.1-39.3 0.1 15.5 0.1-4.4 0.1 19.6 0.1-10.8 0.1 29 0.1-27.2 0.2 11.2 0.1 24.7 0.1-32.7 0.1 16.6 0.1-29.8 0.1 27.8 0.1-38.6 0.1 34.1 0.1-29.7 0.1 48.5 0.1-11.8 0.1-69.4 0.1 15 0.1 43.4 0.1-12.8 0.1 24.4 0.1-7.4 0.1-20.9 0.1 22.5 0.1-2.4 0.1 10.4 0.2-18 0.1-55.7 0.1 25.2 0.1-0.2 0.1 30.6 0.1 18.8 0.1 0.7 0.1 27.1 0.1-51.3 0.1 17.5 0.1 16.6 0.1-17.5 0.1-30.5 0.1 44.2 0.1-20.7 0.1 1.5 0.1 30.5 0.1-22.4 0.1 24.3 0.1-0.5 0.1-37.1 0.2 32.7 0.1-55.5 0.1 29.2 0.1-44.6 0.1 74.4 0.1-13.9 0.1-28 0.1-13.8 0.1 46.6 0.1 26.7 0.1-36.8 0.1-33.1 0.1 23.2 0.1 14.8 0.1-20.6 0.1 12.4 0.1-3.6 0.1-58.1 0.1 12.2 0.1 39.9 0.1-19.3 0.2 5.1 0.1 7.1 0.1-10.3 0.1 10.1 0.1-4.8 0.1-1.2 0.1-1.5 0.1-16.6 0.1 14.4 0.1 0.6 0.1-2.2 0.1 41.3 0.1 7.4 0.1-33.6 0.1-0.8 0.1 24.5 0.1-45.8 0.1-18.3 0.1 39.5 0.1 19.7 0.1-20.6 0.2-6 0.1 32.5 0.1-21.6 0.1 50.7 0.1-52.2 0.1-1.5 0.1-23.8 0.1 19.1 0.1 2.7 0.1-12.1 0.1 12 0.1-5.6 0.1 18.3 0.1 12.3 0.1 7.7 0.1-28.7 0.1-8 0.1 13.1 0.1 11.4 0.1-1.6 0.1-21.3 0.1 11.7 0.2-13.9 0.1 23.7 0.1-8.7 0.1-20.8 0.1 48.5 0.1 2.3 0.1-26 0.1-8.3 0.1 0.4 0.1 16.7 0.1-1.9 0.1 13.6 0.1-21.7 0.1 3 0.1 22.4 0.1-32.4 0.1 3 0.1 2.2 0.1-37.5 0.1 2.4 0.1-7 0.2 0.2 0.1 32.9 0.1 8.5 0.1-7.9 0.1 8.6 0.1 49.5 0.1-11.3 0.1-4.8 0.1-47.5 0.1 41.1 0.1-30.8 0.1-23.2 0.1 10.6 0.1-1.8 0.1-6.1 0.1-20.4 0.1 48.4 0.1-28.1 0.1 15.8 0.1-12.8 0.1 23.5 0.2-17.7 0.1 4.6 0.1-19.1 0.1 4 0.1 17.6 0.1 19.3 0.1-9.5 0.1-22.7 0.1 8.7 0.1 5.4 0.1-15.7 0.1 13.7 0.1 46 0.1-46 0.1 22.9 0.1-23.3 0.1-6.4 0.1-22.6 0.1 18.1 0.1-32.3 0.1-11.1 0.2 39.1 0.1 20.6 0.1 3.2 0.1 2.2 0.1-38.6 0.1 21.1 0.1 17 0.1-7.7 0.1-10.5 0.1 25 0.1-8.8 0.1 6.8 0.1-1.1 0.1 4.6 0.1 1.4 0.1-3.2 0.1 8.5 0.1-21.6 0.1 32 0.1-10 0.1-33.5 0.2 41.3 0.1-36.5 0.1 23.8 0.1-6.5 0.1-19.6 0.1 28.3 0.1 20 0.1-38.3 0.1 11.3 0.1 0 0.1-29.4 0.1 30.8 0.1-35.6 0.1-3.2 0.1 17.4 0.1 3.6 0.1-39.4 0.1 37.1 0.1 18.8 0.1 2.3 0.1 9.3 0.1-18.2 0.2 19.2 0.1-59.1 0.1 35.3 0.1 13.7 0.1-7.2 0.1-15 0.1-10.1 0.1 20.8 0.1-21.3 0.1 12 0.1-40.6 0.1 12.9 0.1 20.5 0.1 2.7 0.1-13.7 0.1 45.9 0.1 1.1 0.1-12.2 0.1-21.4 0.1 36.6 0.1-15.1 0.2-2.8 0.1-16.7 0.1 18.4 0.1 14.9 0.1 3.3 0.1-1.7 0.1-7.8 0.1-13.9 0.1-36 0.1 57.9 0.1 6.9 0.1-38.7 0.1 26.8 0.1-26.9 0.1-13.1 0.1 20.1 0.1-17.6 0.1 14.9 0.1 15.2 0.1-0.3 0.1-0.2 0.2-30 0.1 65.5 0.1-42.4 0.1-11.5 0.1 32.7 0.1-43.7 0.1 27.4 0.1-0.3 0.1-11.7 0.1 7.1 0.1 21.2 0.1-49.1 0.1 5.3 0.1 27.1 0.1 5.5 0.1 15.9 0.1-54.9 0.1 42.8 0.1-40.2 0.1 33.4 0.1-10.9 0.2-45.5 0.1 33.4 0.1-3.4 0.1-0.2 0.1-13 0.1-0.1 0.1 5.7 0.1 12.1 0.1-33.6 0.1 54.8 0.1-8.3 0.1-15.2 0.1 5.8 0.1-7.9 0.1 15.2 0.1-0.1 0.1-2.5 0.1 30.1 0.1-72.1 0.1 32.9 0.1 15.6 0.2 14.4 0.1-22.6 0.1 1.6 0.1-13.9 0.1-11.1 0.1 15.1 0.1 17.4 0.1-17.9 0.1 47.1 0.1 7.5 0.1-39.6 0.1-12.2 0.1 7.4 0.1-21 0.1 13.9 0.1-12.8 0.1 6.5 0.1-21.8 0.1 40.3 0.1-18.7 0.1 24.2 0.1-13.3 0.2 49.9 0.1-14.7 0.1-33.3 0.1 15.5 0.1 18.8 0.1-56.4 0.1 1.1 0.1 47.3 0.1 24 0.1-21.8 0.1-12.4 0.1 9.5 0.1 0.2 0.1-0.9 0.1-66 0.1 20.8 0.1 39.5 0.1-9.2 0.1 12.8 0.1 6.7 0.1-44.1 0.2 15.2 0.1 8.1 0.1-2.6 0.1 5 0.1-11.7 0.1 8.3 0.1-48.6 0.1 20.5 0.1 37.4 0.1-13.2 0.1-22.9 0.1 26.1 0.1 2.1 0.1 22.2 0.1 9 0.1 4.2 0.1-5.4 0.1-17.3 0.1-12.4 0.1-56.7 0.1 35.1 0.2 21 0.1 10 0.1-37.4 0.1-25.2 0.1 26.5 0.1 43.7 0.1-42 0.1 16 0.1 9.1 0.1-21.3 0.1 31.4 0.1 2.1 0.1-1.7 0.1 59.6 0.1-81.4 0.1 30.4 0.1-50.4 0.1-21.1 0.1 58.1 0.1-14.4 0.1-16.1 0.2 28.8 0.1 5.9 0.1-63.8 0.1 29.9 0.1-18.9 0.1 41 0.1-1.7 0.1-1.5 0.1-35.1 0.1 16.4 0.1 0 0.1 16.2 0.1 3.5 0.1-10 0.1 47.2 0.1-49.3 0.1 16 0.1 21.5 0.1 11.2 0.1-21.1 0.1 2.1 0.2 20.2 0.1-12.5 0.1-41.4 0.1 29.3 0.1 35.4 0.1-6.7 0.1-37.5 0.1-6.3 0.1-1.7 0.1-0.6 0.1-6.7 0.1-3.2 0.1 25.3 0.1-26.3 0.1-2.3 0.1 10 0.1-27.8 0.1 33 0.1 21.5 0.1-21.5 0.1 42.4 0.1-15.3 0.2 21.6 0.1-54.8 0.1 28.5 0.1-51.6 0.1 15.4 0.1-26.4 0.1 22.5 0.1 25 0.1-2.3 0.1-6.1 0.1-32.8 0.1 48.1 0.1-45.4 0.1 57.9 0.1-26.1 0.1-56.6 0.1 16.3 0.1 32.3 0.1-15.8 0.1-8.6 0.1 47.5 0.2-38.2 0.1 10.1 0.1 17.6 0.1-14.2 0.1 7.3 0.1-11.7 0.1 5.3 0.1 32.2 0.1-36.3 0.1-6.3 0.1 11 0.1-43.9 0.1 72.1 0.1 18.6 0.1-54.5 0.1 39.2 0.1-23.2 0.1 11.7 0.1-33.1 0.1 6.5 0.1-52.6 0.2 86.4 0.1-44 0.1 7.6 0.1 40.3 0.1-36.8 0.1-17.4 0.1 35.6 0.1-11.9 0.1-12.5 0.1 20.1 0.1-42.5 0.1 24.9 0.1 32.4 0.1-2.1 0.1-46.6 0.1 13.1 0.1 6.1 0.1-17.6 0.1 39.7 0.1-18 0.1-17 0.2-41.2 0.1 45.4 0.1 39.9 0.1-42.2 0.1 23.5 0.1 11.4 0.1-7.9 0.1 9.1 0.1-5.6 0.1 12.2 0.1 17.4 0.1 20.3 0.1-55.2 0.1 16.7 0.1-17.7 0.1 14.2 0.1 9.3 0.1 0.3 0.1-40.6 0.1-21.6 0.1 62.2 0.2-50.3 0.1 18.5 0.1 0.7 0.1-13.6 0.1 50.2 0.1-2.5 0.1 10.3 0.1-87.5 0.1 70.6 0.1-29.8 0.1 35.4 0.1-67.4 0.1 42.6 0.1 66.3 0.1-43.7 0.1-4.6 0.1-5.1 0.1 21.4 0.1-51.2 0.1 28.9 0.1-0.4 0.1 30.9 0.2-41.4 0.1 9.8 0.1 11.6 0.1-4.6 0.1 19.4 0.1-33.9 0.1 8.6 0.1-10.4 0.1 6.7 0.1-6.2 0.1-20.2 0.1 8 0.1 12.2 0.1-26.9 0.1 50.3 0.1-15.2 0.1-1.6 0.1 11.2 0.1-59.8 0.1 55.9 0.1-13.2 0.2 22.3 0.1-44 0.1 51.6 0.1-55.8 0.1 30.8 0.1-16.8 0.1 11.5 0.1-28 0.1-18 0.1 85.4 0.1-43.9 0.1 24.7 0.1-33.8 0.1-5.2 0.1 28.2 0.1-35.5 0.1 10.3 0.1 4.6 0.1 30.6 0.1-8.7 0.1-36.8 0.2 47.1 0.1-28.4 0.1 4.4 0.1 13.7 0.1-29.5 0.1-5.1 0.1 22.2 0.1-15.1 0.1-1.7 0.1-10.2 0.1 23.3 0.1-30.3 0.1 29.7 0.1-0.7 0.1 42.4 0.1 6.3 0.1-53.1 0.1 21.3 0.1 21.8 0.1-29.3 0.1-31.1 0.2 52.3 0.1-24.8 0.1 51.5 0.1-47.1 0.1-27.9 0.1 17.2 0.1-19.3 0.1 7.6 0.1 47 0.1-28.6 0.1 41.8 0.1-43.3 0.1-29.3 0.1 2.5 0.1 24.1 0.1 25.9 0.1-30.9 0.1 22.7 0.1-33.5 0.1 26.8 0.1 13 0.2-23.5 0.1 9.7 0.1-9.4 0.1 53.6 0.1-7.9 0.1-26.8 0.1 2.3 0.1-25.4 0.1 17.9 0.1-5.9 0.1 7.1 0.1-9.3 0.1 16.8 0.1-24.9 0.1 2.1 0.1-7.1 0.1 11 0.1 38.5 0.1 27.5 0.1-56.7 0.1-10.2 0.1 37.5 0.2-34.6 0.1-45.7 0.1 24.9 0.1-1.1 0.1-5.1 0.1-2.5 0.1 33.4 0.1-13.4 0.1-4.6 0.1 6.7 0.1-12.5 0.1-3.6 0.1 35.5 0.1-9.9 0.1-17.2 0.1 22.9 0.1-61.7 0.1 42.2 0.1 7.8 0.1 35.6 0.1 15.3 0.2-36.3 0.1-36.2 0.1-27.2 0.1 48 0.1 31.2 0.1-30.9 0.1 11.2 0.1-18.7 0.1-23.9 0.1 53 0.1 0.2 0.1 17.5 0.1-8 0.1-20.5 0.1-9.9 0.1-7.8 0.1 10.3 0.1 2.1 0.1 12.6 0.1-15.5 0.1-34.2 0.2 3.9 0.1 9.5 0.1 29.4 0.1-58 0.1 30.7 0.1 37.8 0.1-13.5 0.1-3.4 0.1 13.8 0.1-12 0.1 26.6 0.1-28.4 0.1 27.9 0.1-26.1 0.1 20.6 0.1-25.8 0.1 35.4 0.1-14.7 0.1 15.7 0.1-36.1 0.1-8.4 0.2-18.2 0.1 28.7 0.1-0.1 0.1-5.2 0.1-29.4 0.1 17 0.1 5.5 0.1 43.9 0.1-46.2 0.1 4.4 0.1 3.4 0.1-21.5 0.1 35.3 0.1 17.1 0.1-34.6 0.1-28.5 0.1 47.3 0.1-22.4 0.1 11.6 0.1-14.4 0.1 35.2 0.2-30.6 0.1-27.9 0.1 8 0.1 34.6 0.1-8.5 0.1 16.1 0.1 21 0.1-22.7 0.1-1.2 0.1 0.2 0.1-3.7 0.1 13.1 0.1-12.2 0.1 16 0.1-30.8 0.1-33.7 0.1 31.6 0.1 1.9 0.1 0.6 0.1 11.4 0.1 15.6 0.1 33.7 0.2-23.9 0.1-6.5 0.1-15.9 0.1-11.7 0.1-18.2 0.1 49 0.1-5.5 0.1-20.4 0.1 32.7 0.1-36.6 0.1 2.1 0.1-11.9 0.1-17 0.1 68.6 0.1-66 0.1-4.1 0.1 4.8 0.1 34.3 0.1-2.7 0.1 10 0.1-23.7 0.2 10.8 0.1-7.3 0.1-2.4 0.1-23.4 0.1 20.4 0.1-50.2 0.1 95.5 0.1-35.1 0.1-22.6 0.1-7.9 0.1 70.8 0.1-20.9 0.1-0.4 0.1-49.6 0.1 32.9 0.1 7.7 0.1-5.6 0.1 1.2 0.1-42.8 0.1 72.3 0.1-36.2 0.2-8 0.1 3.5 0.1 5.7 0.1 1.8 0.1-8.5 0.1 37.8 0.1 4.4 0.1-37.3 0.1 10.1 0.1-10 0.1 6.6 0.1 3 0.1 20.5 0.1-22.1 0.1-4.2 0.1 36.6 0.1-33.1 0.1-6.3 0.1-4.2 0.1 25.6 0.1-40 0.2 11.5 0.1 3.3 0.1-15.1 0.1-7.6 0.1 50.7 0.1-0.3 0.1-27.2 0.1 2.6 0.1 24.2 0.1-30.2 0.1-36.4 0.1 41.3 0.1-31.3 0.1 14.4 0.1-9.5 0.1 13.4 0.1 13.5 0.1 10.3 0.1-16 0.1-4.2 0.1 14.1 0.2 10.3 0.1-32.7 0.1 44.7 0.1-38.3 0.1-12.8 0.1 44.5 0.1 1 0.1-58 0.1 44.7 0.1-47 0.1 6.1 0.1 15.9 0.1 8 0.1-0.3 0.1 44.2 0.1-5.7 0.1-31 0.1 25.3 0.1 7.5 0.1-37.4 0.1 14.7 0.1 15.4 0.2-7.6 0.1 8.2 0.1 18.4 0.1-38.6 0.1-27.6 0.1 6.7 0.1 20.4 0.1-36.6 0.1 45.1 0.1-37.8 0.1 31.7 0.1 6.5 0.1 8 0.1-26 0.1-14.1 0.1 17.1 0.1 5 0.1-16.5 0.1 23.7 0.1 4.1 0.1 13.7 0.2 22.5 0.1-36.6 0.1-5.4 0.1 0.9 0.1 7.1 0.1 10.5 0.1-45.6 0.1 51.1 0.1-25 0.1 10.1 0.1-38.5 0.1 5.3 0.1 85.5 0.1-56.8 0.1-20.9 0.1-13.5 0.1-18.5 0.1 62.6 0.1-36.7 0.1-16.6 0.1 27 0.2 31.9 0.1-74.3 0.1 60.8 0.1-30.6 0.1 34.9 0.1-28.8 0.1-7.4 0.1 65.9 0.1-33.5 0.1 5.4 0.1-16.3 0.1 33.2 0.1-32.1 0.1-11.2 0.1 2.5 0.1 4.6 0.1-23.5 0.1 24.7 0.1 36.4 0.1 8.3 0.1-64.3 0.2 28.5 0.1-21.6 0.1-16.8 0.1 60.3 0.1-19.6 0.1 1 0.1-20.7 0.1 24.8 0.1 1.6 0.1-13.3 0.1 5.9 0.1-12.9 0.1 32.3 0.1-23.8 0.1 38.5 0.1-23.7 0.1 3.5 0.1-32.3 0.1 19.2 0.1-27.4 0.1 48.7 0.2-14.6 0.1-5.6 0.1-8.1 0.1 7.9 0.1 22.2 0.1-23 0.1-1.2 0.1-3.8 0.1 13.8 0.1-5.3 0.1-15.8 0.1 0.6 0.1 6.4 0.1 14.3 0.1-4.4 0.1 3.7 0.1-10.8 0.1 18.6 0.1-42.9 0.1 24.5 0.1 0.5 0.1-22 0.2 12.3 0.1-17.4 0.1 43.9 0.1-30.9 0.1 38.1 0.1-61.2 0.1 80.2 0.1-12.7 0.1-37.4 0.1-4.1 0.1-29.1 0.1 7.4 0.1 15.1 0.1-34.7 0.1 53.1 0.1 21.9 0.1 1.5 0.1 11 0.1-30.6 0.1-6.7 0.1-4.9 0.2-21.1 0.1 67.1 0.1-33.4 0.1-21.3 0.1 5.1 0.1-8.4 0.1 44.1 0.1 1.6 0.1-6.3 0.1-73 0.1 54.5 0.1-0.3 0.1-6.7 0.1-0.8 0.1-4.2 0.1-0.7 0.1 31.2 0.1 10.6 0.1-2.6 0.1-49.9 0.1 26 0.2-7.3 0.1 14.8 0.1-36.2 0.1 32.6 0.1-51.4 0.1 31.2 0.1 4 0.1 2.1 0.1-0.4 0.1 50.9 0.1-22.6 0.1-12.5 0.1 35.1 0.1-25.3 0.1-32.2 0.1-2.3 0.1 29.8 0.1-32.4 0.1 37.8 0.1-46.1 0.1 13.3 0.2-20 0.1 32.5 0.1-5.1 0.1 7.2 0.1 23.2 0.1-74.4 0.1 26.4 0.1 67.3 0.1-47.7 0.1-1.5 0.1 11.9 0.1-48.6 0.1 36.3 0.1 7.6 0.1-18.6 0.1 28.1 0.1 6.1 0.1-10 0.1 30.5 0.1-43.1 0.1-24.8 0.2 53.8 0.1-48.7 0.1 33.6 0.1-10 0.1-42.4 0.1 35.2 0.1 14.2 0.1-29.2 0.1-1 0.1 0.8 0.1-4.8 0.1 11.9 0.1 0.3 0.1-27.7 0.1 29.7 0.1 78.9 0.1-76.5 0.1-7.2 0.1-8.9 0.1 6.1 0.1 25.8 0.1-29.9 0.2 38.7 0.1 15.6 0.1-12.5 0.1 3.7 0.1-26.1 0.1-1.9 0.1-12.9 0.1 45 0.1-22.7 0.1-18.7 0.1 22.6 0.1-47.2 0.1 28.4 0.1 42.1 0.1-29.2 0.1-1 0.1-28.9 0.1 30.9 0.1-25.1 0.1-1.1 0.1 3 0.2 10.5 0.1 42 0.1-13.4 0.1-33.2 0.1 21.9 0.1 13.2 0.1-16.8 0.1-3.5 0.1-5.8 0.1 4.9 0.1-11.6 0.1-10.8 0.1 8.3 0.1-14.9 0.1 5.2 0.1 40.7 0.1-19.2 0.1-10.7 0.1 50.2 0.1-52.4 0.1 9.4 0.2 14.5 0.1-47.8 0.1-19.2 0.1 49.8 0.1-20.7 0.1-10.5 0.1 53.3 0.1-17.3 0.1-8.5 0.1-26.6 0.1 20 0.1 31.1 0.1-47.2 0.1 28 0.1 28.5 0.1-22.5 0.1-16.8 0.1-1.2 0.1 26.8 0.1 24.5 0.1-22.5 0.2-13.7 0.1 5.5 0.1-16.4 0.1 16.6 0.1-23.2 0.1 42.3 0.1-21.8 0.1 27.9 0.1-17.7 0.1 12.2 0.1-29 0.1 24.6 0.1-31.8 0.1 41.7 0.1-23.8 0.1-29.6 0.1 24.1 0.1 19.5 0.1-0.7 0.1-51.4 0.1 34.6 0.2-29.5 0.1 22.1 0.1 17 0.1-20.5 0.1-26.9 0.1 76.9 0.1-10.3 0.1-47.8 0.1 17.4 0.1 38.8 0.1-67.6 0.1-5.9 0.1 72.2 0.1-23 0.1 32.7 0.1-32.8 0.1-26.5 0.1 35.7 0.1-28.5 0.1-9.6 0.1 9.8 0.1 18.7 0.2-4.9 0.1 5.7 0.1-22.4 0.1-9.1 0.1 4 0.1 6.5 0.1 26 0.1-8.5 0.1-23.6 0.1 26.2 0.1-31.8 0.1 61.2 0.1-43.9 0.1 44.7 0.1-1 0.1-42.8 0.1 11.4 0.1-29.2 0.1-11 0.1 47.4 0.1-24.5 0.2-6.6 0.1 1.1 0.1 10.5 0.1 4.9 0.1-0.8 0.1 17.4 0.1-35 0.1 30.7 0.1-0.5 0.1-43.6 0.1-23.7 0.1 45 0.1 12 0.1 19.5 0.1-22.6 0.1 17.9 0.1-54.1 0.1 30.4 0.1 16.9 0.1-48.4 0.1 23.4 0.2 22.5 0.1-26 0.1 29.3 0.1-8.4 0.1-58.9 0.1 47.3 0.1 22.8 0.1-11.2 0.1-20.6 0.1 36.7 0.1-16.9 0.1-45.9 0.1 44.4 0.1-1.6 0.1-24.5 0.1 32.6 0.1-14.2 0.1 18.2 0.1-8.1 0.1 0.3 0.1-11.9 0.2-20.4 0.1-24.2 0.1 15.9 0.1 62.5 0.1-28.1 0.1-20.4 0.1 17.2 0.1-16.6 0.1 35.9 0.1 5.7 0.1-63.9 0.1 39.3 0.1 17.7 0.1-27.6 0.1-1.4 0.1 38.1 0.1-33.1 0.1-13.9 0.1 33 0.1 0.6 0.1-34.4 0.2 13.3 0.1 7.7 0.1-16.4 0.1-5.7 0.1 36 0.1-3.1 0.1 15.9 0.1 7.7 0.1-49 0.1-5.9 0.1 36.6 0.1 2.8 0.1-7.6 0.1-20.8 0.1 22.5 0.1-35.5 0.1 19.1 0.1-9 0.1 28.2 0.1-33.9 0.1 47.4 0.1-59.1 0.2 49.3 0.1-10.9 0.1-43.3 0.1-0.9 0.1-5 0.1 34.4 0.1-16.8 0.1 6.2 0.1 18.7 0.1-17.7 0.1-7.4 0.1 2.6 0.1 34.7 0.1-17.5 0.1-39.2 0.1 31.8 0.1-3.6 0.1-12.9 0.1 48.5 0.1-8.9 0.1 9.3 0.2 8.1 0.1 7.5 0.1-11.3 0.1 21.2 0.1-40 0.1 17.9 0.1-15.1 0.1-16.4 0.1 33.7 0.1-28.5 0.1 36.7 0.1-18.4 0.1-6.5 0.1 14.9 0.1-32.9 0.1-24.3 0.1 47.7 0.1-17.2 0.1 9.9 0.1-7.2 0.1 3 0.2 8.6 0.1-1.9 0.1-30.8 0.1 28.8 0.1 36.6 0.1-62.3 0.1 13.1 0.1-19 0.1 37.2 0.1-29.4 0.1 11.9 0.1 61.6 0.1-58.5 0.1-26.8 0.1 45.3 0.1-21.6 0.1 5.3 0.1-39.8 0.1 46.1 0.1 24.2 0.1-30.5 0.2-12.9 0.1 36.4 0.1-36.5 0.1-5 0.1-27.6 0.1 53.4 0.1-16.1 0.1-31.1 0.1 31.2 0.1 27.9 0.1-1.7 0.1-17.4 0.1 29.4 0.1-69.3 0.1 14.7 0.1 32.4 0.1 2 0.1-36.5 0.1 27 0.1 18.4 0.1 8.6 0.2 16.2 0.1-21.8 0.1-3.2 0.1-6.2 0.1-22.5 0.1 13.3 0.1 4.5 0.1-37.2 0.1 23.8 0.1 28.2 0.1-31.4 0.1 2.9 0.1-5.2 0.1 24.9 0.1-40 0.1 23.2 0.1-10.8 0.1 42.6 0.1 1 0.1-40.4 0.1 38.1 0.1-27.8 0.2-19.1 0.1 48.7 0.1-30.4 0.1 11.7 0.1-42 0.1 29.5 0.1 13.7 0.1-41.8 0.1-0.5 0.1 13.7 0.1 27.6 0.1-18.3 0.1 24.4 0.1-20 0.1-11.2 0.1-14.5 0.1 38.1 0.1-11.7 0.1 12 0.1-23.7 0.1-3.3 0.2 3.9 0.1-10 0.1 9.7 0.1-21.1 0.1 36.8 0.1-27.2 0.1-14.2 0.1 14.5 0.1-1.2 0.1-5.3 0.1 28.1 0.1-3.2 0.1-2.1 0.1 29.1 0.1-61.4 0.1 26.7 0.1 17.5 0.1-14.2 0.1-33.4 0.1 56.6 0.1-24.6 0.2 15.6 0.1-25.5 0.1 8.6 0.1 30.2 0.1-7.4 0.1-27.1 0.1-16.1 0.1-17.7 0.1 36.2 0.1 22.3 0.1-58.8 0.1 29.7 0.1 10.6 0.1 14.8 0.1-28.6 0.1 14.8 0.1 6.4 0.1 17.2 0.1-41.3 0.1 77.3 0.1-18 0.2-25.1 0.1-8.8 0.1-19.3 0.1 5.8 0.1-24.5 0.1-6.5 0.1 2.4 0.1 25.4 0.1 13.6 0.1 24.6 0.1-63.4 0.1 39 0.1 20.5 0.1 26.9 0.1-3.5 0.1-27.4 0.1-33.2 0.1-6.2 0.1 26 0.1-12 0.1 35.2 0.2-52.3 0.1-29.6 0.1 31.8 0.1 39.8 0.1-37.4 0.1 14.2 0.1-2.3 0.1 23.4 0.1-34.7 0.1 33.4 0.1-54.6 0.1 11.3 0.1 2.9 0.1 23.8 0.1-5.2 0.1-3.6 0.1 7.2 0.1-18 0.1 35.5 0.1-10.7 0.1 20.5 0.1 6.8 0.2-36.3 0.1 8.4 0.1 33.8 0.1-54.6 0.1 30.5 0.1-23.9 0.1-12.5 0.1-16.2 0.1 44.7 0.1 34.5 0.1-11.2 0.1-16.9 0.1-30.6 0.1-4.7 0.1-8.5 0.1 8.5 0.1 44.9 0.1-6.5 0.1-12.7 0.1-12.3 0.1-1.2 0.2-5.3 0.1 24.6 0.1-8.9 0.1-20.4 0.1-4.9 0.1 8.3 0.1 22.7 0.1 8.3 0.1 27.6 0.1-43 0.1 17.9 0.1 17.3 0.1-42.4 0.1 20.7 0.1-9.5 0.1 16.1 0.1 13.5 0.1-35.5 0.1-25.3 0.1 59.9 0.1 16.7 0.2-24.1 0.1 0.8 0.1-56.6 0.1 14.5 0.1-10.5 0.1 20.9 0.1 28.3 0.1-14.4 0.1-58.1 0.1 71.3 0.1 33.9 0.1 20.6 0.1-29.2 0.1-54.9 0.1 30.1 0.1-7.4 0.1 4.3 0.1-33.5 0.1 55.7 0.1-43.6 0.1-8.5 0.2-2.7 0.1-4.7 0.1 41.2 0.1-17.5 0.1 25.8 0.1-34.9 0.1 3.7 0.1 28.5 0.1-20.8 0.1 38.6 0.1-47.4 0.1 7.2 0.1-1.4 0.1-28.1 0.1 20.7 0.1-15.9 0.1 34.9 0.1-7 0.1-21.7 0.1 32.9 0.1-17.6 0.2-9.8 0.1-10.9 0.1 13.3 0.1 35.9 0.1-38.5 0.1-4.3 0.1 43.1 0.1-37.1 0.1 22.8 0.1-54.6 0.1 26 0.1 18.2 0.1 1.6 0.1-22.9 0.1 3.5 0.1-9.7 0.1-11.8 0.1 33.5 0.1-28.4 0.1 0.5 0.1 27.4 0.1-1 0.2 5 0.1 7.8 0.1 10.5 0.1 12.7 0.1-32.8 0.1 1.4 0.1 20.2 0.1-17.1 0.1 14.9 0.1 30.4 0.1-37 0.1-24.8 0.1 15.7 0.1-6.9 0.1 8.4 0.1 19.3 0.1-7.5 0.1-25.9 0.1 2.4 0.1 35.5 0.1-26.8 0.2 16.1 0.1 2.3 0.1 35.9 0.1-27.3 0.1-62.5 0.1-1.7 0.1 45.2 0.1-16.9 0.1 13.8 0.1 7.4 0.1 36.2 0.1-51.9 0.1 42.2 0.1-51.7 0.1-14 0.1 43 0.1-6.3 0.1-34.6 0.1 41.9 0.1-51.3 0.1 55.1 0.2-36.5 0.1 13.9 0.1-10.1 0.1 32.5 0.1-31.5 0.1 8.4 0.1-11.9 0.1-50.8 0.1 32.8 0.1 25.3 0.1 18.1 0.1-27.1 0.1 3.8 0.1-14 0.1 35.7 0.1 27.8 0.1-26.3 0.1-22.3 0.1 16.8 0.1 2.7 0.1 18.7 0.2-6.4 0.1-27.4 0.1 1 0.1-9.9 0.1 8.1 0.1 25.2 0.1-37.9 0.1-11 0.1 25.3 0.1-12 0.1 59.9 0.1-34.7 0.1-11.3 0.1 4.7 0.1 1.7 0.1-14.1 0.1 6.9 0.1 42.1 0.1 8.8 0.1-8.7 0.1-23.4 0.2 12.1 0.1-12.8 0.1 58.5 0.1-55.7 0.1-16.4 0.1 16.7 0.1 10.8 0.1-16.8 0.1-21.5 0.1 5.8 0.1 33.4 0.1-7.9 0.1-7.7 0.1 1 0.1-26.3 0.1 27.9 0.1 7.9 0.1-16.1 0.1-5.5 0.1 18 0.1-35.9 0.1 33.5 0.2-33.6 0.1 13.5 0.1-4.5 0.1-9 0.1 28.5 0.1-20.9 0.1 24.3 0.1-14.8 0.1-13.4 0.1 1.8 0.1 30.5 0.1 11.4 0.1-27.4 0.1 5.1 0.1 17.7 0.1-24.3 0.1-26.2 0.1-9.7 0.1 13.2 0.1 14 0.1 11.3 0.2 7.3 0.1 9.8 0.1-24 0.1 12.2 0.1 3.9 0.1-20.9 0.1-4.9 0.1-2.3 0.1 13.3 0.1-45.1 0.1 69.5 0.1-24.7 0.1-24.9 0.1 59.5 0.1-47.4 0.1-30.4 0.1 68.4 0.1-22.8 0.1-17.4 0.1-1.1 0.1 25.2 0.2-5.5 0.1 24.7 0.1-23 0.1 5.2 0.1 27.6 0.1-34.9 0.1 0.1 0.1-38.5 0.1 40.4 0.1-6.3 0.1-5.6 0.1 9.3 0.1 8 0.1-30.1 0.1 9.3 0.1 10.7 0.1-3.5 0.1-29.2 0.1 31.8 0.1-29.5 0.1 6.1 0.2 1.9 0.1 41.5 0.1-19.7 0.1 39.8 0.1-24.2 0.1-7.5 0.1-10.2 0.1 11.1 0.1 11.6 0.1 14 0.1-31.8 0.1-7.4 0.1 17.6 0.1-13.8 0.1 9.8 0.1-3.5 0.1 16.2 0.1-33.9 0.1-4.3 0.1 15.3 0.1-9.2 0.2 20.8 0.1 46.9 0.1-19.2 0.1-38.1 0.1-29.7 0.1 49.2 0.1-19.5 0.1 0.3 0.1-31.8 0.1 60.9 0.1-28.9 0.1 17.7 0.1-16.5 0.1-20.9 0.1 44.7 0.1-39.3 0.1 11.5 0.1-37 0.1 23.1 0.1 2.8 0.1 10.8 0.1 12.7 0.2-15.6 0.1 20.8 0.1 9 0.1-52.7 0.1 11.3 0.1 11.6 0.1 12.3 0.1 1.6 0.1 6.1 0.1-43.8 0.1 6.1 0.1 7.9 0.1 5.2 0.1 26.5 0.1-3.3 0.1 25.9 0.1-56.1 0.1 35.3 0.1-9.3 0.1-15.4 0.1-17.2 0.2 21.5 0.1 24.9 0.1-9.2 0.1-28.9 0.1-2.6 0.1 7 0.1 21.5 0.1-18.5 0.1 16.3 0.1 12.7 0.1-17.9 0.1-15 0.1 4.8 0.1 11 0.1-37.4 0.1 30.1 0.1-5.4 0.1-10.7 0.1 32 0.1-5.8 0.1-23.4 0.2 43.9 0.1-48.8 0.1 11.9 0.1 14.5 0.1-16.7 0.1 18 0.1-26 0.1 23 0.1-20.4 0.1 8.4 0.1 7.6 0.1-21.6 0.1 10.1 0.1 9.7 0.1 16.3 0.1-19 0.1 7.2 0.1-8.7 0.1-9.6 0.1-6.2 0.1 12.7 0.2-13.4 0.1 13.6 0.1 34.6 0.1-47.8 0.1 19.4 0.1 22 0.1-27.5 0.1 10.3 0.1 47.9 0.1-23.3 0.1 0.8 0.1-40 0.1 1.5 0.1-14.7 0.1 50.6 0.1-54.9 0.1 67.5 0.1-24 0.1-7.4 0.1-8.2 0.1-9 0.2 29.8 0.1-37 0.1-7.7 0.1 44 0.1 5.8 0.1-3.8 0.1 6.9 0.1-55.4 0.1 45.1 0.1-57.5 0.1 42.2 0.1-2.7 0.1-9.1 0.1 46.1 0.1-35.8 0.1 18.5 0.1-13.1 0.1 12.4 0.1-47.2 0.1 31.1 0.1 6.7 0.1-34.2 0.2 13.3 0.1 32.9 0.1 32.5 0.1-18.9 0.1-27.6 0.1 22.8 0.1-31.5 0.1-14.9 0.1-23 0.1 18.8 0.1 34.4 0.1-11.9 0.1 11.1 0.1-7.3 0.1-25 0.1 26.4 0.1-1 0.1 21 0.1-8.7 0.1-15.9 0.1-27.1 0.2 36 0.1 5.9 0.1 0.6 0.1 18.8 0.1-47 0.1 20.6 0.1-3.9 0.1 2.5 0.1 14.9 0.1-19.4 0.1-9.7 0.1 31.4 0.1-31 0.1-2.3 0.1 10 0.1 9.8 0.1-23.5 0.1 16.9 0.1-19.9 0.1 54.5 0.1-18.2 0.2-46.3 0.1 54.8 0.1-64.3 0.1 17 0.1-12.5 0.1-16.2 0.1 20.4 0.1 38.8 0.1-2.4 0.1-19.1 0.1 20.1 0.1-14.4 0.1 42 0.1-28.6 0.1 12.3 0.1-13.9 0.1 0.8 0.1-0.1 0.1-2.9 0.1-59.4 0.1 53.3 0.2-8.5 0.1-8.7 0.1 4.3 0.1-6.6 0.1 8.5 0.1 6.4 0.1-5.4 0.1-3.9 0.1 19.1 0.1 18.8 0.1-50.6 0.1 40.3 0.1 20.7 0.1-56.6 0.1 31.7 0.1-19.1 0.1-8 0.1 25.8 0.1 11.7 0.1-29.8 0.1 19.4 0.2 10.9 0.1-34.5 0.1 30.3 0.1-38.2 0.1 45.2 0.1-2.9 0.1-7.6 0.1-4.1 0.1-8.3 0.1 6.2 0.1-20.5 0.1 3.6 0.1-1 0.1 1.7 0.1 23.1 0.1-15.6 0.1 13.1 0.1-8.6 0.1-18.7 0.1-3.5 0.1-1.4 0.1 46 0.2-19.8 0.1-27.8 0.1-2.8 0.1 5.3 0.1 22.7 0.1-6.5 0.1-8.2 0.1 28.2 0.1-15.2 0.1-20.7 0.1-25.9 0.1 37.1 0.1-1.2 0.1-5.3 0.1 13.4 0.1-33.7 0.1 57.1 0.1-44.6 0.1-2.6 0.1 19.9 0.1 13.7 0.2-29.6 0.1 0.2 0.1 9.1 0.1 16.3 0.1 12.9 0.1-22.3 0.1-36.5 0.1 54.3 0.1-11.7 0.1-10.9 0.1-9.2 0.1 1.2 0.1 4 0.1-20.6 0.1 12.6 0.1 4.4 0.1-8.4 0.1 0.7 0.1-5 0.1-3.5 0.1 21.4 0.2-6.3 0.1-26.4 0.1 13.5 0.1 1.5 0.1 17.9 0.1 18 0.1-36.6 0.1 7.9 0.1 5.1 0.1 6.3 0.1-5.3 0.1-2.4 0.1 40.8 0.1-8.3 0.1-23.3 0.1-42.6 0.1 42.4 0.1-9.2 0.1-13.4 0.1 6 0.1 24.5 0.2-2.4 0.1 2.5 0.1 14.4 0.1-20.1 0.1-23.1 0.1 54.2 0.1-37.4 0.1-8.4 0.1 8 0.1-30.5 0.1 27.8 0.1 13.7 0.1-4.4 0.1-27.9 0.1 25 0.1-24.6 0.1 6.1 0.1 52.7 0.1-17.1 0.1 3.5 0.1-23.7 0.2-16.6 0.1-13.9 0.1-6.7 0.1 53.3 0.1-46.1 0.1 53.1 0.1-19.5 0.1-0.5 0.1-9.1 0.1-5 0.1 45 0.1-49.6 0.1 28.3 0.1-11.3 0.1 25 0.1-13.9 0.1 21.6 0.1-14.1 0.1-6.9 0.1 0 0.1-4.1 0.1-13.4 0.2 17 0.1 6.6 0.1-1.6 0.1 12.6 0.1-19.9 0.1-3.9 0.1 7.7 0.1 15.2 0.1-45.4 0.1 38.9 0.1 6.9 0.1-13.8 0.1 19.5 0.1 6.2 0.1-16.6 0.1 1.4 0.1 6.8 0.1-27.4 0.1 1.8 0.1 4 0.1-49.6 0.2 57.4 0.1-27.4 0.1 27.7 0.1 16 0.1 18.5 0.1-36.8 0.1-7.6 0.1 10.9 0.1-5.3 0.1 5.2 0.1 5 0.1-3.7 0.1 13.9 0.1-21.7 0.1 50.6 0.1-18 0.1-4 0.1-25.3 0.1 4.3 0.1 15.8 0.1-34.2 0.2 19.6 0.1-5.5 0.1-31 0.1 25.4 0.1-2.4 0.1-22.4 0.1 32.8 0.1 39.6 0.1-31.7 0.1-41.1 0.1 15.7 0.1 11.2 0.1-8.4 0.1-8.1 0.1 18.2 0.1 23.4 0.1-15.3 0.1-23.7 0.1 3.8 0.1 45.1 0.1-23.1 0.2-14.9 0.1-21.3 0.1-3.7 0.1 10.6 0.1 49.9 0.1-10.8 0.1-29.2 0.1 37.3 0.1-18.2 0.1 5.2 0.1-30.7 0.1 34.1 0.1 22.7 0.1-21.7 0.1-23.5 0.1 7.9 0.1 33.9 0.1-50.4 0.1 38.3 0.1-10.2 0.1-3.6 0.2 10.8 0.1-13.7 0.1 5.3 0.1 16.2 0.1-51.4 0.1 13.3 0.1 23.6 0.1-26 0.1 23.7 0.1-2.3 0.1-7.7 0.1-1.7 0.1-24.2 0.1 17.6 0.1 56.3 0.1-30.5 0.1-24.7 0.1-15 0.1-6.5 0.1-7.6 0.1 41.3 0.1-2.6 0.2 50.8 0.1-36.3 0.1-7.9 0.1-29.3 0.1 0.4 0.1 25.9 0.1 7.2 0.1-29 0.1 9.4 0.1-29.6 0.1 18.3 0.1 19.6 0.1-42 0.1 51.2 0.1 25.1 0.1-48.7 0.1 79.1 0.1-41.3 0.1-36.1 0.1-3.4 0.1 30 0.2-22.2 0.1 22.6 0.1-33.7 0.1 36.5 0.1-34.5 0.1 51.9 0.1-11.9 0.1-8.7 0.1 16.1 0.1-13.7 0.1-1.8 0.1-3.6 0.1-27.9 0.1-17.4 0.1 23.7 0.1 24.3 0.1-26.1 0.1 22.5 0.1 0.7 0.1-7.6 0.1-28.6 0.2 14 0.1-9.8 0.1 27.1 0.1 11 0.1-20.2 0.1-1.5 0.1 35 0.1-29.4 0.1 28.6 0.1-40.2 0.1 35.1 0.1 29.7 0.1-38.1 0.1-49.6 0.1 9.5 0.1 29.6 0.1-17.2 0.1 3.3 0.1-1.6 0.1 30.6 0.1-18.5 0.2-5.8 0.1 16.1 0.1 27 0.1-11.4 0.1-24.2 0.1 38.5 0.1 5 0.1-10 0.1-3 0.1-36.5 0.1-5.2 0.1 23.6 0.1-17.6 0.1 18.9 0.1 2.8 0.1-29.2 0.1-7.5 0.1-15.2 0.1 18 0.1 19.5 0.1 4.8 0.2-5.2 0.1-11.5 0.1 16.5 0.1-26.5 0.1 24.5 0.1-5.3 0.1-30.3 0.1-28.7 0.1 49.3 0.1-24.8 0.1 37.6 0.1 24.4 0.1-21 0.1 0 0.1-33.5 0.1 9.9 0.1 33.3 0.1 7.2 0.1-12.5 0.1 9.9 0.1-9.7 0.1 46.6 0.2-72.6 0.1-42.1 0.1 37.2 0.1-4.9 0.1 15.4 0.1-21.7 0.1 43.8 0.1-18.2 0.1 16.3 0.1-0.9 0.1 4.9 0.1 2.6 0.1 10.3 0.1-36.6 0.1 13.9 0.1 3.3 0.1 13 0.1-17 0.1-28.7 0.1 26.2 0.1-21.6 0.2-7.3 0.1-16.3 0.1 29 0.1-21.3 0.1 13.9 0.1 44.9 0.1-23.1 0.1-21.9 0.1 47.5 0.1 6.2 0.1-47.2 0.1 62.4 0.1-45.5 0.1-6.2 0.1-9.9 0.1 7.2 0.1 2.3 0.1 5.5 0.1 14 0.1-16.6 0.1 7.8 0.2-9.9 0.1-32.8 0.1-7.2 0.1-1.4 0.1 2 0.1 37.9 0.1-20.6 0.1 10.3 0.1 19.1 0.1-21.2 0.1 30.2 0.1 6.6 0.1 11.4 0.1-45.8 0.1 50.9 0.1-45.9 0.1 29.6 0.1-52.8 0.1 22 0.1 7 0.1 12.4 0.2-6.3 0.1 21.5 0.1-4.3 0.1-31.8 0.1 31.7 0.1-25 0.1 40.9 0.1-29 0.1 45.3 0.1-6.5 0.1-22.4 0.1-38.7 0.1 25.3 0.1 7.4 0.1-10.3 0.1 20.3 0.1-29.7 0.1 17.4 0.1 37.7 0.1-26.6 0.1-51.3 0.2 20.9 0.1-29.2 0.1 16.8 0.1 29.6 0.1-30.7 0.1 35.1 0.1 11.1 0.1-10.6 0.1-26.4 0.1 39.8 0.1-30 0.1 31.3 0.1-47.1 0.1-4.5 0.1 20 0.1-24.6 0.1 23 0.1 17.2 0.1-24.9 0.1-11.8 0.1 0.7 0.1 48.4 0.2-1.4 0.1-34.5 0.1-23.4 0.1 33.5 0.1-20.7 0.1 23.9 0.1 13.1 0.1-31.3 0.1 12.9 0.1 3.5 0.1-6.6 0.1 39.3 0.1-32.5 0.1 4.9 0.1-11.4 0.1 25.5 0.1-12.2 0.1-59 0.1 51.5 0.1-35.7 0.1 23.6 0.2 20 0.1-13.1 0.1 4.2 0.1 28.6 0.1-18.6 0.1 0.1 0.1-10.3 0.1 40.1 0.1 0.3 0.1-24.2 0.1-15 0.1-19.3 0.1 57.8 0.1-45.6 0.1 2.4 0.1 23.2 0.1-44.3 0.1-10.4 0.1 56.2 0.1-21.3 0.1-23.6 0.2 41.9 0.1 7.8 0.1-9.9 0.1-39.1 0.1 7.6 0.1-19.2 0.1-1.5 0.1 76.4 0.1-27.3 0.1-25.5 0.1 7.3 0.1-23 0.1 51 0.1 12.1 0.1-17.4 0.1 11.4 0.1-78.2 0.1 56.9 0.1-31.1 0.1 13 0.1-14.7 0.2 8.7 0.1 42.5 0.1 13.1 0.1 11.5 0.1-54.6 0.1 6.1 0.1-0.2 0.1 3 0.1 4.6 0.1 6.8 0.1-6.1 0.1 25 0.1-22.8 0.1-17.7 0.1 28.4 0.1-27.9 0.1 36.7 0.1-37.1 0.1 20.2 0.1-74.4 0.1 46.4 0.2 6.3 0.1-7.4 0.1-15.3 0.1 5.3 0.1 25.1 0.1-5.3 0.1-17.8 0.1 12.5 0.1-9.1 0.1 15.2 0.1-21.2 0.1 57 0.1-23.2 0.1 5.2 0.1-4 0.1-6.2 0.1 70 0.1-86.9 0.1-12.3 0.1 6.1 0.1-4.8 0.1 34.3 0.2-12.4 0.1 6.8 0.1 10.5 0.1-1.3 0.1 13.7 0.1-49.5 0.1 26.1 0.1 0.8 0.1-30.5 0.1 18.5 0.1 30.9 0.1-35.4 0.1 46.7 0.1-31 0.1 21.2 0.1-24.9 0.1 20.4 0.1-20.4 0.1-3.3 0.1 18.2 0.1-9.2 0.2 11.2 0.1-44.8 0.1 62 0.1-19.2 0.1 4.6 0.1-3.2 0.1 36.9 0.1-25.6 0.1-19.2 0.1-14.7 0.1 7.6 0.1-3.1 0.1-5.6 0.1 34.2 0.1 7.2 0.1-43.5 0.1 62.5 0.1-57.4 0.1 19.5 0.1 29.2 0.1-56.1 0.2 18.3 0.1-0.7 0.1 36 0.1-26.4 0.1-9 0.1 9.7 0.1 15.9 0.1-46.6 0.1 54 0.1-11.3 0.1-23.4 0.1-12.2 0.1 26.3 0.1-20.1 0.1 11.5 0.1-32.8 0.1-0.8 0.1 22.6 0.1 28.3 0.1 5.1 0.1-37.1 0.2-6.4 0.1 26.1 0.1-33 0.1 1.1 0.1 23.3 0.1-8.8 0.1 26.9 0.1-31.9 0.1 13.9 0.1 22.4 0.1-14.3 0.1-13.6 0.1-12.7 0.1 6.9 0.1-37.9 0.1 93.9 0.1-28.6 0.1-20.5 0.1 1.7 0.1-0.9 0.1-31.9 0.2 48.6 0.1-13.8 0.1 41.7 0.1-30.6 0.1 0.3 0.1-36.6 0.1 44.9 0.1-5.9 0.1-1.6 0.1-25.5 0.1 1.3 0.1 7.1 0.1 8.3 0.1-7.7 0.1 18.4 0.1 6.4 0.1-47.5 0.1-13.6 0.1 15.9 0.1 11.5 0.1-12.9 0.1 73.6 0.2-46.1 0.1-40.6 0.1 25.8 0.1 34.4 0.1-47.1 0.1 45.8 0.1-42.4 0.1 50.6 0.1-40.5 0.1 3 0.1 8.1 0.1 6.1 0.1 0.5 0.1 18.6 0.1-24.4 0.1 14.5 0.1-4.9 0.1 1.5 0.1-28.3 0.1 42.5 0.1-15.4 0.2 8.5 0.1-24.1 0.1 31 0.1 3.2 0.1 7.5 0.1-19.6 0.1-27 0.1 3.5 0.1-31 0.1 8.9 0.1 26.2 0.1-5.1 0.1-10.7 0.1-1.6 0.1 20.9 0.1 29.2 0.1-67.2 0.1 47.6 0.1-19.5 0.1-20.6 0.1-17.4 0.2 5.6 0.1 90.6 0.1 4 0.1-49.5 0.1-12.1 0.1 6.6 0.1-10.3 0.1 38.8 0.1 0.9 0.1 0.2 0.1 0.8 0.1-27.7 0.1 8.6 0.1 3 0.1 9.6 0.1 6.7 0.1-26.5 0.1 18.5 0.1-8.3 0.1 32.5 0.1-42.6 0.2-39.6 0.1 15.9 0.1 22.2 0.1 11.8 0.1 17.4 0.1-53.7 0.1 37.5 0.1-38.4 0.1 12.3 0.1 18.6 0.1 14.1 0.1 21.2 0.1-37.6 0.1 29.3 0.1-21.9 0.1-0.9 0.1 5.4 0.1 2.3 0.1-33.6 0.1 0.6 0.1 42.5 0.2-26.3 0.1 4.5 0.1-29.4 0.1 14.7 0.1-25.5 0.1 17.4 0.1 30.9 0.1-22.5 0.1-19.4 0.1-2.3 0.1 53.2 0.1-12.3 0.1-10.1 0.1-39.4 0.1 25.4 0.1-5.6 0.1 45.5 0.1-26.5 0.1 0.7 0.1-8.3 0.1 1.8 0.1 21.1 0.2 15.1 0.1-23 0.1-22.7 0.1 12.2 0.1 29.1 0.1-23.6 0.1 45.7 0.1-56.7 0.1 9.3 0.1 16.3 0.1 12.3 0.1-19.6 0.1-28.3 0.1-19.5 0.1 50.5 0.1-32 0.1-47.2 0.1 53.7 0.1 18.8 0.1-74.6 0.1 30.1 0.2 3.1 0.1 37 0.1 30.6 0.1-57.7 0.1 17.3 0.1-23.6 0.1-3.2 0.1 5.8 0.1 24.1 0.1 17.6 0.1-6.8" fill="none" stroke="#000" stroke-width="1.4"/>
<path clip-path="url(#cb1)" d="M834.3 254l3.1 45.2 3.2-16.9 4.7-3.8 5.3-40.6 2.3 66.1 3.4-2.9 3.2 6.6 2.8-34.9 3.4-8.5 2.8-27.3 3.2 54.7 3.2-42.5 3.1 74.6 3.5-49.1 2.5 17 3.8 63.2 2.8-44.3 3.4-15.1 3.2-56.6 2.5 43.4 3.7 38.7 3.2-83.1 3.8 53.8 2.8 5.7 3.4-48.5 5.1 76.4 6.2-76.4 3.8-1 2.8 13.2 3.4-14.1 3.2 68.8 4.7-7.5 7.6-73.6 3.4 28.3 3.2-34 3.8 54.8 5.6-51.9 3.8 27.3 4.7-31.1 2.9 8.5 3.7 49.1 6.8-106.7 6.4 57.4 3-78.3 3.2 68.9 3.8-117 2.5 138.7 6-106.6 3.4 43.4 3.2 71.7 2.8-75.5 2.3 3.8 3.4-24.6 3.7 14.1 4 2 3-31 3 14 3.5-80 5.5 65 3.2 3 3.6-48 3.2-27 3 63 3-36 4 35 4.4 15 2.9-40 3.2 10 3.5 100 3.7-34 2.8 29.6 4.2 9.9 3.3-85.5 3.1-30 3.5 5 5.7 117.6 2.8-46.7 2.9 22.6 3 9.9 3.3-59.4 2.1 49.5 4.3 26.9 4.2-26.9 3.6-2.8 4.5-50.7 4 73 4-33 4 29 4-39 3.5-42.6 5.3 119.9 4.2-72.3 4 40 5.8-73.5 4.2 58.5 4 47.3 3-62.3 3.7-42 3.8-5 3.5 89 3.5-42 4.4 91.6 4.1-91.6 3.4 29 3.6-39 4 20 4.7 68.4 4.3-78.4 4 27.5 3-73.5 5 66 5.4 64 4.6-84 3.9 31.2 3.1-41.2 4.4-40 5.5 146.2 3-27.2 3.7 27.2 3.7 2.5 5 79.3 3.7-121.4 3.7-8.6 5 58 3.3-6 4-71.8 2.6 84.1 3.7-99 3.7 65.6 5.4 35.9 4-22.3 2.6 7.5 2.8-28.5 3.7 7.4 5.7-59.4 3 58.2 2.8 0.3 3.4-25.1 3.7 16.1 3.7 32.2 5.2-101.2 3.2 101.2 3.7-40.9 2.5 11.2 3.7 12.4 5.7-80.5 4.2 16.1 5.7 121.3 5.9-96.5 3.2 24.7 3.8 9.9 2.9-12.4 3.2-74.2 6.2 133.6 2.5-45.8 3.7 35.9 3.2-43.3 2.5 59.4 3.5-123.7 3.2 113.8 3.2-129.9 3 86.6 6.2 44.6 3.2-35.9 3.5 34.6 3.2-63.1" fill="none" stroke="#808080" stroke-width="3.9" stroke-linejoin="round" stroke-linecap="round"/>
<path clip-path="url(#cb2)" d="M834.4 661.7l2.6-106.5 4.1 57.8 2.6 12.2 2.9 29.4 3.6-29.4 3.1 10.1 3 11.2 3.1-64.9 4 17.2 2 74.1 3.1-38.6 3 16.2 3.1-60.8 3.6 45.6 3.5-45.6 3.4 7.1 2.7 59.8 3-54.7 3 90.2 3.1-42.6 3 22.3 6.7-111.5 3.5 93.3 4.9-83.6 3 30 3.5 109.3 6.9-189.5 3.1 71.4 3.3-62.9 5.1 95.1 4.6-44.5 3.1 93.6 6.1-200.2 6.1 57.5 3.1 80.6 3.5-60.4 9.7 59.8 4.6-132.3 4.1-6.9 3.3 52.2 3.3-69 3.1 109.2 6.1-94.7 3.9 56.8 5.8-79 3.4 94.3 3-60.6 2.9 3 3.1-41.4 2.3 35.3 3.8 10 3.1-30.7 3.8 5.3 2.3 86.2 3.5-47.5 4.2 13.5 5.3-41.4 3.1 27.6 2.6 70.1 3.5-65.5 3.9 15.3 5.3-52.1 3.1 12.5 3.9 11.2 2.6-86.7 3.6 60.6 3-26.8 2.6 88.5 7.1-133.8 3.4 108.2 2.7-68.3 3.4 45.3 3.4-4.6 5.5 50.1 3.4-82.4 3 59.9 2.7-9.2 2.2-7.6 4.4-34.6 6.4 90.8 9.5-96.1 5.1 104.5 4.3-70 3.3 54 3.1-86.2 3.1 122.2 6.1-100.7 4.6 103.7 3.2-54.6 5.4 16.9 7.7-81.3 4.6-13 3 56 3.1 21.4 3.1 0 2.3 68.6 3.7 26.5 2.9-39.7 3.7 39.7 3.2-59.5 2.9 77.4 3.4-33 3.9 4.5 4.9 13.6 2.6-85.3 3.8-19.8 2.8 45.3 3.8-6.7 5.6 47.2 3.8-7.5 3.8-1 5.6-55.6 3.8 30.2 3.8 49 4.1 1.9 4.4 33 2.8-35.8 3.8 19.8 5.3-113.2 5.1 66 4.3 86.8 3.4-115.6 3.7 52.8 3-43.7 6.1 124.7 3-44.6 3.1 6.1 3-6.1 3.1 47.7 3.4-90.2 2.7 26.3 3.4-40.5 3.7 14.2 3.6 2 2.4 32.4 3.1-38.5 4 117.2 5.1-129.4 4.1 9.2 3 1 3 66.9 2.6-16.2 3.1 68.5 3.4-75.6 2.9-2.4 3.2-83.8 3.1 33.4 3-9.1 3.4 105.5 3.7-22.3 4.1-3.1 4-67.9 4.1-12.2 3 94.3 3.1-14.2 3 6.1 6.1-83.1 5.1 69.9 4.1 64.5 3.5 0 3.5-68.5 3.1 2 6-74 3.7 73 3.4-17.2" fill="none" stroke="#808080" stroke-width="3.9" stroke-linejoin="round" stroke-linecap="round"/>
<path clip-path="url(#cb1)" d="M834.3 315.3l1 0 1 0 1 0 1 0 1 0 1 0 1-0.1 1 0 1 0 1 0 1 0 1 0 1 0 1 0 1 0 1 0 1 0 1 0 1 0 1 0 1 0 1-0.1 1 0 1 0 1 0 1 0 1 0 1 0 1-0.1 1 0 1 0 1 0 1-0.1 1 0 1 0 1 0 1-0.1 1 0 1 0 1-0.1 1 0 1 0 1-0.1 1 0 1-0.1 1 0 1-0.1 1-0.1 1 0 1-0.1 1-0.1 1 0 1-0.1 1-0.1 1-0.1 1-0.1 1-0.1 1-0.1 1-0.1 1-0.1 1-0.1 1-0.2 1-0.1 1-0.1 1-0.2 1-0.1 1-0.2 1-0.2 1-0.2 1-0.1 1-0.2 1-0.3 1-0.2 1-0.2 1-0.2 1-0.3 1-0.3 1-0.2 1-0.3 1-0.3 1-0.3 1-0.4 1-0.3 1-0.4 1-0.3 1-0.4 1-0.4 1-0.5 1-0.4 1-0.5 1-0.4 1-0.5 1-0.5 1-0.6 1-0.5 1-0.6 1-0.6 1-0.6 1-0.6 1-0.7 1-0.7 1-0.7 1-0.7 1-0.8 1-0.7 1-0.8 1-0.9 1-0.8 1-0.9 1-0.9 1-0.9 1-1 1-1 1-1 1-1 1-1.1 1-1.1 1-1.1 1-1.2 1-1.1 1-1.3 1-1.2 1-1.3 1-1.3 1-1.3 1-1.3 1-1.4 1-1.4 1-1.5 1-1.4 1-1.5 1-1.6 1-1.5 1-1.6 1-1.6 1-1.6 1-1.7 1-1.6 1-1.7 1-1.7 1-1.8 1-1.8 1-1.7 1-1.8 1-1.9 1-1.8 1-1.9 1-1.8 1-1.9 1-1.9 1-1.9 1-1.9 1-2 1-1.9 1-1.9 1-2 1-1.9 1-2 1-2 1-1.9 1-2 1-1.9 1-2 1-1.9 1-1.9 1-1.9 1-1.9 1-1.9 1-1.9 1-1.8 1-1.9 1-1.8 1-1.8 1-1.7 1-1.8 1-1.7 1-1.7 1-1.6 1-1.6 1-1.6 1-1.5 1-1.5 1-1.5 1-1.4 1-1.4 1-1.3 1-1.3 1-1.3 1-1.2 1-1.1 1-1.1 1-1 1-1 1-0.9 1-0.9 1-0.8 1-0.8 1-0.6 1-0.7 1-0.6 1-0.5 1-0.4 1-0.4 1-0.3 1-0.3 1-0.2 1-0.1 1-0.1 1 0 1 0 1 0.2 1 0.2 1 0.2 1 0.3 1 0.4 1 0.4 1 0.5 1 0.6 1 0.6 1 0.7 1 0.7 1 0.8 1 0.8 1 1 1 0.9 1 1 1 1.1 1 1.1 1 1.2 1 1.2 1 1.3 1 1.3 1 1.3 1 1.4 1 1.5 1 1.5 1 1.5 1 1.5 1 1.6 1 1.6 1 1.7 1 1.7 1 1.7 1 1.7 1 1.8 1 1.8 1 1.8 1 1.8 1 1.8 1 1.9 1 1.9 1 1.8 1 1.9 1 1.9 1 1.9 1 2 1 1.9 1 1.9 1 1.9 1 1.9 1 1.9 1 2 1 1.9 1 1.9 1 1.8 1 1.9 1 1.9 1 1.9 1 1.8 1 1.8 1 1.9 1 1.8 1 1.7 1 1.8 1 1.7 1 1.8 1 1.7 1 1.6 1 1.7 1 1.6 1 1.6 1 1.6 1 1.6 1 1.5 1 1.5 1 1.5 1 1.5 1 1.4 1 1.4 1 1.4 1 1.3 1 1.3 1 1.3 1 1.3 1 1.2 1 1.2 1 1.2 1 1.1 1 1.1 1 1.1 1 1.1 1 1 1 1 1 1 1 1 1 0.9 1 0.9 1 0.8 1 0.9 1 0.8 1 0.8 1 0.8 1 0.7 1 0.7 1 0.7 1 0.7 1 0.7 1 0.6 1 0.6 1 0.6 1 0.5 1 0.6 1 0.5 1 0.5 1 0.5 1 0.5 1 0.4 1 0.4 1 0.4 1 0.4 1 0.4 1 0.4 1 0.3 1 0.4 1 0.3 1 0.3 1 0.3 1 0.3 1 0.2 1 0.3 1 0.2 1 0.3 1 0.2 1 0.2 1 0.2 1 0.2 1 0.2 1 0.1 1 0.2 1 0.1 1 0.2 1 0.1 1 0.2 1 0.1 1 0.1 1 0.1 1 0.1 1 0.1 1 0.1 1 0.1 1 0.1 1 0.1 1 0 1 0.1 1 0.1 1 0 1 0.1 1 0 1 0.1 1 0 1 0.1 1 0 1 0 1 0.1 1 0 1 0 1 0.1 1 0 1 0 1 0 1 0 1 0.1 1 0 1 0 1 0 1 0 1 0 1 0 1 0 1 0 1 0 1 0 1 0 1 0.1 1 0 1 0 1 0 1 0 1 0 1 0 1 0 1 0 1 0 1-0.1 1 0 1 0 1 0 1 0 1 0 1 0 1 0 1 0 1 0 1 0 1 0 1 0 1 0 1 0 1 0 1 0 1 0 1 0 1 0 1 0 1 0 1 0 1 0 1-0.1 1 0 1 0 1 0 1 0 1 0 1 0 1 0 1 0 1 0 1 0 1 0 1 0 1 0 1 0 1 0 1 0 1 0 1 0 1 0 1 0 1 0 1 0 1-0.1 1 0 1 0 1 0 1 0 1 0 1 0 1 0 1 0 1 0 1 0 1 0 1 0 1 0 1 0 1 0 1 0 1 0 1 0 1 0 1 0 1 0 1 0 1 0 1 0 1 0 1 0 1 0 1 0 1 0 1 0 1 0 1 0 1 0 1 0 1 0 1 0 1 0 1 0 1 0 1 0 1 0 1 0 1-0.1 1 0 1 0 1 0 1 0 1 0 1 0 1 0 1 0 1 0 1 0 1 0 1 0 1 0 1 0 1 0 1 0 1 0 1 0 1 0 1 0 1 0 1 0 1 0 1 0 1 0 1 0 1 0 1 0 1 0 1 0 1 0 1 0 1 0 1 0 1 0 1 0 1 0 1 0 1 0 1 0 1 0 1 0 1 0 1 0 1 0 1 0 1 0 1 0 1 0 1 0 1 0 1 0 1 0 1 0 1 0 1 0 1 0 1 0 1 0 1 0 1 0 1 0 1 0 1 0 1 0 1 0 1 0 1 0 1 0 1 0 1 0 1 0 1 0 1 0 1 0 1 0 1 0 1 0 1 0 1 0 1 0 1 0 1 0 1 0 1 0 1 0 1 0 1 0 1 0 1 0 1 0 1 0 1 0 1 0 1 0 1 0 1 0 1 0 1 0 1 0 1 0 1 0 1 0 1 0 1 0 1 0 1 0 1 0 1 0 1 0 1 0 1 0 1 0 1 0 1 0 1 0 1 0 1 0 1 0 1 0 1 0 1 0 1 0 1 0 1 0 1 0 1 0 1 0 1 0 1 0 1 0 1 0 1 0 1 0" fill="none" stroke="#ff0000" stroke-width="4.0" stroke-linejoin="round" stroke-linecap="round"/>
<path clip-path="url(#cb1)" d="M834.3 315.1l1 0 1 0 1 0 1 0 1 0 1 0 1 0 1 0 1 0 1 0 1 0 1 0 1 0 1 0 1 0 1 0 1 0 1 0 1 0 1 0 1 0 1 0 1 0 1 0 1 0 1 0 1 0 1 0 1 0 1 0 1 0 1 0 1 0 1 0 1 0 1 0 1 0 1 0 1 0 1 0 1 0 1 0 1 0 1 0 1 0 1 0 1 0 1 0 1 0 1 0 1 0 1 0 1 0 1 0 1-0.1 1 0 1 0 1 0 1 0 1 0 1 0 1 0 1 0 1 0 1 0 1 0 1 0 1 0 1 0 1 0 1 0 1 0 1 0 1 0 1-0.1 1 0 1 0 1 0 1 0 1 0 1 0 1 0 1 0 1 0 1 0 1 0 1-0.1 1 0 1 0 1 0 1 0 1 0 1 0 1-0.1 1 0 1 0 1 0 1 0 1 0 1-0.1 1 0 1 0 1 0 1 0 1-0.1 1 0 1 0 1 0 1-0.1 1 0 1 0 1 0 1-0.1 1 0 1 0 1-0.1 1 0 1 0 1-0.1 1 0 1-0.1 1 0 1-0.1 1 0 1 0 1-0.1 1 0 1-0.1 1-0.1 1 0 1-0.1 1 0 1-0.1 1-0.1 1 0 1-0.1 1-0.1 1 0 1-0.1 1-0.1 1-0.1 1-0.1 1 0 1-0.1 1-0.1 1-0.1 1-0.1 1-0.1 1-0.1 1-0.1 1-0.2 1-0.1 1-0.1 1-0.1 1-0.1 1-0.2 1-0.1 1-0.1 1-0.2 1-0.1 1-0.2 1-0.1 1-0.2 1-0.1 1-0.2 1-0.2 1-0.2 1-0.1 1-0.2 1-0.2 1-0.2 1-0.2 1-0.2 1-0.2 1-0.2 1-0.3 1-0.2 1-0.2 1-0.3 1-0.2 1-0.2 1-0.3 1-0.3 1-0.2 1-0.3 1-0.3 1-0.3 1-0.3 1-0.3 1-0.3 1-0.3 1-0.3 1-0.3 1-0.4 1-0.3 1-0.3 1-0.4 1-0.3 1-0.4 1-0.4 1-0.4 1-0.4 1-0.4 1-0.4 1-0.4 1-0.4 1-0.4 1-0.4 1-0.5 1-0.4 1-0.5 1-0.4 1-0.5 1-0.5 1-0.5 1-0.4 1-0.5 1-0.6 1-0.5 1-0.5 1-0.5 1-0.5 1-0.6 1-0.5 1-0.6 1-0.6 1-0.5 1-0.6 1-0.6 1-0.6 1-0.6 1-0.6 1-0.6 1-0.6 1-0.6 1-0.7 1-0.6 1-0.6 1-0.7 1-0.7 1-0.6 1-0.7 1-0.7 1-0.6 1-0.7 1-0.7 1-0.7 1-0.7 1-0.7 1-0.7 1-0.7 1-0.7 1-0.7 1-0.8 1-0.7 1-0.7 1-0.7 1-0.8 1-0.7 1-0.7 1-0.8 1-0.7 1-0.8 1-0.7 1-0.8 1-0.7 1-0.7 1-0.8 1-0.7 1-0.8 1-0.7 1-0.8 1-0.7 1-0.8 1-0.7 1-0.7 1-0.8 1-0.7 1-0.7 1-0.7 1-0.8 1-0.7 1-0.7 1-0.7 1-0.7 1-0.7 1-0.7 1-0.7 1-0.6 1-0.7 1-0.7 1-0.6 1-0.7 1-0.6 1-0.7 1-0.6 1-0.6 1-0.6 1-0.6 1-0.6 1-0.6 1-0.5 1-0.6 1-0.5 1-0.6 1-0.5 1-0.5 1-0.5 1-0.5 1-0.5 1-0.4 1-0.5 1-0.4 1-0.4 1-0.4 1-0.4 1-0.4 1-0.3 1-0.4 1-0.3 1-0.3 1-0.3 1-0.3 1-0.3 1-0.2 1-0.3 1-0.2 1-0.2 1-0.2 1-0.2 1-0.1 1-0.1 1-0.2 1-0.1 1-0.1 1 0 1-0.1 1 0 1 0 1 0 1 0 1 0 1 0.1 1 0 1 0.1 1 0.1 1 0.2 1 0.1 1 0.1 1 0.2 1 0.2 1 0.2 1 0.2 1 0.3 1 0.2 1 0.3 1 0.3 1 0.2 1 0.4 1 0.3 1 0.3 1 0.4 1 0.4 1 0.3 1 0.4 1 0.5 1 0.4 1 0.4 1 0.5 1 0.4 1 0.5 1 0.5 1 0.5 1 0.5 1 0.5 1 0.6 1 0.5 1 0.6 1 0.6 1 0.5 1 0.6 1 0.6 1 0.6 1 0.6 1 0.6 1 0.7 1 0.6 1 0.7 1 0.6 1 0.7 1 0.6 1 0.7 1 0.7 1 0.6 1 0.7 1 0.7 1 0.7 1 0.7 1 0.7 1 0.7 1 0.7 1 0.7 1 0.7 1 0.7 1 0.8 1 0.7 1 0.7 1 0.7 1 0.7 1 0.7 1 0.8 1 0.7 1 0.7 1 0.7 1 0.7 1 0.8 1 0.7 1 0.7 1 0.7 1 0.7 1 0.7 1 0.7 1 0.7 1 0.7 1 0.7 1 0.7 1 0.7 1 0.6 1 0.7 1 0.7 1 0.6 1 0.7 1 0.7 1 0.6 1 0.7 1 0.6 1 0.6 1 0.7 1 0.6 1 0.6 1 0.6 1 0.6 1 0.6 1 0.6 1 0.6 1 0.6 1 0.5 1 0.6 1 0.6 1 0.5 1 0.6 1 0.5 1 0.5 1 0.5 1 0.6 1 0.5 1 0.5 1 0.5 1 0.4 1 0.5 1 0.5 1 0.5 1 0.4 1 0.5 1 0.4 1 0.4 1 0.5 1 0.4 1 0.4 1 0.4 1 0.4 1 0.4 1 0.4 1 0.4 1 0.3 1 0.4 1 0.3 1 0.4 1 0.3 1 0.4 1 0.3 1 0.3 1 0.3 1 0.3 1 0.3 1 0.3 1 0.3 1 0.3 1 0.3 1 0.2 1 0.3 1 0.3 1 0.2 1 0.3 1 0.2 1 0.2 1 0.3 1 0.2 1 0.2 1 0.2 1 0.2 1 0.2 1 0.2 1 0.2 1 0.2 1 0.2 1 0.2 1 0.1 1 0.2 1 0.2 1 0.1 1 0.2 1 0.1 1 0.2 1 0.1 1 0.2 1 0.1 1 0.1 1 0.1 1 0.2 1 0.1 1 0.1 1 0.1 1 0.1 1 0.1 1 0.1 1 0.1 1 0.1 1 0.1 1 0.1 1 0.1 1 0.1 1 0.1 1 0 1 0.1 1 0.1 1 0.1 1 0 1 0.1 1 0.1 1 0 1 0.1 1 0.1 1 0 1 0.1 1 0 1 0.1 1 0 1 0.1 1 0 1 0.1 1 0 1 0.1 1 0 1 0 1 0.1 1 0 1 0 1 0.1 1 0 1 0 1 0.1 1 0 1 0 1 0.1 1 0 1 0 1 0 1 0 1 0.1 1 0 1 0 1 0 1 0.1 1 0 1 0 1 0 1 0 1 0 1 0.1 1 0 1 0 1 0 1 0 1 0 1 0 1 0 1 0.1 1 0 1 0 1 0 1 0 1 0 1 0 1 0 1 0 1 0 1 0 1 0.1 1 0 1 0 1 0 1 0 1 0 1 0 1 0 1 0 1 0 1 0 1 0 1 0 1 0 1 0 1 0 1 0 1 0 1 0 1 0 1 0.1 1 0 1 0 1 0 1 0 1 0 1 0 1 0 1 0 1 0" fill="none" stroke="#0000ff" stroke-width="4.0" stroke-linejoin="round" stroke-linecap="round"/>
<path clip-path="url(#cb1)" d="M834.3 315.3l1 0 1 0 1 0 1 0 1 0 1 0 1 0 1 0 1 0 1 0 1 0 1 0 1 0 1 0 1 0 1 0 1 0 1 0 1 0 1 0 1 0 1 0 1 0 1 0 1 0 1 0 1 0 1 0 1 0 1 0 1 0 1 0 1 0 1 0 1 0 1 0 1 0 1 0 1 0 1 0 1 0 1 0 1 0 1 0 1 0 1 0 1 0 1 0 1 0 1 0 1 0 1 0 1 0 1 0 1 0 1 0 1 0 1 0 1 0 1 0 1 0 1 0 1 0 1 0 1 0 1 0 1 0 1 0 1 0 1 0 1 0 1 0 1 0 1 0 1 0 1 0 1 0 1 0 1 0 1 0 1 0 1 0 1 0 1 0 1 0 1 0 1 0 1 0 1 0 1 0 1 0 1 0 1 0 1 0 1 0 1-0.1 1 0 1 0 1 0 1 0 1 0 1 0 1 0 1 0 1 0 1 0 1 0 1 0 1 0 1 0 1 0 1 0 1 0 1 0 1 0 1 0 1 0 1 0 1 0 1 0 1 0 1 0 1 0 1-0.1 1 0 1 0 1 0 1 0 1 0 1 0 1 0 1 0 1 0 1 0 1 0 1 0 1 0 1-0.1 1 0 1 0 1 0 1 0 1 0 1 0 1 0 1 0 1-0.1 1 0 1 0 1 0 1 0 1 0 1 0 1 0 1-0.1 1 0 1 0 1 0 1 0 1 0 1 0 1-0.1 1 0 1 0 1 0 1 0 1 0 1-0.1 1 0 1 0 1 0 1 0 1-0.1 1 0 1 0 1 0 1 0 1-0.1 1 0 1 0 1 0 1-0.1 1 0 1 0 1 0 1 0 1-0.1 1 0 1 0 1 0 1-0.1 1 0 1 0 1 0 1-0.1 1 0 1 0 1 0 1-0.1 1 0 1 0 1 0 1-0.1 1 0 1 0 1 0 1-0.1 1 0 1 0 1-0.1 1 0 1 0 1 0 1-0.1 1 0 1 0 1 0 1-0.1 1 0 1 0 1 0 1-0.1 1 0 1 0 1-0.1 1 0 1 0 1 0 1-0.1 1 0 1 0 1 0 1-0.1 1 0 1 0 1 0 1-0.1 1 0 1 0 1 0 1-0.1 1 0 1 0 1 0 1 0 1-0.1 1 0 1 0 1 0 1-0.1 1 0 1 0 1 0 1 0 1-0.1 1 0 1 0 1 0 1-0.1 1 0 1 0 1 0 1 0 1-0.1 1 0 1 0 1 0 1 0 1 0 1-0.1 1 0 1 0 1 0 1 0 1-0.1 1 0 1 0 1 0 1 0 1 0 1-0.1 1 0 1 0 1 0 1 0 1 0 1-0.1 1 0 1 0 1 0 1 0 1 0 1-0.1 1 0 1 0 1 0 1 0 1 0 1 0 1-0.1 1 0 1 0 1 0 1 0 1 0 1-0.1 1 0 1 0 1 0 1 0 1 0 1 0 1-0.1 1 0 1 0 1 0 1 0 1 0 1 0 1-0.1 1 0 1 0 1 0 1 0 1 0 1 0 1-0.1 1 0 1 0 1 0 1 0 1 0 1 0 1-0.1 1 0 1 0 1 0 1 0 1 0 1 0 1-0.1 1 0 1 0 1 0 1 0 1 0 1 0 1 0 1-0.1 1 0 1 0 1 0 1 0 1 0 1 0 1-0.1 1 0 1 0 1 0 1 0 1 0 1 0 1 0 1-0.1 1 0 1 0 1 0 1 0 1 0 1 0 1 0 1-0.1 1 0 1 0 1 0 1 0 1 0 1 0 1 0 1 0 1-0.1 1 0 1 0 1 0 1 0 1 0 1 0 1 0 1 0 1 0 1-0.1 1 0 1 0 1 0 1 0 1 0 1 0 1 0 1 0 1 0 1 0 1-0.1 1 0 1 0 1 0 1 0 1 0 1 0 1 0 1 0 1 0 1 0 1 0 1-0.1 1 0 1 0 1 0 1 0 1 0 1 0 1 0 1 0 1 0 1 0 1 0 1 0 1 0 1 0 1 0 1-0.1 1 0 1 0 1 0 1 0 1 0 1 0 1 0 1 0 1 0 1 0 1 0 1 0 1 0 1 0 1 0 1 0 1 0 1 0 1 0 1 0 1-0.1 1 0 1 0 1 0 1 0 1 0 1 0 1 0 1 0 1 0 1 0 1 0 1 0 1 0 1 0 1 0 1 0 1 0 1 0 1 0 1 0 1 0 1 0 1 0 1 0 1 0 1 0 1 0 1 0 1 0 1 0 1 0 1 0 1 0 1 0 1 0 1 0 1 0 1 0 1 0 1 0 1 0 1 0 1-0.1 1 0 1 0 1 0 1 0 1 0 1 0 1 0 1 0 1 0 1 0 1 0 1 0 1 0 1 0 1 0 1 0 1 0 1 0 1 0 1 0 1 0 1 0 1 0 1 0 1 0 1 0 1 0 1 0 1 0 1 0 1 0 1 0 1 0 1 0 1 0 1 0 1 0 1 0 1 0 1 0 1 0 1 0 1 0 1 0 1 0 1 0 1 0 1 0 1 0 1 0 1 0 1 0 1 0 1 0 1 0 1 0 1 0 1 0 1 0 1 0 1 0 1 0 1 0 1 0 1 0 1 0 1 0 1 0 1 0 1 0 1 0 1 0 1 0 1 0 1 0 1 0 1 0 1 0 1 0 1 0 1 0 1 0 1 0 1 0 1 0 1 0 1 0 1 0 1 0 1 0 1 0 1 0 1 0 1 0 1 0 1 0 1 0 1 0 1 0 1 0 1 0 1 0 1 0 1 0 1 0 1 0 1 0 1 0 1 0 1 0 1 0 1 0 1 0 1 0 1 0 1 0 1 0 1 0 1 0 1 0 1 0 1 0 1 0 1 0 1 0 1 0 1 0 1 0 1 0 1 0 1 0 1 0 1 0 1 0" fill="none" stroke="#808080" stroke-width="3.8" stroke-linejoin="round" stroke-linecap="round"/>
<path clip-path="url(#cb1)" d="M834.3 314.3l1 0 1 0 1 0 1 0 1 0 1 0 1 0 1 0 1 0 1-0.1 1 0 1 0 1 0 1 0 1 0 1 0 1 0 1-0.1 1 0 1 0 1 0 1 0 1 0 1 0 1-0.1 1 0 1 0 1 0 1-0.1 1 0 1 0 1 0 1 0 1-0.1 1 0 1 0 1-0.1 1 0 1 0 1-0.1 1 0 1-0.1 1 0 1 0 1-0.1 1 0 1-0.1 1 0 1-0.1 1-0.1 1 0 1-0.1 1-0.1 1 0 1-0.1 1-0.1 1-0.1 1-0.1 1-0.1 1-0.1 1-0.1 1-0.1 1-0.1 1-0.2 1-0.1 1-0.1 1-0.2 1-0.1 1-0.2 1-0.2 1-0.1 1-0.2 1-0.2 1-0.2 1-0.2 1-0.3 1-0.2 1-0.2 1-0.3 1-0.3 1-0.3 1-0.3 1-0.3 1-0.3 1-0.3 1-0.4 1-0.3 1-0.4 1-0.4 1-0.4 1-0.5 1-0.4 1-0.5 1-0.5 1-0.5 1-0.5 1-0.6 1-0.5 1-0.6 1-0.6 1-0.7 1-0.6 1-0.7 1-0.7 1-0.8 1-0.7 1-0.8 1-0.8 1-0.9 1-0.8 1-0.9 1-0.9 1-1 1-1 1-1 1-1 1-1.1 1-1.1 1-1.1 1-1.2 1-1.2 1-1.2 1-1.2 1-1.3 1-1.3 1-1.4 1-1.4 1-1.4 1-1.4 1-1.5 1-1.5 1-1.5 1-1.6 1-1.6 1-1.6 1-1.7 1-1.7 1-1.7 1-1.7 1-1.8 1-1.8 1-1.8 1-1.9 1-1.9 1-1.9 1-1.9 1-1.9 1-2 1-2 1-2 1-2 1-2 1-2.1 1-2.1 1-2 1-2.1 1-2.1 1-2.2 1-2.1 1-2.1 1-2.1 1-2.1 1-2.2 1-2.1 1-2.1 1-2.1 1-2.1 1-2.1 1-2.1 1-2.1 1-2.1 1-2 1-2 1-2 1-2 1-2 1-1.9 1-1.9 1-1.9 1-1.9 1-1.8 1-1.8 1-1.7 1-1.7 1-1.7 1-1.6 1-1.6 1-1.5 1-1.5 1-1.4 1-1.4 1-1.3 1-1.3 1-1.2 1-1.2 1-1.1 1-1.1 1-1 1-0.9 1-0.9 1-0.8 1-0.8 1-0.7 1-0.6 1-0.6 1-0.5 1-0.4 1-0.4 1-0.4 1-0.2 1-0.2 1-0.1 1-0.1 1 0 1 0 1 0.1 1 0.2 1 0.2 1 0.3 1 0.3 1 0.4 1 0.4 1 0.5 1 0.6 1 0.6 1 0.6 1 0.7 1 0.7 1 0.8 1 0.8 1 0.9 1 0.8 1 1 1 0.9 1 1 1 1 1 1.1 1 1 1 1.1 1 1.2 1 1.1 1 1.2 1 1.1 1 1.2 1 1.2 1 1.3 1 1.2 1 1.2 1 1.3 1 1.2 1 1.3 1 1.2 1 1.3 1 1.2 1 1.3 1 1.2 1 1.2 1 1.3 1 1.2 1 1.2 1 1.2 1 1.2 1 1.2 1 1.1 1 1.1 1 1.2 1 1.1 1 1.1 1 1 1 1.1 1 1 1 1 1 1 1 1 1 0.9 1 0.9 1 0.9 1 0.9 1 0.8 1 0.9 1 0.8 1 0.7 1 0.8 1 0.7 1 0.7 1 0.7 1 0.6 1 0.7 1 0.6 1 0.6 1 0.5 1 0.6 1 0.5 1 0.5 1 0.4 1 0.5 1 0.4 1 0.5 1 0.3 1 0.4 1 0.4 1 0.3 1 0.4 1 0.3 1 0.3 1 0.3 1 0.2 1 0.3 1 0.2 1 0.3 1 0.2 1 0.2 1 0.2 1 0.2 1 0.2 1 0.2 1 0.2 1 0.2 1 0.1 1 0.2 1 0.2 1 0.2 1 0.1 1 0.2 1 0.1 1 0.2 1 0.2 1 0.1 1 0.2 1 0.2 1 0.2 1 0.2 1 0.1 1 0.2 1 0.2 1 0.3 1 0.2 1 0.2 1 0.2 1 0.2 1 0.3 1 0.2 1 0.3 1 0.3 1 0.3 1 0.3 1 0.3 1 0.3 1 0.3 1 0.3 1 0.4 1 0.3 1 0.4 1 0.4 1 0.4 1 0.4 1 0.4 1 0.4 1 0.4 1 0.5 1 0.4 1 0.5 1 0.4 1 0.5 1 0.5 1 0.5 1 0.6 1 0.5 1 0.5 1 0.6 1 0.5 1 0.6 1 0.6 1 0.5 1 0.6 1 0.6 1 0.7 1 0.6 1 0.6 1 0.6 1 0.7 1 0.6 1 0.7 1 0.6 1 0.7 1 0.7 1 0.6 1 0.7 1 0.7 1 0.7 1 0.7 1 0.7 1 0.7 1 0.7 1 0.7 1 0.8 1 0.7 1 0.7 1 0.7 1 0.7 1 0.8 1 0.7 1 0.7 1 0.7 1 0.8 1 0.7 1 0.7 1 0.8 1 0.7 1 0.7 1 0.7 1 0.8 1 0.7 1 0.7 1 0.7 1 0.7 1 0.7 1 0.8 1 0.7 1 0.7 1 0.7 1 0.7 1 0.7 1 0.6 1 0.7 1 0.7 1 0.7 1 0.6 1 0.7 1 0.7 1 0.6 1 0.7 1 0.6 1 0.6 1 0.7 1 0.6 1 0.6 1 0.6 1 0.6 1 0.6 1 0.6 1 0.6 1 0.6 1 0.5 1 0.6 1 0.6 1 0.5 1 0.6 1 0.5 1 0.5 1 0.5 1 0.6 1 0.5 1 0.5 1 0.5 1 0.4 1 0.5 1 0.5 1 0.4 1 0.5 1 0.5 1 0.4 1 0.4 1 0.5 1 0.4 1 0.4 1 0.4 1 0.4 1 0.4 1 0.3 1 0.4 1 0.4 1 0.4 1 0.3 1 0.4 1 0.3 1 0.3 1 0.4 1 0.3 1 0.3 1 0.3 1 0.3 1 0.3 1 0.3 1 0.3 1 0.2 1 0.3 1 0.3 1 0.2 1 0.3 1 0.2 1 0.2 1 0.3 1 0.2 1 0.2 1 0.2 1 0.3 1 0.2 1 0.2 1 0.2 1 0.2 1 0.1 1 0.2 1 0.2 1 0.2 1 0.1 1 0.2 1 0.2 1 0.1 1 0.2 1 0.1 1 0.2 1 0.1 1 0.1 1 0.2 1 0.1 1 0.1 1 0.1 1 0.2 1 0.1 1 0.1 1 0.1 1 0.1 1 0.1 1 0.1 1 0.1 1 0.1 1 0.1 1 0.1 1 0 1 0.1 1 0.1 1 0.1 1 0 1 0.1 1 0.1 1 0.1 1 0 1 0.1 1 0 1 0.1 1 0.1 1 0 1 0.1 1 0 1 0.1 1 0 1 0.1 1 0 1 0.1 1 0 1 0.1 1 0 1 0 1 0.1 1 0 1 0 1 0.1 1 0 1 0 1 0.1 1 0 1 0 1 0.1 1 0 1 0 1 0 1 0.1 1 0 1 0 1 0 1 0.1 1 0 1 0 1 0 1 0 1 0 1 0.1 1 0 1 0 1 0 1 0 1 0 1 0.1 1 0 1 0 1 0 1 0 1 0 1 0 1 0.1 1 0 1 0 1 0 1 0 1 0 1 0 1 0 1 0 1 0 1 0.1 1 0 1 0 1 0 1 0 1 0 1 0 1 0 1 0 1 0 1 0 1 0 1 0 1 0 1 0.1 1 0 1 0 1 0 1 0 1 0 1 0 1 0 1 0 1 0 1 0 1 0 1 0 1 0" fill="none" stroke="#008000" stroke-width="4.6" stroke-linejoin="round" stroke-linecap="round"/>
<path clip-path="url(#cb2)" d="M834.3 684.3l1-0.1 1-0.1 1 0 1-0.1 1-0.1 1-0.1 1-0.1 1 0 1-0.1 1-0.1 1-0.1 1-0.1 1-0.1 1-0.1 1-0.2 1-0.1 1-0.1 1-0.1 1-0.2 1-0.1 1-0.1 1-0.2 1-0.1 1-0.2 1-0.1 1-0.2 1-0.2 1-0.2 1-0.2 1-0.2 1-0.2 1-0.2 1-0.2 1-0.2 1-0.2 1-0.3 1-0.2 1-0.3 1-0.2 1-0.3 1-0.3 1-0.2 1-0.3 1-0.3 1-0.4 1-0.3 1-0.3 1-0.4 1-0.3 1-0.4 1-0.3 1-0.4 1-0.4 1-0.4 1-0.4 1-0.5 1-0.4 1-0.4 1-0.5 1-0.5 1-0.5 1-0.5 1-0.5 1-0.5 1-0.6 1-0.5 1-0.6 1-0.5 1-0.6 1-0.7 1-0.6 1-0.6 1-0.7 1-0.6 1-0.7 1-0.7 1-0.7 1-0.7 1-0.8 1-0.7 1-0.8 1-0.8 1-0.8 1-0.8 1-0.9 1-0.8 1-0.9 1-0.9 1-0.9 1-0.9 1-0.9 1-1 1-0.9 1-1 1-1 1-1 1-1.1 1-1 1-1.1 1-1 1-1.1 1-1.1 1-1.2 1-1.1 1-1.2 1-1.1 1-1.2 1-1.2 1-1.2 1-1.3 1-1.2 1-1.3 1-1.2 1-1.3 1-1.3 1-1.3 1-1.4 1-1.3 1-1.4 1-1.3 1-1.4 1-1.4 1-1.4 1-1.4 1-1.4 1-1.4 1-1.4 1-1.4 1-1.5 1-1.4 1-1.5 1-1.5 1-1.4 1-1.5 1-1.5 1-1.5 1-1.4 1-1.5 1-1.5 1-1.5 1-1.5 1-1.5 1-1.5 1-1.5 1-1.5 1-1.4 1-1.5 1-1.5 1-1.5 1-1.4 1-1.5 1-1.4 1-1.5 1-1.4 1-1.4 1-1.5 1-1.4 1-1.4 1-1.4 1-1.3 1-1.4 1-1.3 1-1.3 1-1.4 1-1.3 1-1.2 1-1.3 1-1.2 1-1.3 1-1.2 1-1.1 1-1.2 1-1.1 1-1.1 1-1.1 1-1.1 1-1 1-1.1 1-1 1-0.9 1-1 1-0.9 1-0.8 1-0.9 1-0.8 1-0.8 1-0.8 1-0.7 1-0.7 1-0.7 1-0.6 1-0.6 1-0.6 1-0.5 1-0.5 1-0.5 1-0.4 1-0.4 1-0.4 1-0.3 1-0.3 1-0.3 1-0.2 1-0.2 1-0.2 1-0.1 1-0.1 1 0 1 0 1 0 1 0.1 1 0.1 1 0.1 1 0.2 1 0.2 1 0.2 1 0.3 1 0.3 1 0.3 1 0.4 1 0.4 1 0.5 1 0.5 1 0.5 1 0.5 1 0.6 1 0.6 1 0.7 1 0.6 1 0.7 1 0.8 1 0.7 1 0.8 1 0.9 1 0.8 1 0.9 1 0.9 1 0.9 1 1 1 1 1 1 1 1 1 1.1 1 1.1 1 1.1 1 1.1 1 1.2 1 1.1 1 1.2 1 1.2 1 1.2 1 1.3 1 1.2 1 1.3 1 1.3 1 1.3 1 1.3 1 1.4 1 1.3 1 1.4 1 1.3 1 1.4 1 1.4 1 1.4 1 1.4 1 1.4 1 1.4 1 1.4 1 1.4 1 1.5 1 1.4 1 1.4 1 1.5 1 1.4 1 1.5 1 1.4 1 1.4 1 1.5 1 1.4 1 1.5 1 1.4 1 1.4 1 1.4 1 1.5 1 1.4 1 1.4 1 1.4 1 1.4 1 1.4 1 1.4 1 1.3 1 1.4 1 1.4 1 1.3 1 1.3 1 1.4 1 1.3 1 1.3 1 1.3 1 1.3 1 1.2 1 1.3 1 1.2 1 1.2 1 1.3 1 1.2 1 1.2 1 1.1 1 1.2 1 1.1 1 1.2 1 1.1 1 1.1 1 1.1 1 1 1 1.1 1 1 1 1.1 1 1 1 1 1 0.9 1 1 1 0.9 1 1 1 0.9 1 0.9 1 0.9 1 0.8 1 0.9 1 0.8 1 0.8 1 0.8 1 0.8 1 0.8 1 0.7 1 0.8 1 0.7 1 0.7 1 0.7 1 0.7 1 0.6 1 0.7 1 0.6 1 0.6 1 0.6 1 0.6 1 0.6 1 0.6 1 0.5 1 0.5 1 0.6 1 0.5 1 0.5 1 0.5 1 0.4 1 0.5 1 0.4 1 0.5 1 0.4 1 0.4 1 0.4 1 0.4 1 0.4 1 0.3 1 0.4 1 0.3 1 0.4 1 0.3 1 0.3 1 0.3 1 0.3 1 0.3 1 0.3 1 0.2 1 0.3 1 0.3 1 0.2 1 0.2 1 0.3 1 0.2 1 0.2 1 0.2 1 0.2 1 0.2 1 0.2 1 0.2 1 0.1 1 0.2 1 0.2 1 0.1 1 0.2 1 0.1 1 0.1 1 0.2 1 0.1 1 0.1 1 0.1 1 0.2 1 0.1 1 0.1 1 0.1 1 0.1 1 0.1 1 0.1 1 0 1 0.1 1 0.1 1 0.1 1 0 1 0.1 1 0.1 1 0 1 0.1 1 0.1 1 0 1 0.1 1 0 1 0.1 1 0 1 0 1 0.1 1 0 1 0.1 1 0 1 0 1 0.1 1 0 1 0 1 0 1 0.1 1 0 1 0 1 0 1 0 1 0.1 1 0 1 0 1 0 1 0 1 0 1 0.1 1 0 1 0 1 0 1 0 1 0 1 0 1 0 1 0 1 0 1 0 1 0.1 1 0 1 0 1 0 1 0 1 0 1 0 1 0 1 0 1 0 1 0 1 0 1 0 1 0 1 0 1 0 1 0 1 0 1 0 1 0 1 0 1 0 1 0 1 0 1 0 1 0 1 0 1 0 1 0 1 0 1 0 1 0 1 0 1 0 1 0 1 0 1 0 1 0 1 0 1 0 1 0 1 0 1 0 1 0 1 0 1 0 1 0 1 0 1 0 1 0 1 0 1 0 1 0 1 0 1 0 1 0 1 0 1 0 1 0 1 0 1 0 1 0 1 0 1-0.1 1 0 1 0 1 0 1 0 1 0 1 0 1 0 1 0 1 0 1 0 1 0 1 0 1 0 1 0 1 0 1 0 1 0 1 0 1 0 1 0 1 0 1 0 1 0 1 0 1 0 1 0 1 0 1 0 1 0 1 0 1 0 1 0 1 0 1 0 1 0 1 0 1 0 1 0 1 0 1 0 1 0 1 0 1 0 1 0 1 0 1 0 1 0 1 0 1 0 1 0 1 0 1 0 1 0 1 0 1 0 1 0 1 0 1 0 1 0 1 0 1 0 1 0 1 0 1 0 1 0 1 0 1 0 1 0 1 0 1 0 1 0 1 0 1 0 1 0 1 0 1 0 1 0 1 0 1 0 1 0 1 0 1 0 1 0 1 0 1 0 1 0 1 0 1 0 1 0 1 0 1 0 1 0 1 0 1 0 1 0 1 0 1 0 1 0 1 0 1 0 1 0 1 0 1 0 1 0 1 0 1 0 1 0 1 0 1 0 1 0 1 0 1 0 1 0" fill="none" stroke="#ff0000" stroke-width="4.0" stroke-linejoin="round" stroke-linecap="round"/>
<path clip-path="url(#cb2)" d="M834.3 685.7l1 0 1 0 1 0 1 0 1 0 1 0 1 0 1 0 1 0 1-0.1 1 0 1 0 1 0 1 0 1 0 1 0 1 0 1 0 1 0 1 0 1 0 1 0 1 0 1 0 1 0 1 0 1 0 1 0 1 0 1 0 1 0 1 0 1 0 1 0 1 0 1 0 1 0 1 0 1 0 1 0 1 0 1 0 1 0 1 0 1 0 1 0 1 0 1 0 1 0 1 0 1-0.1 1 0 1 0 1 0 1 0 1 0 1 0 1 0 1 0 1 0 1 0 1 0 1 0 1 0 1-0.1 1 0 1 0 1 0 1 0 1 0 1 0 1 0 1 0 1-0.1 1 0 1 0 1 0 1 0 1 0 1-0.1 1 0 1 0 1 0 1 0 1 0 1-0.1 1 0 1 0 1 0 1-0.1 1 0 1 0 1 0 1-0.1 1 0 1 0 1-0.1 1 0 1 0 1-0.1 1 0 1-0.1 1 0 1 0 1-0.1 1 0 1-0.1 1 0 1-0.1 1 0 1-0.1 1 0 1-0.1 1 0 1-0.1 1-0.1 1 0 1-0.1 1-0.1 1-0.1 1 0 1-0.1 1-0.1 1-0.1 1-0.1 1 0 1-0.1 1-0.1 1-0.1 1-0.1 1-0.1 1-0.1 1-0.2 1-0.1 1-0.1 1-0.1 1-0.1 1-0.2 1-0.1 1-0.1 1-0.2 1-0.1 1-0.2 1-0.1 1-0.2 1-0.1 1-0.2 1-0.2 1-0.2 1-0.1 1-0.2 1-0.2 1-0.2 1-0.2 1-0.2 1-0.3 1-0.2 1-0.2 1-0.2 1-0.3 1-0.2 1-0.3 1-0.2 1-0.3 1-0.3 1-0.3 1-0.3 1-0.2 1-0.3 1-0.4 1-0.3 1-0.3 1-0.3 1-0.4 1-0.3 1-0.4 1-0.3 1-0.4 1-0.4 1-0.4 1-0.4 1-0.4 1-0.4 1-0.4 1-0.5 1-0.4 1-0.5 1-0.4 1-0.5 1-0.5 1-0.5 1-0.5 1-0.5 1-0.5 1-0.6 1-0.5 1-0.6 1-0.5 1-0.6 1-0.6 1-0.6 1-0.6 1-0.6 1-0.7 1-0.6 1-0.6 1-0.7 1-0.7 1-0.7 1-0.7 1-0.7 1-0.7 1-0.7 1-0.7 1-0.8 1-0.8 1-0.7 1-0.8 1-0.8 1-0.8 1-0.8 1-0.8 1-0.9 1-0.8 1-0.9 1-0.8 1-0.9 1-0.9 1-0.9 1-0.9 1-0.9 1-1 1-0.9 1-1 1-0.9 1-1 1-0.9 1-1 1-1 1-1 1-1 1-1 1-1.1 1-1 1-1 1-1.1 1-1 1-1.1 1-1.1 1-1 1-1.1 1-1.1 1-1.1 1-1.1 1-1.1 1-1.1 1-1.1 1-1.1 1-1.1 1-1.1 1-1.1 1-1.1 1-1.2 1-1.1 1-1.1 1-1.1 1-1.1 1-1.2 1-1.1 1-1.1 1-1.1 1-1.1 1-1.1 1-1.2 1-1.1 1-1.1 1-1.1 1-1.1 1-1.1 1-1 1-1.1 1-1.1 1-1 1-1.1 1-1.1 1-1 1-1 1-1 1-1.1 1-1 1-1 1-0.9 1-1 1-1 1-0.9 1-0.9 1-1 1-0.9 1-0.8 1-0.9 1-0.9 1-0.8 1-0.9 1-0.8 1-0.8 1-0.7 1-0.8 1-0.8 1-0.7 1-0.7 1-0.7 1-0.6 1-0.7 1-0.6 1-0.6 1-0.6 1-0.6 1-0.5 1-0.6 1-0.5 1-0.4 1-0.5 1-0.4 1-0.5 1-0.3 1-0.4 1-0.4 1-0.3 1-0.3 1-0.2 1-0.3 1-0.2 1-0.2 1-0.2 1-0.2 1-0.1 1-0.1 1-0.1 1 0 1-0.1 1 0 1 0.1 1 0 1 0.1 1 0.1 1 0.1 1 0.1 1 0.2 1 0.2 1 0.2 1 0.2 1 0.3 1 0.3 1 0.3 1 0.3 1 0.4 1 0.3 1 0.4 1 0.5 1 0.4 1 0.5 1 0.5 1 0.5 1 0.5 1 0.5 1 0.6 1 0.6 1 0.6 1 0.7 1 0.6 1 0.7 1 0.7 1 0.7 1 0.7 1 0.7 1 0.8 1 0.8 1 0.7 1 0.9 1 0.8 1 0.8 1 0.9 1 0.8 1 0.9 1 0.9 1 0.9 1 0.9 1 0.9 1 1 1 0.9 1 1 1 1 1 0.9 1 1 1 1 1 1 1 1 1 1.1 1 1 1 1 1 1.1 1 1 1 1.1 1 1 1 1.1 1 1 1 1.1 1 1.1 1 1 1 1.1 1 1.1 1 1.1 1 1 1 1.1 1 1.1 1 1.1 1 1 1 1.1 1 1.1 1 1.1 1 1 1 1.1 1 1 1 1.1 1 1.1 1 1 1 1.1 1 1 1 1 1 1.1 1 1 1 1 1 1 1 1 1 1 1 1 1 1 1 1 1 0.9 1 1 1 1 1 0.9 1 0.9 1 1 1 0.9 1 0.9 1 0.9 1 0.9 1 0.9 1 0.8 1 0.9 1 0.8 1 0.9 1 0.8 1 0.8 1 0.8 1 0.9 1 0.7 1 0.8 1 0.8 1 0.7 1 0.8 1 0.7 1 0.8 1 0.7 1 0.7 1 0.7 1 0.7 1 0.6 1 0.7 1 0.6 1 0.7 1 0.6 1 0.6 1 0.6 1 0.6 1 0.6 1 0.6 1 0.6 1 0.5 1 0.6 1 0.5 1 0.5 1 0.5 1 0.5 1 0.5 1 0.5 1 0.5 1 0.5 1 0.4 1 0.5 1 0.4 1 0.4 1 0.4 1 0.5 1 0.4 1 0.3 1 0.4 1 0.4 1 0.4 1 0.3 1 0.4 1 0.3 1 0.3 1 0.4 1 0.3 1 0.3 1 0.3 1 0.3 1 0.3 1 0.3 1 0.2 1 0.3 1 0.2 1 0.3 1 0.2 1 0.3 1 0.2 1 0.2 1 0.3 1 0.2 1 0.2 1 0.2 1 0.2 1 0.2 1 0.1 1 0.2 1 0.2 1 0.2 1 0.1 1 0.2 1 0.1 1 0.2 1 0.1 1 0.2 1 0.1 1 0.1 1 0.2 1 0.1 1 0.1 1 0.1 1 0.2 1 0.1 1 0.1 1 0.1 1 0.1 1 0.1 1 0.1 1 0 1 0.1 1 0.1 1 0.1 1 0.1 1 0.1 1 0 1 0.1 1 0.1 1 0 1 0.1 1 0.1 1 0 1 0.1 1 0 1 0.1 1 0 1 0.1 1 0 1 0.1 1 0 1 0.1 1 0 1 0 1 0.1 1 0 1 0 1 0.1 1 0 1 0 1 0.1 1 0 1 0 1 0 1 0.1 1 0 1 0 1 0 1 0.1 1 0 1 0 1 0 1 0 1 0.1 1 0 1 0 1 0 1 0 1 0 1 0 1 0.1 1 0 1 0 1 0 1 0 1 0 1 0 1 0 1 0 1 0.1 1 0 1 0 1 0 1 0 1 0 1 0 1 0 1 0 1 0 1 0 1 0 1 0 1 0 1 0 1 0 1 0 1 0 1 0.1 1 0 1 0" fill="none" stroke="#0000ff" stroke-width="4.0" stroke-linejoin="round" stroke-linecap="round"/>
<path clip-path="url(#cb2)" d="M834.3 685.7l1 0 1 0 1 0 1 0 1 0 1 0 1 0 1 0 1 0 1 0 1 0 1 0 1 0 1 0 1 0 1 0 1 0 1 0 1-0.1 1 0 1 0 1 0 1 0 1 0 1 0 1 0 1 0 1 0 1 0 1 0 1 0 1 0 1 0 1 0 1 0 1 0 1 0 1 0 1 0 1 0 1 0 1 0 1 0 1 0 1 0 1 0 1 0 1 0 1 0 1 0 1 0 1 0 1 0 1 0 1 0 1 0 1 0 1 0 1 0 1 0 1 0 1 0 1 0 1 0 1 0 1 0 1 0 1 0 1 0 1-0.1 1 0 1 0 1 0 1 0 1 0 1 0 1 0 1 0 1 0 1 0 1 0 1 0 1 0 1 0 1 0 1 0 1 0 1 0 1 0 1-0.1 1 0 1 0 1 0 1 0 1 0 1 0 1 0 1 0 1 0 1 0 1 0 1 0 1-0.1 1 0 1 0 1 0 1 0 1 0 1 0 1 0 1 0 1 0 1-0.1 1 0 1 0 1 0 1 0 1 0 1 0 1 0 1-0.1 1 0 1 0 1 0 1 0 1 0 1 0 1-0.1 1 0 1 0 1 0 1 0 1 0 1 0 1-0.1 1 0 1 0 1 0 1 0 1 0 1-0.1 1 0 1 0 1 0 1 0 1-0.1 1 0 1 0 1 0 1 0 1-0.1 1 0 1 0 1 0 1 0 1-0.1 1 0 1 0 1 0 1-0.1 1 0 1 0 1 0 1 0 1-0.1 1 0 1 0 1 0 1-0.1 1 0 1 0 1 0 1-0.1 1 0 1 0 1-0.1 1 0 1 0 1 0 1-0.1 1 0 1 0 1 0 1-0.1 1 0 1 0 1-0.1 1 0 1 0 1-0.1 1 0 1 0 1 0 1-0.1 1 0 1 0 1-0.1 1 0 1 0 1-0.1 1 0 1 0 1 0 1-0.1 1 0 1 0 1-0.1 1 0 1 0 1-0.1 1 0 1 0 1-0.1 1 0 1 0 1-0.1 1 0 1 0 1-0.1 1 0 1 0 1-0.1 1 0 1 0 1-0.1 1 0 1 0 1-0.1 1 0 1 0 1-0.1 1 0 1 0 1-0.1 1 0 1 0 1-0.1 1 0 1 0 1-0.1 1 0 1 0 1-0.1 1 0 1 0 1-0.1 1 0 1 0 1-0.1 1 0 1 0 1-0.1 1 0 1 0 1-0.1 1 0 1 0 1-0.1 1 0 1 0 1-0.1 1 0 1 0 1 0 1-0.1 1 0 1 0 1-0.1 1 0 1 0 1-0.1 1 0 1 0 1-0.1 1 0 1 0 1-0.1 1 0 1 0 1-0.1 1 0 1 0 1 0 1-0.1 1 0 1 0 1-0.1 1 0 1 0 1-0.1 1 0 1 0 1 0 1-0.1 1 0 1 0 1-0.1 1 0 1 0 1-0.1 1 0 1 0 1 0 1-0.1 1 0 1 0 1-0.1 1 0 1 0 1 0 1-0.1 1 0 1 0 1-0.1 1 0 1 0 1 0 1-0.1 1 0 1 0 1-0.1 1 0 1 0 1 0 1-0.1 1 0 1 0 1 0 1-0.1 1 0 1 0 1 0 1-0.1 1 0 1 0 1-0.1 1 0 1 0 1 0 1-0.1 1 0 1 0 1 0 1-0.1 1 0 1 0 1 0 1-0.1 1 0 1 0 1 0 1 0 1-0.1 1 0 1 0 1 0 1-0.1 1 0 1 0 1 0 1-0.1 1 0 1 0 1 0 1-0.1 1 0 1 0 1 0 1 0 1-0.1 1 0 1 0 1 0 1 0 1-0.1 1 0 1 0 1 0 1 0 1-0.1 1 0 1 0 1 0 1 0 1-0.1 1 0 1 0 1 0 1 0 1-0.1 1 0 1 0 1 0 1 0 1 0 1-0.1 1 0 1 0 1 0 1 0 1 0 1-0.1 1 0 1 0 1 0 1 0 1 0 1 0 1-0.1 1 0 1 0 1 0 1 0 1 0 1 0 1-0.1 1 0 1 0 1 0 1 0 1 0 1 0 1 0 1-0.1 1 0 1 0 1 0 1 0 1 0 1 0 1 0 1 0 1-0.1 1 0 1 0 1 0 1 0 1 0 1 0 1 0 1 0 1 0 1 0 1-0.1 1 0 1 0 1 0 1 0 1 0 1 0 1 0 1 0 1 0 1 0 1 0 1 0 1-0.1 1 0 1 0 1 0 1 0 1 0 1 0 1 0 1 0 1 0 1 0 1 0 1 0 1 0 1 0 1 0 1 0 1 0 1 0 1 0 1-0.1 1 0 1 0 1 0 1 0 1 0 1 0 1 0 1 0 1 0 1 0 1 0 1 0 1 0 1 0 1 0 1 0 1 0 1 0 1 0 1 0 1 0 1 0 1 0 1 0 1 0 1 0 1 0 1 0 1 0 1 0 1 0 1 0 1 0 1 0 1 0 1 0 1 0 1 0 1 0 1 0 1 0 1-0.1 1 0 1 0 1 0 1 0 1 0 1 0 1 0 1 0 1 0 1 0 1 0 1 0 1 0 1 0 1 0 1 0 1 0 1 0 1 0 1 0 1 0 1 0 1 0 1 0 1 0 1 0 1 0 1 0 1 0 1 0 1 0 1 0 1 0 1 0 1 0 1 0 1 0 1 0 1 0 1 0 1 0 1 0 1 0 1 0 1 0 1 0 1 0 1 0 1 0 1 0 1 0 1 0 1 0 1 0 1 0 1 0 1 0 1 0 1 0 1 0 1 0 1 0 1 0 1 0 1 0 1 0 1 0 1 0 1 0 1 0 1 0 1 0 1 0 1 0 1 0 1 0 1 0 1 0 1 0 1 0 1 0 1 0 1 0 1 0 1 0 1 0 1 0 1 0 1 0 1 0 1 0 1 0 1 0 1 0 1 0 1 0 1 0 1 0 1 0 1 0 1 0 1 0 1 0 1 0 1 0 1 0 1 0 1 0 1 0" fill="none" stroke="#808080" stroke-width="3.8" stroke-linejoin="round" stroke-linecap="round"/>
<path clip-path="url(#cb2)" d="M834.3 683.7l1-0.1 1-0.1 1-0.1 1-0.1 1-0.1 1-0.1 1-0.1 1-0.1 1-0.1 1-0.1 1-0.2 1-0.1 1-0.1 1-0.2 1-0.1 1-0.2 1-0.1 1-0.2 1-0.1 1-0.2 1-0.2 1-0.1 1-0.2 1-0.2 1-0.2 1-0.2 1-0.2 1-0.3 1-0.2 1-0.2 1-0.3 1-0.2 1-0.3 1-0.2 1-0.3 1-0.3 1-0.2 1-0.3 1-0.3 1-0.4 1-0.3 1-0.3 1-0.4 1-0.3 1-0.4 1-0.3 1-0.4 1-0.4 1-0.4 1-0.4 1-0.4 1-0.5 1-0.4 1-0.5 1-0.4 1-0.5 1-0.5 1-0.5 1-0.5 1-0.6 1-0.5 1-0.5 1-0.6 1-0.6 1-0.6 1-0.6 1-0.6 1-0.7 1-0.6 1-0.7 1-0.6 1-0.7 1-0.8 1-0.7 1-0.7 1-0.8 1-0.7 1-0.8 1-0.8 1-0.8 1-0.9 1-0.8 1-0.9 1-0.8 1-0.9 1-0.9 1-1 1-0.9 1-1 1-0.9 1-1 1-1 1-1.1 1-1 1-1 1-1.1 1-1.1 1-1.1 1-1.1 1-1.2 1-1.1 1-1.2 1-1.2 1-1.2 1-1.2 1-1.2 1-1.2 1-1.3 1-1.3 1-1.3 1-1.3 1-1.3 1-1.3 1-1.4 1-1.3 1-1.4 1-1.4 1-1.4 1-1.4 1-1.4 1-1.4 1-1.5 1-1.4 1-1.5 1-1.5 1-1.5 1-1.5 1-1.5 1-1.5 1-1.5 1-1.5 1-1.6 1-1.5 1-1.6 1-1.5 1-1.6 1-1.6 1-1.6 1-1.6 1-1.5 1-1.6 1-1.6 1-1.6 1-1.6 1-1.6 1-1.6 1-1.6 1-1.6 1-1.6 1-1.6 1-1.6 1-1.6 1-1.6 1-1.6 1-1.6 1-1.5 1-1.6 1-1.6 1-1.5 1-1.6 1-1.5 1-1.6 1-1.5 1-1.5 1-1.5 1-1.5 1-1.5 1-1.5 1-1.5 1-1.4 1-1.4 1-1.5 1-1.4 1-1.4 1-1.4 1-1.3 1-1.4 1-1.3 1-1.3 1-1.3 1-1.3 1-1.2 1-1.3 1-1.2 1-1.2 1-1.2 1-1.1 1-1.2 1-1.1 1-1.1 1-1 1-1.1 1-1 1-1 1-1 1-1 1-0.9 1-0.9 1-0.9 1-0.8 1-0.9 1-0.8 1-0.8 1-0.7 1-0.8 1-0.7 1-0.7 1-0.6 1-0.7 1-0.6 1-0.6 1-0.5 1-0.6 1-0.5 1-0.5 1-0.5 1-0.4 1-0.4 1-0.4 1-0.4 1-0.3 1-0.3 1-0.3 1-0.3 1-0.2 1-0.3 1-0.2 1-0.2 1-0.1 1-0.1 1-0.2 1-0.1 1 0 1-0.1 1 0 1 0 1 0 1 0 1 0 1 0.1 1 0.1 1 0.1 1 0.1 1 0.1 1 0.2 1 0.1 1 0.2 1 0.2 1 0.2 1 0.2 1 0.2 1 0.3 1 0.2 1 0.3 1 0.3 1 0.3 1 0.3 1 0.3 1 0.3 1 0.4 1 0.3 1 0.3 1 0.4 1 0.4 1 0.4 1 0.3 1 0.4 1 0.4 1 0.4 1 0.4 1 0.5 1 0.4 1 0.4 1 0.4 1 0.5 1 0.4 1 0.4 1 0.5 1 0.4 1 0.5 1 0.5 1 0.4 1 0.5 1 0.4 1 0.5 1 0.5 1 0.4 1 0.5 1 0.5 1 0.5 1 0.4 1 0.5 1 0.5 1 0.5 1 0.4 1 0.5 1 0.5 1 0.5 1 0.5 1 0.5 1 0.5 1 0.4 1 0.5 1 0.5 1 0.5 1 0.5 1 0.5 1 0.5 1 0.5 1 0.5 1 0.5 1 0.5 1 0.5 1 0.5 1 0.6 1 0.5 1 0.5 1 0.5 1 0.5 1 0.6 1 0.5 1 0.5 1 0.6 1 0.5 1 0.6 1 0.5 1 0.6 1 0.6 1 0.5 1 0.6 1 0.6 1 0.6 1 0.6 1 0.6 1 0.6 1 0.6 1 0.6 1 0.6 1 0.7 1 0.6 1 0.7 1 0.6 1 0.7 1 0.7 1 0.6 1 0.7 1 0.7 1 0.7 1 0.8 1 0.7 1 0.7 1 0.8 1 0.7 1 0.8 1 0.7 1 0.8 1 0.8 1 0.8 1 0.8 1 0.8 1 0.9 1 0.8 1 0.8 1 0.9 1 0.9 1 0.8 1 0.9 1 0.9 1 0.9 1 0.9 1 1 1 0.9 1 0.9 1 1 1 0.9 1 1 1 1 1 0.9 1 1 1 1 1 1 1 1.1 1 1 1 1 1 1 1 1.1 1 1 1 1.1 1 1 1 1.1 1 1.1 1 1.1 1 1 1 1.1 1 1.1 1 1.1 1 1.1 1 1.1 1 1.1 1 1.1 1 1.1 1 1.2 1 1.1 1 1.1 1 1.1 1 1.1 1 1.2 1 1.1 1 1.1 1 1.1 1 1.2 1 1.1 1 1.1 1 1.1 1 1.1 1 1.2 1 1.1 1 1.1 1 1.1 1 1.1 1 1.1 1 1.1 1 1.1 1 1.1 1 1.1 1 1.1 1 1 1 1.1 1 1.1 1 1 1 1.1 1 1 1 1.1 1 1 1 1 1 1.1 1 1 1 1 1 1 1 1 1 1 1 0.9 1 1 1 0.9 1 1 1 0.9 1 1 1 0.9 1 0.9 1 0.9 1 0.9 1 0.8 1 0.9 1 0.9 1 0.8 1 0.9 1 0.8 1 0.8 1 0.8 1 0.8 1 0.8 1 0.8 1 0.7 1 0.8 1 0.7 1 0.8 1 0.7 1 0.7 1 0.7 1 0.7 1 0.7 1 0.6 1 0.7 1 0.6 1 0.6 1 0.7 1 0.6 1 0.6 1 0.6 1 0.5 1 0.6 1 0.6 1 0.5 1 0.6 1 0.5 1 0.5 1 0.5 1 0.5 1 0.5 1 0.5 1 0.4 1 0.5 1 0.4 1 0.5 1 0.4 1 0.4 1 0.4 1 0.4 1 0.4 1 0.4 1 0.4 1 0.3 1 0.4 1 0.3 1 0.4 1 0.3 1 0.3 1 0.3 1 0.3 1 0.3 1 0.3 1 0.3 1 0.3 1 0.3 1 0.2 1 0.3 1 0.2 1 0.3 1 0.2 1 0.2 1 0.3 1 0.2 1 0.2 1 0.2 1 0.2 1 0.2 1 0.2 1 0.1 1 0.2 1 0.2 1 0.2 1 0.1 1 0.2 1 0.1 1 0.2 1 0.1 1 0.2 1 0.1 1 0.1 1 0.1 1 0.2 1 0.1 1 0.1 1 0.1 1 0.1 1 0.1 1 0.1 1 0.1 1 0.1 1 0.1 1 0.1 1 0.1 1 0 1 0.1 1 0.1 1 0.1 1 0 1 0.1 1 0.1 1 0 1 0.1 1 0.1 1 0 1 0.1 1 0 1 0.1 1 0 1 0.1 1 0 1 0.1 1 0 1 0 1 0.1 1 0 1 0 1 0.1 1 0 1 0 1 0.1 1 0 1 0 1 0.1 1 0 1 0 1 0 1 0 1 0.1 1 0 1 0 1 0 1 0 1 0.1 1 0 1 0 1 0 1 0 1 0 1 0.1 1 0 1 0 1 0 1 0 1 0 1 0 1 0 1 0 1 0.1 1 0 1 0 1 0 1 0 1 0 1 0 1 0 1 0 1 0 1 0 1 0 1 0 1 0 1 0 1 0 1 0 1 0.1 1 0 1 0 1 0 1 0" fill="none" stroke="#008000" stroke-width="4.6" stroke-linejoin="round" stroke-linecap="round"/>
<line x1="1041.5" y1="155.2" x2="1041.5" y2="709.7" stroke="#ff0000" stroke-width="4" stroke-linecap="round" stroke-dasharray="15.2 23.33"/>
<line x1="1041.5" y1="151" x2="1041.5" y2="158" stroke="#ff0000" stroke-width="4"/>
<line x1="1179.3" y1="229.3" x2="1179.3" y2="709" stroke="#0000ff" stroke-width="4" stroke-linecap="round" stroke-dasharray="15.2 23.22"/>
<line x1="1179.3" y1="224.8" x2="1179.3" y2="231" stroke="#0000ff" stroke-width="4"/>
<rect x="976" y="81.6" width="148" height="42.7" fill="#fff"/>
<rect x="1131" y="161.4" width="137" height="44" fill="#fff"/>
<text transform="translate(979.5 115.5) scale(1 1.05)" font-size="38">399.3 eV</text>
<text transform="translate(1131.0 194.8) scale(1 1.05)" font-size="38">401.4 eV</text>
<path d="M82.0 711.6V38.5H710.3V711.6" fill="none" stroke="#1a1a1a" stroke-width="1.6"/>
<line x1="82.0" y1="375.0" x2="710.3" y2="375.0" stroke="#1a1a1a" stroke-width="1.6"/>
<line x1="80.4" y1="711.6" x2="711.9" y2="711.6" stroke="#000" stroke-width="3.2"/>
<path d="M834.3 711.6V38.5H1462.3V711.6" fill="none" stroke="#1a1a1a" stroke-width="1.6"/>
<line x1="834.3" y1="375.0" x2="1462.3" y2="375.0" stroke="#1a1a1a" stroke-width="1.6"/>
<line x1="832.6999999999999" y1="711.6" x2="1463.8999999999999" y2="711.6" stroke="#000" stroke-width="3.2"/>
<line x1="82.0" y1="711.6" x2="82.0" y2="728.0" stroke="#000" stroke-width="3.3" stroke-linecap="round"/>
<text transform="translate(82.5 774.9) scale(1 1.05)" font-size="46" text-anchor="middle">10</text>
<line x1="134.4" y1="711.6" x2="134.4" y2="719.2" stroke="#000" stroke-width="3.3" stroke-linecap="round"/>
<line x1="186.7" y1="711.6" x2="186.7" y2="728.0" stroke="#000" stroke-width="3.3" stroke-linecap="round"/>
<text transform="translate(187.2 774.9) scale(1 1.05)" font-size="46" text-anchor="middle">20</text>
<line x1="239.1" y1="711.6" x2="239.1" y2="719.2" stroke="#000" stroke-width="3.3" stroke-linecap="round"/>
<line x1="291.4" y1="711.6" x2="291.4" y2="728.0" stroke="#000" stroke-width="3.3" stroke-linecap="round"/>
<text transform="translate(291.9 774.9) scale(1 1.05)" font-size="46" text-anchor="middle">30</text>
<line x1="343.8" y1="711.6" x2="343.8" y2="719.2" stroke="#000" stroke-width="3.3" stroke-linecap="round"/>
<line x1="396.1" y1="711.6" x2="396.1" y2="728.0" stroke="#000" stroke-width="3.3" stroke-linecap="round"/>
<text transform="translate(396.6 774.9) scale(1 1.05)" font-size="46" text-anchor="middle">40</text>
<line x1="448.5" y1="711.6" x2="448.5" y2="719.2" stroke="#000" stroke-width="3.3" stroke-linecap="round"/>
<line x1="500.9" y1="711.6" x2="500.9" y2="728.0" stroke="#000" stroke-width="3.3" stroke-linecap="round"/>
<text transform="translate(501.4 774.9) scale(1 1.05)" font-size="46" text-anchor="middle">50</text>
<line x1="553.2" y1="711.6" x2="553.2" y2="719.2" stroke="#000" stroke-width="3.3" stroke-linecap="round"/>
<line x1="605.6" y1="711.6" x2="605.6" y2="728.0" stroke="#000" stroke-width="3.3" stroke-linecap="round"/>
<text transform="translate(606.1 774.9) scale(1 1.05)" font-size="46" text-anchor="middle">60</text>
<line x1="657.9" y1="711.6" x2="657.9" y2="719.2" stroke="#000" stroke-width="3.3" stroke-linecap="round"/>
<line x1="710.3" y1="711.6" x2="710.3" y2="728.0" stroke="#000" stroke-width="3.3" stroke-linecap="round"/>
<text transform="translate(710.8 774.9) scale(1 1.05)" font-size="46" text-anchor="middle">70</text>
<line x1="834.3" y1="711.6" x2="834.3" y2="728.0" stroke="#000" stroke-width="3.3" stroke-linecap="round"/>
<text transform="translate(834.6 774.9) scale(1 1.05)" font-size="46" text-anchor="middle">396</text>
<line x1="897.1" y1="711.6" x2="897.1" y2="719.2" stroke="#000" stroke-width="3.3" stroke-linecap="round"/>
<line x1="959.9" y1="711.6" x2="959.9" y2="728.0" stroke="#000" stroke-width="3.3" stroke-linecap="round"/>
<text transform="translate(960.2 774.9) scale(1 1.05)" font-size="46" text-anchor="middle">398</text>
<line x1="1022.7" y1="711.6" x2="1022.7" y2="719.2" stroke="#000" stroke-width="3.3" stroke-linecap="round"/>
<line x1="1085.5" y1="711.6" x2="1085.5" y2="728.0" stroke="#000" stroke-width="3.3" stroke-linecap="round"/>
<text transform="translate(1085.8 774.9) scale(1 1.05)" font-size="46" text-anchor="middle">400</text>
<line x1="1148.3" y1="711.6" x2="1148.3" y2="719.2" stroke="#000" stroke-width="3.3" stroke-linecap="round"/>
<line x1="1211.1" y1="711.6" x2="1211.1" y2="728.0" stroke="#000" stroke-width="3.3" stroke-linecap="round"/>
<text transform="translate(1211.4 774.9) scale(1 1.05)" font-size="46" text-anchor="middle">402</text>
<line x1="1273.9" y1="711.6" x2="1273.9" y2="719.2" stroke="#000" stroke-width="3.3" stroke-linecap="round"/>
<line x1="1336.7" y1="711.6" x2="1336.7" y2="728.0" stroke="#000" stroke-width="3.3" stroke-linecap="round"/>
<text transform="translate(1337.0 774.9) scale(1 1.05)" font-size="46" text-anchor="middle">404</text>
<line x1="1399.5" y1="711.6" x2="1399.5" y2="719.2" stroke="#000" stroke-width="3.3" stroke-linecap="round"/>
<line x1="1462.3" y1="711.6" x2="1462.3" y2="728.0" stroke="#000" stroke-width="3.3" stroke-linecap="round"/>
<text transform="translate(1462.6 774.9) scale(1 1.05)" font-size="46" text-anchor="middle">406</text>
<text transform="translate(298.6 834.8) scale(1 1.025)" font-size="45.3">2-Theta (<tspan font-size="27" dy="-24.5">o</tspan><tspan dy="24.5">)</tspan></text>
<text transform="translate(1051.1 834.8) scale(1 1.025)" font-size="45.3">2-Theta (<tspan font-size="27" dy="-24.5">o</tspan><tspan dy="24.5">)</tspan></text>
<text transform="translate(47.6 508.1) rotate(-90) scale(1 1.025)" font-size="46.5">Intensity (a.u.)</text>
<text transform="translate(801.7 510.8) rotate(-90) scale(1 1.025)" font-size="46.5">Intensity (a.u.)</text>
<text transform="translate(1.8 36.5) scale(1 1.025)" font-size="46.3">(a)</text>
<text transform="translate(750.3 35.6) scale(1 1.025)" font-size="45.6">(b)</text>
<text transform="translate(85.2 77.6) scale(1 1.025)" font-size="38">(Na500)</text>
<text transform="translate(85.7 412.9) scale(1 1.025)" font-size="38.3">(S500)</text>
<text transform="translate(1326.6 77.8) scale(1 1.025)" font-size="38">(Na500)</text>
<text transform="translate(1336.2 413.5) scale(1 1.025)" font-size="37.9">(S500)</text>
<circle cx="521.9" cy="65.9" r="6.4" fill="#0000ff"/>
<text transform="translate(534.0 78.5) scale(1 1.05)" font-size="38">Maghemite</text>
<path d="M520.8 99.8 L527.7 111.5 L520.8 123.2 L513.9 111.5 Z" fill="none" stroke="#0000ff" stroke-width="1.7" stroke-linejoin="miter"/>
<text transform="translate(532.5 122.8) scale(1 1.05)" font-size="38.2">Quartz</text>
<path d="M256.5 63.800000000000004 L263.4 75.4 L256.5 87.0 L249.6 75.4 Z" fill="none" stroke="#0000ff" stroke-width="1.7"/>
<path d="M257.0 380.29999999999995 L263.9 391.9 L257.0 403.5 L250.1 391.9 Z" fill="none" stroke="#0000ff" stroke-width="1.7"/>
<circle cx="350.8" cy="134.8" r="6.2" fill="#0000ff"/>
<circle cx="632.2" cy="212.0" r="6.2" fill="#0000ff"/>
<circle cx="352.0" cy="542.3" r="6.2" fill="#0000ff"/>
<circle cx="633.1" cy="583.3" r="6.2" fill="#0000ff"/>
</svg></body></html>
